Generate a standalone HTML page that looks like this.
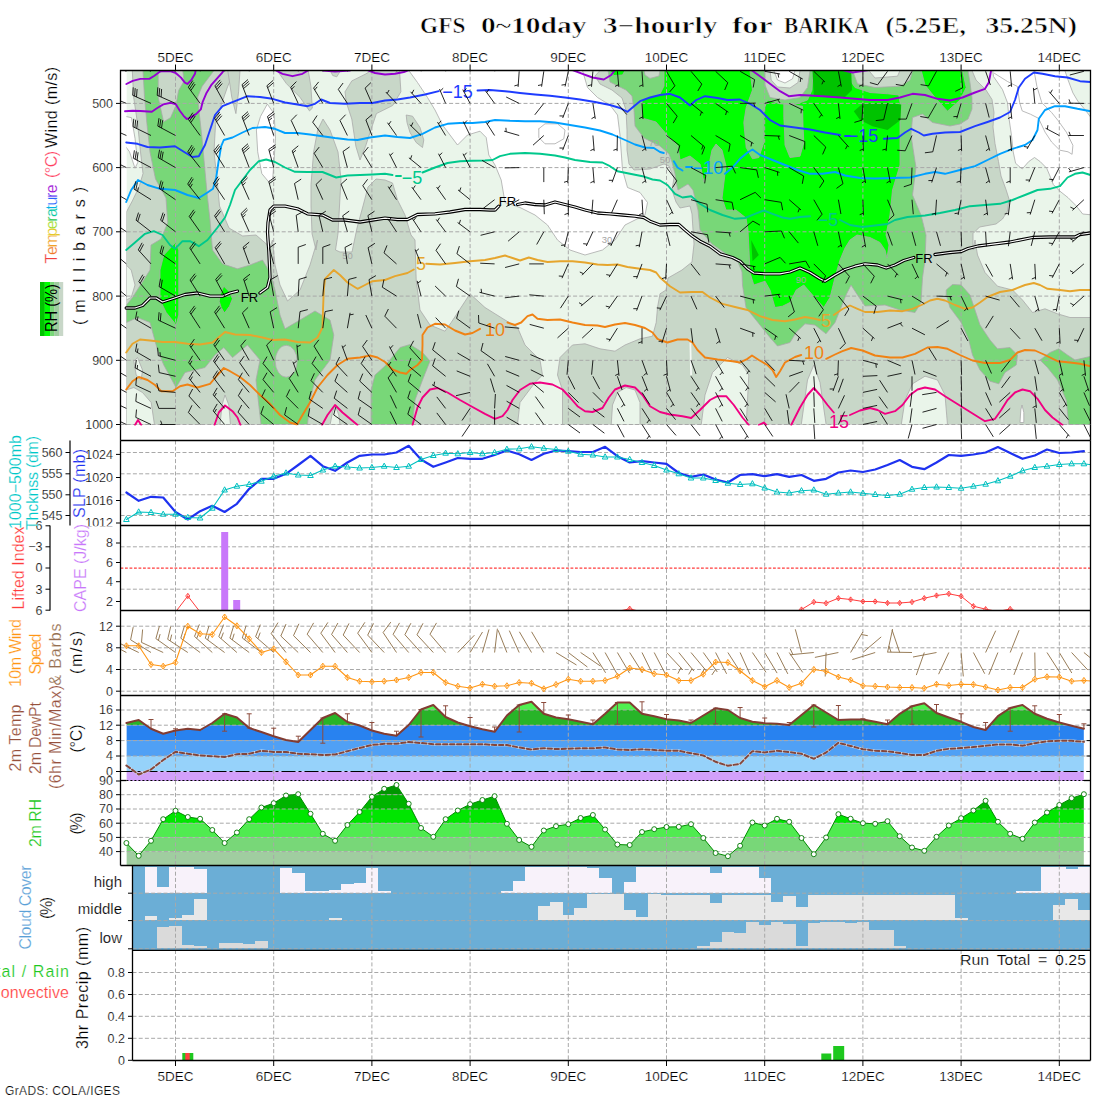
<!DOCTYPE html><html><head><meta charset="utf-8"><title>GFS meteogram BARIKA</title><style>html,body{margin:0;padding:0;background:#fff;}svg{display:block;}</style></head><body><svg width="1100" height="1100" viewBox="0 0 1100 1100" shape-rendering="auto"><defs>
<clipPath id="cmain"><rect x="126.4" y="70.5" width="964.1" height="354.0"/></clipPath>
<clipPath id="cmainf"><rect x="120.5" y="70.0" width="970.0" height="355.5"/></clipPath>
<clipPath id="cbarb"><rect x="120.5" y="70.5" width="970.0" height="369.5"/></clipPath>
<clipPath id="cp2"><rect x="120.5" y="440.5" width="970.0" height="85.0"/></clipPath>
<clipPath id="cp3"><rect x="120.5" y="525.5" width="970.0" height="85.0"/></clipPath>
<clipPath id="cp4"><rect x="120.5" y="610.5" width="970.0" height="85.0"/></clipPath>
<clipPath id="cp5"><rect x="120.5" y="695.5" width="970.0" height="85.0"/></clipPath>
<clipPath id="c1012"><rect x="0" y="500" width="120" height="26.3"/></clipPath>
</defs>
<g clip-path="url(#cmain)">
<rect x="126.4" y="70.5" width="964.1" height="354.0" fill="#eaf5ea" />
<polygon points="408.8,70.5 417.5,82.5 427.5,97.5 435.0,110.0 442.5,125.0 457.5,145.0 467.5,135.0 480.0,131.2 486.2,137.5 488.8,155.0 495.0,165.0 501.2,180.0 505.0,202.5 520.0,207.5 535.0,215.0 547.5,225.0 557.5,240.0 570.0,250.0 585.0,255.0 602.5,250.0 615.0,240.0 625.0,225.0 635.0,220.0 645.0,215.0 647.5,202.5 640.0,192.5 627.5,187.5 622.5,170.0 620.0,135.0 617.5,115.0 610.0,105.0 597.5,97.5 587.5,87.5 582.5,70.5" fill="#fff" stroke="#aaaaaa" stroke-width="0.8" stroke-linejoin="round"/>
<polygon points="267.3,104.1 274.1,113.6 275.5,138.2 274.1,160.0 272.7,179.1 268.6,181.8 261.8,173.6 257.7,151.8 256.4,130.0 260.5,116.4" fill="#fff" stroke="#aaaaaa" stroke-width="0.8" stroke-linejoin="round"/>
<polygon points="125.5,116.4 131.5,117.7 135.0,138.2 137.7,162.7 135.0,168.2 129.5,151.8 125.5,146.4" fill="#fff" stroke="#aaaaaa" stroke-width="0.8" stroke-linejoin="round"/>
<polygon points="992.7,70.0 993.5,76.5 1002.5,89.6 1007.5,102.7 1009.1,119.1 1011.5,135.5 1013.2,151.8 1015.6,163.3 1022.2,169.0 1028.7,161.6 1034.5,157.5 1040.2,161.6 1046.7,168.2 1050.8,178.0 1053.3,184.5 1059.8,191.1 1068.0,197.6 1076.2,205.8 1082.7,214.0 1090.9,214.8 1090.9,117.5 1086.0,110.9 1077.8,101.1 1072.9,92.9 1068.0,79.8 1064.7,70.0" fill="#fff" stroke="#aaaaaa" stroke-width="0.8" stroke-linejoin="round"/>
<polyline points="994.4,73.3 1007.5,81.5 1017.3,86.4 1019.7,102.7 1022.2,110.9 1030.4,114.2 1038.5,118.3 1045.1,132.2 1051.6,142.0 1059.8,150.2 1068.0,151.8 1072.1,154.3 1072.9,145.3 1066.4,132.2 1058.2,120.7 1051.6,112.5 1041.8,102.7 1036.9,86.4 1034.5,73.3" fill="none" stroke="#aaaaaa" stroke-width="0.8" stroke-linejoin="round" stroke-linecap="round" />
<polyline points="538.8,128.8 545.0,123.8 557.5,123.8 565.0,130.0 563.8,138.8 555.0,143.8 545.0,143.8 538.8,137.5 538.8,128.8" fill="none" stroke="#aaaaaa" stroke-width="0.8" stroke-linejoin="round" stroke-linecap="round" />
<polygon points="126.4,212.0 126.4,424.5 517.5,424.5 520.0,402.5 535.0,382.5 542.5,375.0 540.0,360.0 525.0,345.0 517.5,327.5 505.0,320.0 485.0,307.5 470.0,293.8 451.2,322.5 445.0,331.2 430.0,325.0 420.0,310.0 416.2,280.0 415.0,240.0 411.0,235.0 405.0,215.0 397.5,200.0 392.5,183.0 385.0,180.0 376.0,179.0 368.0,187.0 363.0,206.0 357.0,228.0 352.0,252.0 340.0,252.0 335.5,250.0 338.0,233.6 339.5,206.0 341.0,179.0 338.0,152.0 330.0,130.0 323.0,119.0 317.7,130.0 313.6,152.0 311.0,184.5 311.0,206.0 312.0,233.6 316.0,250.0 317.5,240.0 310.0,265.0 300.0,290.0 287.5,301.0 280.0,285.0 275.0,265.0 272.5,240.0 268.6,250.0 267.0,244.5 256.0,235.0 242.7,236.0 229.0,228.0 219.5,206.0 217.0,179.0 214.0,152.0 215.5,124.5 221.0,105.5 227.7,86.4 234.5,70.5 132.3,70.5 133.6,97.0 137.7,124.5 140.5,152.0 143.0,173.6 139.0,187.0 132.3,201.0" fill="#c8d7c8" stroke="#aaaaaa" stroke-width="0.8" stroke-linejoin="round"/>
<polygon points="227.7,70.0 240.0,70.0 238.6,91.8 235.9,113.6 231.8,97.3" fill="#c8d7c8" stroke="#aaaaaa" stroke-width="0.8" stroke-linejoin="round"/>
<polygon points="276.8,70.0 308.2,70.0 310.9,86.4 312.3,108.2 309.5,110.9 300.0,97.3 286.4,83.6" fill="#c8d7c8" stroke="#aaaaaa" stroke-width="0.8" stroke-linejoin="round"/>
<polygon points="330.0,70.0 340.9,70.0 336.8,76.8 332.7,75.5" fill="#c8d7c8" stroke="#aaaaaa" stroke-width="0.8" stroke-linejoin="round"/>
<polygon points="345.0,91.8 351.8,80.9 365.5,74.1 372.3,70.0 399.5,70.0 400.9,91.8 392.7,105.5 376.4,113.6 370.9,130.0 365.5,146.4 360.0,160.0 355.9,146.4 351.8,119.1 346.4,102.7" fill="#c8d7c8" stroke="#aaaaaa" stroke-width="0.8" stroke-linejoin="round"/>
<polygon points="406.2,115.0 412.5,116.2 420.0,127.5 423.8,140.0 422.5,147.5 416.2,142.5 410.0,132.5 407.0,122.5" fill="#c8d7c8" stroke="#aaaaaa" stroke-width="0.8" stroke-linejoin="round"/>
<polygon points="562.5,424.5 1090.5,424.5 1090.5,317.5 1070.0,317.5 1057.5,313.8 1045.0,308.8 1032.5,312.5 1022.5,300.0 1012.5,290.0 997.5,286.2 985.0,272.5 977.5,255.0 975.0,240.0 973.0,250.0 973.0,233.6 979.6,227.0 996.0,224.0 1002.5,219.0 1007.5,211.0 1009.0,199.0 1006.0,189.5 1001.0,176.0 998.5,161.6 995.0,143.6 993.0,127.0 994.0,112.5 992.0,99.5 986.0,90.0 976.0,80.0 972.0,70.5 600.0,70.5 595.0,76.0 600.0,84.0 612.0,90.0 622.0,98.0 626.0,110.0 627.0,130.0 627.0,150.0 629.0,164.0 634.0,170.0 650.0,169.0 664.0,164.0 669.0,166.0 674.0,178.0 672.0,190.0 676.0,202.0 680.0,208.0 690.0,206.0 692.0,214.0 693.0,230.0 694.0,244.0 692.0,262.0 682.0,270.0 668.0,278.0 666.0,290.0 660.0,293.8 657.5,307.5 656.2,322.5 652.5,336.2 640.0,338.8 625.0,345.0 615.0,351.2 600.0,348.8 585.0,343.8 572.5,345.0 560.0,357.5 557.5,375.0 562.5,390.0 562.5,425.0" fill="#c8d7c8" stroke="#aaaaaa" stroke-width="0.8" stroke-linejoin="round"/>
<polygon points="126.2,390.0 133.8,387.5 142.5,392.5 151.2,402.5 154.5,425.0 126.2,425.0" fill="#eaf5ea" stroke="#aaaaaa" stroke-width="0.8" stroke-linejoin="round"/>
<polygon points="133.8,361.2 137.5,357.5 142.5,370.0 141.2,380.0 136.2,375.0" fill="#eaf5ea" stroke="#aaaaaa" stroke-width="0.8" stroke-linejoin="round"/>
<polygon points="126.2,265.0 131.2,270.0 135.0,285.0 131.2,297.5 126.2,300.0" fill="#eaf5ea" stroke="#aaaaaa" stroke-width="0.8" stroke-linejoin="round"/>
<polygon points="220.0,425.0 222.0,405.0 225.0,395.0 228.8,405.0 230.5,425.0" fill="#eaf5ea" stroke="#aaaaaa" stroke-width="0.8" stroke-linejoin="round"/>
<polygon points="330.0,425.0 332.5,412.5 335.0,405.0 338.8,415.0 340.0,425.0" fill="#eaf5ea" stroke="#aaaaaa" stroke-width="0.8" stroke-linejoin="round"/>
<polygon points="701.2,425.0 705.0,395.0 712.5,372.5 727.5,357.5 742.5,365.0 748.8,375.0 747.5,400.0 746.2,425.0" fill="#eaf5ea" stroke="#aaaaaa" stroke-width="0.8" stroke-linejoin="round"/>
<polygon points="801.2,425.0 807.5,380.0 813.8,365.0 820.0,382.5 826.2,425.0" fill="#eaf5ea" stroke="#aaaaaa" stroke-width="0.8" stroke-linejoin="round"/>
<polygon points="901.2,425.0 905.0,400.0 912.5,383.8 925.0,376.2 937.5,380.0 945.0,395.0 947.5,425.0" fill="#eaf5ea" stroke="#aaaaaa" stroke-width="0.8" stroke-linejoin="round"/>
<polygon points="611.2,425.0 612.5,405.0 617.5,392.5 626.2,387.5 635.0,390.0 640.0,402.5 640.0,425.0" fill="#eaf5ea" stroke="#aaaaaa" stroke-width="0.8" stroke-linejoin="round"/>
<polygon points="689.5,342.5 691.2,342.5 692.0,375.0 690.2,375.0" fill="#f4f8f4" stroke="none" stroke-width="0.8" stroke-linejoin="round"/>
<polygon points="1020.0,422.5 1020.8,410.0 1022.0,405.0 1023.8,412.5 1023.8,422.5" fill="#fff" stroke="#aaaaaa" stroke-width="0.8" stroke-linejoin="round"/>
<polygon points="143.0,70.5 144.5,97.0 147.0,124.5 150.0,152.0 155.5,179.0 166.0,198.0 167.7,222.7 161.0,239.0 151.0,245.0 150.0,270.0 132.5,297.5 126.4,305.0 126.4,322.5 137.5,317.5 150.0,322.5 157.5,350.0 163.8,365.0 176.0,387.5 185.0,372.5 205.0,367.5 215.0,355.0 223.8,347.5 232.5,357.5 247.5,345.0 260.0,360.0 256.0,380.0 261.0,424.5 307.5,424.5 310.0,400.0 315.0,380.0 330.0,360.0 333.8,335.0 330.0,320.0 315.0,311.0 300.0,320.0 285.0,328.8 280.0,315.0 275.0,290.0 270.0,272.5 262.5,260.0 250.0,265.0 237.5,268.8 222.5,263.8 212.5,250.0 210.0,220.0 207.0,192.7 204.5,165.5 202.0,138.0 199.0,111.0 197.7,97.0 202.0,86.4 214.0,70.5" fill="#78d778" stroke="#aaaaaa" stroke-width="0.8" stroke-linejoin="round"/>
<polygon points="158.2,70.0 182.7,70.0 184.1,80.9 178.6,90.5 175.9,105.5 170.5,117.7 163.6,121.8 158.2,97.3" fill="#c8d7c8" stroke="#aaaaaa" stroke-width="0.8" stroke-linejoin="round"/>
<ellipse cx="286.2" cy="361.2" rx="11" ry="16" fill="#c8d7c8" stroke="#aaa" stroke-width="0.8"/>
<polygon points="371.0,424.5 371.0,390.0 375.0,375.0 385.0,366.0 400.0,347.5 410.0,344.5 422.5,352.5 430.0,361.0 422.5,380.0 415.0,400.0 412.5,424.5" fill="#78d778" stroke="#aaaaaa" stroke-width="0.8" stroke-linejoin="round"/>
<polygon points="608.0,70.5 610.0,82.0 626.0,90.0 632.0,96.0 634.0,110.0 635.0,126.0 644.0,138.0 660.0,146.0 669.0,154.0 672.0,162.0 675.0,174.0 676.0,182.0 678.0,190.0 688.0,184.0 693.0,190.0 696.0,202.0 698.0,210.0 700.0,230.0 712.0,244.0 726.0,254.0 738.0,262.0 742.0,272.0 742.5,285.0 746.0,307.5 760.0,325.0 770.0,337.5 777.5,346.0 790.0,342.5 796.0,332.5 805.0,323.8 815.0,325.0 826.0,333.8 835.0,322.5 840.0,310.0 846.0,295.0 851.0,285.0 857.5,295.0 865.0,306.0 885.0,305.0 900.0,310.0 915.0,312.5 921.0,302.5 922.5,277.5 925.0,260.0 926.0,235.0 921.0,215.0 912.5,195.0 916.0,167.5 914.0,155.0 911.0,135.0 912.5,117.5 922.5,114.0 932.5,122.5 950.0,126.0 960.0,124.0 968.0,119.0 972.0,109.0 972.0,98.0 970.0,83.0 968.0,70.5" fill="#78d778" stroke="#aaaaaa" stroke-width="0.8" stroke-linejoin="round"/>
<polygon points="644.0,70.0 660.0,70.0 659.0,76.0 650.0,78.4 645.0,75.0" fill="#c8d7c8" stroke="#aaaaaa" stroke-width="0.8" stroke-linejoin="round"/>
<polygon points="946.2,290.0 952.5,284.5 961.2,285.0 970.0,295.0 975.0,310.0 980.0,325.0 990.0,340.0 997.5,348.8 1010.0,347.5 1017.5,355.0 1016.2,365.0 1005.0,372.5 998.8,383.8 990.0,381.2 980.0,370.0 972.5,355.0 968.8,340.0 961.2,322.5 950.0,307.5 946.2,295.0" fill="#78d778" stroke="#aaaaaa" stroke-width="0.8" stroke-linejoin="round"/>
<polygon points="1040.0,360.0 1050.0,352.5 1058.8,348.8 1067.5,355.0 1075.0,360.0 1091.2,356.2 1091.2,425.0 1068.8,425.0 1066.2,400.0 1057.5,380.0 1047.5,367.5" fill="#78d778" stroke="#aaaaaa" stroke-width="0.8" stroke-linejoin="round"/>
<polygon points="175.5,242.5 163.8,255.0 160.0,270.0 160.0,300.0 166.2,312.5 176.2,325.0 178.8,315.0 178.8,250.0" fill="#00ff00" stroke="#aaaaaa" stroke-width="0.8" stroke-linejoin="round"/>
<polygon points="223.8,286.2 228.8,291.2 232.5,298.8 229.5,306.2 224.5,313.0 221.2,307.5 219.2,301.2 220.5,293.8" fill="#00ff00" stroke="#aaaaaa" stroke-width="0.8" stroke-linejoin="round"/>
<polygon points="664.0,70.5 664.0,86.0 660.0,94.0 642.0,100.0 642.0,118.0 656.0,122.0 668.0,136.0 678.0,146.0 680.0,160.0 690.0,156.0 700.0,164.0 704.0,182.0 708.0,170.0 712.0,150.0 716.0,144.0 722.0,150.0 726.0,166.0 724.0,182.0 722.0,198.0 726.0,210.0 736.0,210.0 746.0,218.0 748.0,230.0 749.0,250.0 750.0,272.5 753.8,285.0 765.0,281.2 770.0,290.0 775.0,307.5 782.5,306.2 790.0,302.5 796.2,290.0 803.8,285.0 812.5,295.0 823.8,307.5 830.0,297.5 835.0,277.5 840.0,260.0 845.0,248.0 850.0,240.0 857.0,235.0 870.0,237.5 880.0,242.5 885.0,250.0 887.0,258.0 889.0,245.0 886.0,235.0 890.0,215.0 892.5,190.0 900.0,165.0 900.0,135.0 900.0,102.5 898.8,95.0 887.5,93.8 870.0,92.5 855.0,87.5 850.0,80.0 849.5,70.5" fill="#00ff00" stroke="#aaaaaa" stroke-width="0.8" stroke-linejoin="round"/>
<polygon points="750.0,70.5 813.0,70.5 812.0,90.0 807.5,100.0 795.0,104.5 780.0,103.8 767.5,100.0 763.8,110.0 763.8,142.5 758.8,157.5 752.5,158.8 746.2,147.5 743.8,122.5 746.2,107.5 752.5,90.0 751.2,80.0" fill="#78d778" stroke="#aaaaaa" stroke-width="0.8" stroke-linejoin="round"/>
<polygon points="783.8,103.8 802.5,106.2 803.0,125.0 803.8,142.5 800.0,156.2 790.0,157.5 785.0,145.0 784.5,130.0 783.8,117.5" fill="#78d778" stroke="#aaaaaa" stroke-width="0.8" stroke-linejoin="round"/>
<polygon points="765.0,70.5 810.0,70.5 807.5,87.5 800.0,97.5 785.0,100.0 770.0,97.5 765.0,85.0" fill="#c8d7c8" stroke="#aaaaaa" stroke-width="0.8" stroke-linejoin="round"/>
<polygon points="770.0,70.5 800.0,70.5 798.0,82.5 790.0,88.0 777.5,87.0 771.2,80.0" fill="#eaf5ea" stroke="#aaaaaa" stroke-width="0.8" stroke-linejoin="round"/>
<polygon points="773.8,70.5 795.0,70.5 792.5,78.8 785.0,83.0 777.5,80.0" fill="#fff" stroke="#aaaaaa" stroke-width="0.8" stroke-linejoin="round"/>
<polygon points="852.5,70.5 912.5,70.5 910.0,80.0 900.0,86.2 875.0,87.5 857.5,83.8" fill="#c8d7c8" stroke="#aaaaaa" stroke-width="0.8" stroke-linejoin="round"/>
<polygon points="868.8,70.5 900.0,70.5 897.5,76.2 875.0,78.0" fill="#eaf5ea" stroke="#aaaaaa" stroke-width="0.8" stroke-linejoin="round"/>
<polygon points="921.2,70.5 925.0,85.0 935.0,97.5 947.5,111.2 960.0,100.0 966.2,87.5 962.5,70.5" fill="#00ff00" stroke="#aaaaaa" stroke-width="0.8" stroke-linejoin="round"/>
<polygon points="610.0,70.5 625.0,70.5 622.5,75.0 613.8,75.5" fill="#00ff00" stroke="#aaaaaa" stroke-width="0.8" stroke-linejoin="round"/>
<polygon points="812.5,70.5 851.2,70.5 852.0,90.0 845.0,97.0 832.5,97.5 813.8,96.2" fill="#00c300" stroke="none" stroke-width="0.8" stroke-linejoin="round"/>
<polygon points="853.8,111.2 862.5,103.8 885.0,102.5 901.2,104.5 900.5,120.0 887.5,130.0 872.5,126.2 860.0,120.0" fill="#00c300" stroke="none" stroke-width="0.8" stroke-linejoin="round"/>
<polygon points="751.2,240.0 758.8,255.0 752.5,261.2" fill="#00c300" stroke="none" stroke-width="0.8" stroke-linejoin="round"/>
</g>
<line x1="120.5" y1="103.4" x2="1090.5" y2="103.4" stroke="#a8a8a8" stroke-width="1" stroke-dasharray="4 2.2"/>
<line x1="120.5" y1="167.6" x2="1090.5" y2="167.6" stroke="#a8a8a8" stroke-width="1" stroke-dasharray="4 2.2"/>
<line x1="120.5" y1="231.8" x2="1090.5" y2="231.8" stroke="#a8a8a8" stroke-width="1" stroke-dasharray="4 2.2"/>
<line x1="120.5" y1="296.1" x2="1090.5" y2="296.1" stroke="#a8a8a8" stroke-width="1" stroke-dasharray="4 2.2"/>
<line x1="120.5" y1="360.3" x2="1090.5" y2="360.3" stroke="#a8a8a8" stroke-width="1" stroke-dasharray="4 2.2"/>
<line x1="120.5" y1="424.5" x2="1090.5" y2="424.5" stroke="#a8a8a8" stroke-width="1" stroke-dasharray="4 2.2"/>
<line x1="175.5" y1="70.5" x2="175.5" y2="424.5" stroke="#a8a8a8" stroke-width="1" stroke-dasharray="4 2.2"/>
<line x1="273.7" y1="70.5" x2="273.7" y2="424.5" stroke="#a8a8a8" stroke-width="1" stroke-dasharray="4 2.2"/>
<line x1="371.9" y1="70.5" x2="371.9" y2="424.5" stroke="#a8a8a8" stroke-width="1" stroke-dasharray="4 2.2"/>
<line x1="470.1" y1="70.5" x2="470.1" y2="424.5" stroke="#a8a8a8" stroke-width="1" stroke-dasharray="4 2.2"/>
<line x1="568.3" y1="70.5" x2="568.3" y2="424.5" stroke="#a8a8a8" stroke-width="1" stroke-dasharray="4 2.2"/>
<line x1="666.5" y1="70.5" x2="666.5" y2="424.5" stroke="#a8a8a8" stroke-width="1" stroke-dasharray="4 2.2"/>
<line x1="764.7" y1="70.5" x2="764.7" y2="424.5" stroke="#a8a8a8" stroke-width="1" stroke-dasharray="4 2.2"/>
<line x1="862.9" y1="70.5" x2="862.9" y2="424.5" stroke="#a8a8a8" stroke-width="1" stroke-dasharray="4 2.2"/>
<line x1="961.1" y1="70.5" x2="961.1" y2="424.5" stroke="#a8a8a8" stroke-width="1" stroke-dasharray="4 2.2"/>
<line x1="1059.3" y1="70.5" x2="1059.3" y2="424.5" stroke="#a8a8a8" stroke-width="1" stroke-dasharray="4 2.2"/>
<g clip-path="url(#cmainf)">
<polyline points="126.4,84.0 132.7,80.8 140.4,78.9 149.3,78.9 154.4,75.7 159.4,71.9 162.0,71.0 171.0,71.3 176.0,73.2 181.0,77.6 184.9,82.7 187.4,84.0 191.2,80.2 195.0,73.8 195.7,70.0" fill="none" stroke="#9600d2" stroke-width="1.9" stroke-linejoin="round" stroke-linecap="round" />
<polyline points="125.0,111.3 132.7,110.7 140.4,111.0 151.8,111.7 156.9,108.2 163.3,104.4 170.9,102.8 176.0,104.4 179.8,110.7 183.6,115.8 186.8,119.0 191.2,117.1 196.3,113.9 200.8,109.4 202.7,101.8 206.5,92.9 211.6,84.6 216.7,78.9 221.8,73.2 224.3,70.0" fill="none" stroke="#9600d2" stroke-width="1.9" stroke-linejoin="round" stroke-linecap="round" />
<polyline points="275.0,70.0 282.5,73.8 292.5,76.2 302.5,73.8 308.8,70.0" fill="none" stroke="#9600d2" stroke-width="1.9" stroke-linejoin="round" stroke-linecap="round" />
<polyline points="323.0,70.5 335.0,71.5 350.0,70.5" fill="none" stroke="#9600d2" stroke-width="1.9" stroke-linejoin="round" stroke-linecap="round" />
<polyline points="367.5,70.0 375.0,73.0 385.0,74.5 395.0,73.8 403.8,72.0 408.8,70.0" fill="none" stroke="#9600d2" stroke-width="1.9" stroke-linejoin="round" stroke-linecap="round" />
<polyline points="572.5,70.0 582.5,73.8 592.5,77.5 603.8,79.5 611.2,75.0 615.0,70.0" fill="none" stroke="#9600d2" stroke-width="1.9" stroke-linejoin="round" stroke-linecap="round" />
<polyline points="751.2,70.0 760.0,76.2 770.0,83.8 780.0,91.2 788.8,96.2 800.0,95.0 810.0,95.5 822.5,96.2 840.0,97.5 855.0,98.8 870.0,100.0 887.5,100.0 900.0,97.5 912.5,93.8 925.0,95.0 937.5,98.8 950.0,100.5 962.5,97.5 975.0,92.5 985.0,88.8 988.8,82.5 991.2,70.0" fill="none" stroke="#9600d2" stroke-width="1.9" stroke-linejoin="round" stroke-linecap="round" />
<polyline points="842.5,70.0 852.5,72.5 868.8,70.0" fill="none" stroke="#9600d2" stroke-width="1.9" stroke-linejoin="round" stroke-linecap="round" />
<polyline points="126.2,142.5 137.5,143.8 147.5,147.0 160.0,147.5 175.0,146.2 185.0,152.5 192.5,157.0 198.8,156.2 205.0,145.0 210.0,130.0 215.0,115.0 222.5,106.2 235.0,101.2 247.5,96.2 260.0,97.0 272.5,98.8 285.0,102.5 297.5,104.5 307.5,106.2 315.0,103.8 321.2,99.5 330.0,103.0 345.0,103.8 360.0,103.0 372.5,103.0 385.0,100.5 397.5,99.5 410.0,97.5 425.0,94.5 438.8,91.2" fill="none" stroke="#1e3cff" stroke-width="1.9" stroke-linejoin="round" stroke-linecap="round" />
<polyline points="477.5,90.5 490.0,90.0 505.0,91.2 520.0,93.0 535.0,94.5 550.0,95.8 565.0,97.5 580.0,99.5 595.0,102.0 610.0,105.0 620.0,108.0 627.5,111.8 632.5,107.5 640.0,101.2 650.0,97.5 660.0,95.0 670.0,93.8 680.0,97.5 690.0,105.5 696.2,100.0 705.0,96.2 717.5,98.0 727.5,100.0 740.0,99.5 750.0,103.8 760.0,110.0 770.0,120.0 780.0,125.5 795.0,127.5 810.0,129.5 825.0,132.5 840.0,135.0" fill="none" stroke="#1e3cff" stroke-width="1.9" stroke-linejoin="round" stroke-linecap="round" />
<polyline points="845.0,136.0 850.0,136.0" fill="none" stroke="#1e3cff" stroke-width="1.9" stroke-linejoin="round" stroke-linecap="round" />
<polyline points="883.8,138.8 897.5,138.0 905.0,132.5 911.2,128.8 918.8,132.5 923.8,135.5 932.5,133.8 945.0,132.5 960.0,132.0 975.0,126.2 987.5,122.0 1000.0,117.5 1010.0,112.0 1015.0,100.0 1018.8,87.5 1025.0,78.8 1033.8,72.5 1042.5,73.8 1055.0,76.2 1067.5,77.5 1080.0,81.2 1090.5,82.0" fill="none" stroke="#1e3cff" stroke-width="1.9" stroke-linejoin="round" stroke-linecap="round" />
<polyline points="126.2,202.0 131.2,190.0 138.0,180.0 147.5,185.0 160.0,188.8 175.0,190.0 187.5,195.0 198.8,198.0 207.5,192.5 213.0,188.8 216.2,177.5 218.8,160.0 221.2,146.2 223.8,140.0 232.5,137.5 242.5,132.5 252.5,128.0 265.0,127.0 275.0,128.8 285.0,133.0 297.5,133.0 310.0,134.5 322.5,136.2 335.0,138.0 347.5,139.5 357.5,140.0 370.0,137.5 385.0,135.5 397.5,137.0 410.0,138.0 422.5,133.8 435.0,127.5 447.5,123.8 460.0,123.0 472.5,123.0 485.0,122.0 495.0,120.0 510.0,120.8 525.0,121.2 540.0,121.2 555.0,122.5 570.0,125.0 585.0,127.5 600.0,130.5 612.5,134.5 625.0,140.0 635.0,144.5 645.0,147.5 653.8,148.0 660.0,152.0 663.8,153.0" fill="none" stroke="#00a0ff" stroke-width="1.9" stroke-linejoin="round" stroke-linecap="round" />
<polyline points="673.8,161.2 677.5,167.5 682.5,170.5" fill="none" stroke="#00a0ff" stroke-width="1.9" stroke-linejoin="round" stroke-linecap="round" />
<polyline points="686.0,167.0 692.0,167.0" fill="none" stroke="#00a0ff" stroke-width="1.9" stroke-linejoin="round" stroke-linecap="round" />
<polyline points="725.0,173.8 732.5,167.5 740.0,158.8 747.5,152.5 752.5,149.5 760.0,155.0 772.5,160.0 785.0,165.0 797.5,170.0 810.0,173.8 822.5,173.8 835.0,172.0 845.0,175.5 860.0,178.0 875.0,178.5 892.5,178.0 910.0,177.5 925.0,173.8 935.0,172.0 945.0,173.8 960.0,170.0 975.0,166.2 987.5,160.0 1000.0,153.8 1012.5,148.8 1025.0,145.0 1032.5,140.0 1037.5,130.0 1038.8,118.8 1045.0,110.0 1055.0,106.2 1065.0,106.2 1077.5,108.8 1090.5,111.2" fill="none" stroke="#00a0ff" stroke-width="1.9" stroke-linejoin="round" stroke-linecap="round" />
<polyline points="126.2,250.0 135.0,242.5 145.0,233.8 153.8,231.2 162.5,235.0 170.0,245.0 175.0,248.8 182.5,241.2 190.0,241.2 198.8,246.2 207.5,240.0 217.5,227.5 225.0,217.5 230.0,205.0 235.0,190.0 242.5,180.0 250.0,170.0 258.8,161.2 266.2,159.5 275.0,162.0 285.0,167.5 295.0,171.8 307.5,172.0 322.5,172.0 330.0,175.0 336.2,177.5 347.5,175.5 360.0,175.0 372.5,174.5 385.0,173.8 392.5,175.0" fill="none" stroke="#00c88c" stroke-width="1.9" stroke-linejoin="round" stroke-linecap="round" />
<polyline points="396.0,176.0 401.0,176.0" fill="none" stroke="#00c88c" stroke-width="1.9" stroke-linejoin="round" stroke-linecap="round" />
<polyline points="422.5,172.5 435.0,167.5 447.5,163.0 460.0,161.2 472.5,160.8 485.0,160.5 492.5,160.0 500.0,156.2 510.0,153.8 525.0,153.0 540.0,153.8 555.0,155.5 565.0,157.5 575.0,160.0 590.0,162.0 602.5,162.5 610.0,166.2 617.5,171.2 630.0,173.8 642.5,176.2 652.5,179.5 660.0,180.5 667.5,185.0 675.0,193.8 682.5,197.5 691.2,196.2 700.0,203.8 710.0,210.0 722.5,215.0 735.0,218.8 745.0,218.0 755.0,213.8 763.8,210.5 772.5,213.8 782.5,217.5 790.0,218.8 800.0,217.0 810.0,216.2" fill="none" stroke="#00c88c" stroke-width="1.9" stroke-linejoin="round" stroke-linecap="round" />
<polyline points="840.0,220.0 850.0,225.0 862.5,227.0 875.0,225.5 887.5,224.0 895.0,220.0 907.5,217.0 925.0,215.5 940.0,213.0 955.0,210.0 970.0,206.2 985.0,205.0 1000.0,203.8 1012.5,200.0 1025.0,195.0 1037.5,190.0 1050.0,188.8 1060.0,186.2 1067.5,177.5 1075.0,173.8 1082.5,172.5 1090.5,175.0" fill="none" stroke="#00c88c" stroke-width="1.9" stroke-linejoin="round" stroke-linecap="round" />
<polyline points="126.2,352.5 132.5,343.8 140.0,339.5 150.0,340.5 162.5,342.0 175.0,342.0 187.5,343.8 200.0,344.5 212.5,342.5 220.0,336.2 225.0,332.0 235.0,334.5 250.0,335.0 262.5,337.5 272.5,340.0 285.0,339.5 297.5,342.0 310.0,342.5 317.5,337.5 322.5,327.5 323.0,310.0 323.8,290.0 325.0,278.8 333.8,270.0 340.0,275.0 347.5,282.5 357.5,288.8 365.0,285.0 372.5,281.2 385.0,280.0 395.0,276.2 407.5,273.0 413.8,269.5" fill="none" stroke="#e6a52d" stroke-width="1.9" stroke-linejoin="round" stroke-linecap="round" />
<polyline points="426.2,263.8 440.0,264.5 455.0,263.0 470.0,261.2 485.0,260.0 495.0,258.0 505.0,255.5 512.5,258.0 520.0,260.5 528.8,257.5 537.5,260.0 547.5,262.0 560.0,261.2 572.5,261.2 585.0,262.5 597.5,264.5 607.5,265.0 617.5,264.5 627.5,267.0 640.0,268.8 650.0,270.0 656.2,272.5 660.0,277.5 670.0,286.2 680.0,292.5 692.5,292.0 702.5,292.0 710.0,297.5 722.5,303.8 735.0,307.0 747.5,310.0 760.0,316.2 772.5,320.0 785.0,321.2 795.0,319.5 805.0,317.0 815.0,318.8 820.0,320.0" fill="none" stroke="#e6a52d" stroke-width="1.9" stroke-linejoin="round" stroke-linecap="round" />
<polyline points="833.8,315.0 842.5,309.0 850.0,305.5 857.5,308.8 865.0,312.0 877.5,312.0 890.0,310.5 902.5,311.2 912.5,308.8 922.5,304.5 930.0,300.5 937.5,298.8 945.0,300.5 955.0,305.0 965.0,308.8 972.5,307.5 980.0,302.5 987.5,297.0 1000.0,292.0 1012.5,290.0 1025.0,285.0 1033.8,283.0 1040.0,285.0 1047.5,288.8 1060.0,290.0 1070.0,291.2 1080.0,290.0 1090.5,290.0" fill="none" stroke="#e6a52d" stroke-width="1.9" stroke-linejoin="round" stroke-linecap="round" />
<polyline points="126.2,389.5 132.5,381.2 138.8,377.0 147.5,380.0 155.0,385.0 161.2,391.2 172.5,391.2 180.0,386.2 187.5,384.5 197.5,387.5 210.0,383.8 217.5,375.0 223.8,368.0 230.0,371.2 240.0,377.0 250.0,385.0 260.0,395.0 270.0,403.8 280.0,415.0 290.0,422.5 297.0,424.5 302.5,415.0 310.0,402.5 317.5,387.5 327.5,375.0 337.5,365.0 347.5,358.8 360.0,357.5 370.0,355.5 377.5,357.5 385.0,362.0 392.5,369.5 400.0,372.5 406.2,373.8 410.0,370.0 417.5,365.0 422.0,360.0 422.5,345.0 422.5,335.0 427.5,327.5 435.0,323.8 445.0,324.5 455.0,330.5 465.0,334.5 472.5,333.0 480.0,328.8" fill="none" stroke="#f08214" stroke-width="1.9" stroke-linejoin="round" stroke-linecap="round" />
<polyline points="507.5,322.5 515.0,325.0 521.2,322.5 527.5,316.2 532.5,314.5 537.5,318.8 547.5,320.0 560.0,319.5 572.5,322.5 585.0,325.0 597.5,325.5 605.0,327.0 615.0,324.5 625.0,323.0 635.0,325.0 645.0,328.0 652.5,332.5 657.5,338.8 660.0,340.0 667.5,342.5 677.5,339.5 687.5,339.5 692.5,342.5 697.5,350.0 705.0,357.5 717.5,359.5 732.5,361.2 740.0,362.5 747.5,358.8 752.0,355.5 758.8,360.0 767.5,365.0 772.5,370.0 776.2,377.0 780.0,371.2 785.0,362.5 795.0,357.0 801.2,355.0" fill="none" stroke="#f08214" stroke-width="1.9" stroke-linejoin="round" stroke-linecap="round" />
<polyline points="826.2,358.8 835.0,354.5 842.5,351.2 851.2,348.0 862.5,350.5 875.0,355.5 890.0,357.5 902.5,357.5 915.0,353.8 927.5,347.5 937.5,347.0 947.5,348.8 960.0,355.0 972.5,360.5 985.0,363.0 1000.0,363.0 1010.0,360.0 1017.5,352.5 1025.0,350.0 1035.0,350.5 1045.0,355.0 1057.5,361.2 1070.0,362.5 1080.0,363.8 1090.5,366.2" fill="none" stroke="#f08214" stroke-width="1.9" stroke-linejoin="round" stroke-linecap="round" />
<polyline points="135.0,425.0 138.0,420.0 141.2,425.0" fill="none" stroke="#f00082" stroke-width="1.9" stroke-linejoin="round" stroke-linecap="round" />
<polyline points="214.5,425.0 218.8,412.5 225.0,405.5 232.5,411.2 237.5,417.5 240.5,425.0" fill="none" stroke="#f00082" stroke-width="1.9" stroke-linejoin="round" stroke-linecap="round" />
<polyline points="322.0,425.0 327.5,415.0 335.0,405.0 342.5,412.5 350.0,418.8 357.5,425.0" fill="none" stroke="#f00082" stroke-width="1.9" stroke-linejoin="round" stroke-linecap="round" />
<polyline points="412.5,425.0 417.5,407.5 422.5,397.5 430.0,389.5 437.5,388.0 447.5,392.5 460.0,400.0 472.5,407.0 485.0,413.8 495.0,418.8 502.5,416.2 507.5,410.0 512.5,400.0 520.0,390.0 530.0,383.8 540.0,382.5 552.5,384.5 562.5,389.5 570.0,397.5 577.5,406.2 585.0,411.2 592.5,412.0 602.5,408.0 608.8,397.5 615.0,389.5 625.0,385.5 635.0,387.5 642.5,395.0 650.0,406.2 660.0,412.0 670.0,414.5 682.5,416.2 691.2,418.0 700.0,410.0 710.0,400.0 717.5,396.2 726.2,396.2 733.8,405.0 742.5,417.5 748.8,425.0" fill="none" stroke="#f00082" stroke-width="1.9" stroke-linejoin="round" stroke-linecap="round" />
<polyline points="758.8,425.0 763.8,422.5 766.2,425.0" fill="none" stroke="#f00082" stroke-width="1.9" stroke-linejoin="round" stroke-linecap="round" />
<polyline points="791.2,425.0 800.0,407.5 807.5,395.0 813.8,388.0 820.0,395.0 827.5,405.0 833.8,412.5" fill="none" stroke="#f00082" stroke-width="1.9" stroke-linejoin="round" stroke-linecap="round" />
<polyline points="850.0,415.0 860.0,410.5 870.0,408.0 877.5,410.0 885.0,413.8 895.0,411.2 902.5,405.0 910.0,395.0 917.5,389.5 925.0,387.5 935.0,389.5 945.0,396.2 955.0,402.5 965.0,408.8 975.0,415.0 985.0,421.2 995.0,418.8 1001.2,410.0 1007.5,400.0 1015.0,392.5 1022.5,389.5 1030.0,391.2 1037.5,398.8 1045.0,410.0 1052.5,417.5 1062.5,425.0" fill="none" stroke="#f00082" stroke-width="1.9" stroke-linejoin="round" stroke-linecap="round" />
<polyline points="126.2,308.0 135.0,308.0 142.5,305.5 150.0,298.0 156.2,298.0 162.5,302.0 172.5,298.8 185.0,294.5 197.5,293.0 210.0,296.2 222.5,296.2 230.0,293.0 237.5,291.2" fill="none" stroke="#000" stroke-width="3.3" stroke-linejoin="round" stroke-linecap="round" />
<polyline points="126.2,308.0 135.0,308.0 142.5,305.5 150.0,298.0 156.2,298.0 162.5,302.0 172.5,298.8 185.0,294.5 197.5,293.0 210.0,296.2 222.5,296.2 230.0,293.0 237.5,291.2" fill="none" stroke="#fff" stroke-width="1.2" stroke-linejoin="round" stroke-linecap="round" />
<polyline points="260.0,293.0 267.5,287.5 270.0,277.5 269.5,265.0 268.8,250.0 268.0,240.0 267.5,232.0 268.0,222.5 270.0,210.0 273.8,206.2 285.0,206.2 297.5,208.8 307.5,213.8 322.5,215.0 332.5,220.0 345.0,220.0 360.0,222.0 372.5,220.0 385.0,218.2 397.5,219.5 407.5,219.5 417.5,214.5 435.0,213.8 450.0,212.0 465.0,209.5 480.0,209.5 490.0,210.0 495.0,210.0 498.8,206.2" fill="none" stroke="#000" stroke-width="3.3" stroke-linejoin="round" stroke-linecap="round" />
<polyline points="260.0,293.0 267.5,287.5 270.0,277.5 269.5,265.0 268.8,250.0 268.0,240.0 267.5,232.0 268.0,222.5 270.0,210.0 273.8,206.2 285.0,206.2 297.5,208.8 307.5,213.8 322.5,215.0 332.5,220.0 345.0,220.0 360.0,222.0 372.5,220.0 385.0,218.2 397.5,219.5 407.5,219.5 417.5,214.5 435.0,213.8 450.0,212.0 465.0,209.5 480.0,209.5 490.0,210.0 495.0,210.0 498.8,206.2" fill="none" stroke="#fff" stroke-width="1.2" stroke-linejoin="round" stroke-linecap="round" />
<polyline points="517.5,204.5 525.0,203.0 535.0,204.5 545.0,205.0 555.0,202.0 565.0,204.5 575.0,207.0 585.0,210.0 597.5,213.0 610.0,213.8 622.5,215.0 635.0,216.2 643.8,217.5 650.0,221.2 660.0,225.0 670.0,224.5 678.8,224.5 685.0,230.0 692.5,236.2 700.0,241.2 710.0,246.2 720.0,253.8 732.5,257.5 740.0,261.2 747.5,268.8 753.8,273.0 765.0,273.8 780.0,273.8 790.0,272.0 800.0,268.0 810.0,272.5 820.0,278.8 825.0,281.2 835.0,275.0 845.0,269.5 855.0,266.2 865.0,263.8 877.5,265.0 886.2,268.0 895.0,265.0 903.8,260.5 913.8,257.5" fill="none" stroke="#000" stroke-width="3.3" stroke-linejoin="round" stroke-linecap="round" />
<polyline points="517.5,204.5 525.0,203.0 535.0,204.5 545.0,205.0 555.0,202.0 565.0,204.5 575.0,207.0 585.0,210.0 597.5,213.0 610.0,213.8 622.5,215.0 635.0,216.2 643.8,217.5 650.0,221.2 660.0,225.0 670.0,224.5 678.8,224.5 685.0,230.0 692.5,236.2 700.0,241.2 710.0,246.2 720.0,253.8 732.5,257.5 740.0,261.2 747.5,268.8 753.8,273.0 765.0,273.8 780.0,273.8 790.0,272.0 800.0,268.0 810.0,272.5 820.0,278.8 825.0,281.2 835.0,275.0 845.0,269.5 855.0,266.2 865.0,263.8 877.5,265.0 886.2,268.0 895.0,265.0 903.8,260.5 913.8,257.5" fill="none" stroke="#fff" stroke-width="1.2" stroke-linejoin="round" stroke-linecap="round" />
<polyline points="935.0,254.5 950.0,252.5 961.2,251.5 968.0,248.5 978.0,246.0 995.0,243.8 1010.0,242.0 1032.5,237.5 1050.0,237.0 1075.0,237.0 1080.0,234.5 1090.5,233.0" fill="none" stroke="#000" stroke-width="3.3" stroke-linejoin="round" stroke-linecap="round" />
<polyline points="935.0,254.5 950.0,252.5 961.2,251.5 968.0,248.5 978.0,246.0 995.0,243.8 1010.0,242.0 1032.5,237.5 1050.0,237.0 1075.0,237.0 1080.0,234.5 1090.5,233.0" fill="none" stroke="#fff" stroke-width="1.2" stroke-linejoin="round" stroke-linecap="round" />
</g>
<text x="457.5" y="97.5" font-size="18" fill="#1e3cff" text-anchor="middle" font-family="Liberation Sans" >−15</text>
<text x="863.0" y="142.0" font-size="18" fill="#1e3cff" text-anchor="middle" font-family="Liberation Sans" >−15</text>
<text x="708.0" y="174.0" font-size="18" fill="#00a0ff" text-anchor="middle" font-family="Liberation Sans" >−10</text>
<text x="412.0" y="183.5" font-size="18" fill="#00c88c" text-anchor="middle" font-family="Liberation Sans" >−5</text>
<text x="828.0" y="225.5" font-size="18" fill="#00c88c" text-anchor="middle" font-family="Liberation Sans" >−5</text>
<text x="421.0" y="269.5" font-size="18" fill="#e6a52d" text-anchor="middle" font-family="Liberation Sans" >5</text>
<text x="826.0" y="327.0" font-size="18" fill="#e6a52d" text-anchor="middle" font-family="Liberation Sans" >5</text>
<text x="495.0" y="335.5" font-size="18" fill="#f08214" text-anchor="middle" font-family="Liberation Sans" >10</text>
<text x="814.0" y="358.5" font-size="18" fill="#f08214" text-anchor="middle" font-family="Liberation Sans" >10</text>
<text x="839.0" y="427.5" font-size="18" fill="#f00082" text-anchor="middle" font-family="Liberation Sans" >15</text>
<text x="249.5" y="302.0" font-size="13" fill="#000" text-anchor="middle" font-family="Liberation Sans" >FR</text>
<text x="507.5" y="205.5" font-size="13" fill="#000" text-anchor="middle" font-family="Liberation Sans" >FR</text>
<text x="924.0" y="262.5" font-size="13" fill="#000" text-anchor="middle" font-family="Liberation Sans" >FR</text>
<text x="347.5" y="259.0" font-size="9.5" fill="#a5a5a5" text-anchor="middle" font-family="Liberation Sans" >50</text>
<text x="607.0" y="243.0" font-size="9.5" fill="#a5a5a5" text-anchor="middle" font-family="Liberation Sans" >30</text>
<text x="654.0" y="146.0" font-size="9.5" fill="#a5a5a5" text-anchor="middle" font-family="Liberation Sans" >70</text>
<text x="665.0" y="163.0" font-size="9.5" fill="#a5a5a5" text-anchor="middle" font-family="Liberation Sans" >50</text>
<text x="801.0" y="283.0" font-size="9.5" fill="#a5a5a5" text-anchor="middle" font-family="Liberation Sans" >90</text>
<g clip-path="url(#cbarb)">
<path d="M126.4 71.3 L107.9 63.8 M107.9 63.8 L108.1 55.8 M109.8 64.6 L110.1 56.6 M111.8 65.4 L112.0 57.4" stroke="#000" stroke-width="0.85" fill="none"/>
<path d="M126.4 103.4 L107.9 95.9 M107.9 95.9 L108.1 87.9 M109.8 96.7 L110.1 88.7 M111.8 97.5 L112.0 89.5" stroke="#000" stroke-width="0.85" fill="none"/>
<path d="M126.4 135.5 L108.1 127.4 M108.1 127.4 L108.7 119.4 M110.0 128.2 L110.6 120.2 M112.0 129.1 L112.5 121.1" stroke="#000" stroke-width="0.85" fill="none"/>
<path d="M126.4 167.6 L108.4 158.9 M108.4 158.9 L109.3 150.9 M110.3 159.8 L111.1 151.8 M112.2 160.7 L113.0 152.7" stroke="#000" stroke-width="0.85" fill="none"/>
<path d="M126.4 199.7 L109.1 189.7 M109.1 189.7 L110.5 181.9 M110.9 190.8 L112.3 182.9 M112.7 191.8 L113.4 187.9" stroke="#000" stroke-width="0.85" fill="none"/>
<path d="M126.4 231.8 L110.0 220.4 M110.0 220.4 L112.1 212.6 M111.7 221.6 L113.8 213.8 M113.5 222.8 L114.5 218.9" stroke="#000" stroke-width="0.85" fill="none"/>
<path d="M126.4 263.9 L111.9 251.8 M111.9 251.8 L114.7 244.3 M113.5 253.2 L116.3 245.6" stroke="#000" stroke-width="0.85" fill="none"/>
<path d="M126.4 296.1 L111.9 283.9 M111.9 283.9 L114.7 276.4 M113.5 285.3 L116.3 277.7" stroke="#000" stroke-width="0.85" fill="none"/>
<path d="M126.4 328.2 L110.9 317.3 M110.9 317.3 L113.0 309.6 M112.6 318.5 L114.7 310.8" stroke="#000" stroke-width="0.85" fill="none"/>
<path d="M126.4 360.3 L111.8 350.1 M111.8 350.1 L113.9 342.3 M113.5 351.3 L114.6 347.4" stroke="#000" stroke-width="0.85" fill="none"/>
<path d="M126.4 376.3 L111.0 367.4 M111.0 367.4 L112.4 359.6 M112.8 368.5 L113.5 364.5" stroke="#000" stroke-width="0.85" fill="none"/>
<path d="M126.4 392.4 L110.7 384.0 M110.7 384.0 L111.8 376.1 M112.5 385.0 L113.1 381.1" stroke="#000" stroke-width="0.85" fill="none"/>
<path d="M126.4 408.4 L111.3 401.4 M111.3 401.4 L112.0 393.4" stroke="#000" stroke-width="0.85" fill="none"/>
<path d="M126.4 424.5 L111.3 417.4 M111.3 417.4 L112.0 409.5" stroke="#000" stroke-width="0.85" fill="none"/>
<path d="M151.0 71.3 L132.7 63.2 M132.7 63.2 L133.2 55.2 M134.6 64.0 L135.2 56.0 M136.5 64.9 L137.1 56.9" stroke="#000" stroke-width="0.85" fill="none"/>
<path d="M151.0 103.4 L132.7 95.3 M132.7 95.3 L133.2 87.3 M134.6 96.1 L135.2 88.1 M136.5 97.0 L137.1 89.0" stroke="#000" stroke-width="0.85" fill="none"/>
<path d="M151.0 135.5 L133.0 126.7 M133.0 126.7 L133.8 118.8 M134.9 127.7 L135.7 119.7 M136.7 128.6 L137.6 120.6" stroke="#000" stroke-width="0.85" fill="none"/>
<path d="M151.0 167.6 L133.3 158.2 M133.3 158.2 L134.4 150.3 M135.1 159.2 L136.3 151.3 M137.0 160.2 L138.1 152.3" stroke="#000" stroke-width="0.85" fill="none"/>
<path d="M151.0 199.7 L134.0 189.1 M134.0 189.1 L135.7 181.3 M135.8 190.2 L137.4 182.4 M137.6 191.4 L138.4 187.4" stroke="#000" stroke-width="0.85" fill="none"/>
<path d="M151.0 231.8 L136.1 220.2 M136.1 220.2 L138.5 212.6 M137.7 221.5 L140.2 213.9" stroke="#000" stroke-width="0.85" fill="none"/>
<path d="M151.0 263.9 L138.3 249.9 M138.3 249.9 L142.1 242.8 M139.7 251.5 L143.5 244.4" stroke="#000" stroke-width="0.85" fill="none"/>
<path d="M151.0 296.1 L138.8 281.6 M138.8 281.6 L142.8 274.7 M140.2 283.2 L144.2 276.3" stroke="#000" stroke-width="0.85" fill="none"/>
<path d="M151.0 328.2 L135.5 319.3 M135.5 319.3 L136.9 311.4 M137.4 320.3 L138.0 316.4" stroke="#000" stroke-width="0.85" fill="none"/>
<path d="M151.0 360.3 L135.5 351.4 M135.5 351.4 L136.9 343.5 M137.4 352.4 L138.0 348.5" stroke="#000" stroke-width="0.85" fill="none"/>
<path d="M151.0 376.3 L135.2 368.0 M135.2 368.0 L136.3 360.1 M137.1 369.0 L137.6 365.0" stroke="#000" stroke-width="0.85" fill="none"/>
<path d="M151.0 392.4 L135.8 385.3 M135.8 385.3 L136.5 377.4" stroke="#000" stroke-width="0.85" fill="none"/>
<path d="M151.0 408.4 L135.8 401.4 M135.8 401.4 L136.5 393.4" stroke="#000" stroke-width="0.85" fill="none"/>
<path d="M151.0 424.5 L135.8 417.4 M135.8 417.4 L136.5 409.5" stroke="#000" stroke-width="0.85" fill="none"/>
<path d="M175.5 71.3 L157.2 63.2 M157.2 63.2 L157.8 55.2 M159.1 64.0 L159.7 56.0 M161.1 64.9 L161.6 56.9" stroke="#000" stroke-width="0.85" fill="none"/>
<path d="M175.5 103.4 L157.2 95.3 M157.2 95.3 L157.8 87.3 M159.1 96.1 L159.7 88.1 M161.1 97.0 L161.6 89.0" stroke="#000" stroke-width="0.85" fill="none"/>
<path d="M175.5 135.5 L157.8 126.1 M157.8 126.1 L159.0 118.2 M159.7 127.1 L160.8 119.2 M161.5 128.1 L162.7 120.2" stroke="#000" stroke-width="0.85" fill="none"/>
<path d="M175.5 167.6 L158.2 157.6 M158.2 157.6 L159.6 149.7 M160.0 158.7 L161.4 150.8 M161.8 159.7 L163.2 151.8" stroke="#000" stroke-width="0.85" fill="none"/>
<path d="M175.5 199.7 L159.1 188.3 M159.1 188.3 L161.2 180.5 M160.8 189.5 L162.9 181.7 M162.6 190.7 L163.6 186.8" stroke="#000" stroke-width="0.85" fill="none"/>
<path d="M175.5 231.8 L160.6 220.2 M160.6 220.2 L163.1 212.6 M162.3 221.5 L164.7 213.9" stroke="#000" stroke-width="0.85" fill="none"/>
<path d="M175.5 263.9 L160.0 253.1 M160.0 253.1 L162.1 245.4 M161.7 254.3 L163.8 246.6" stroke="#000" stroke-width="0.85" fill="none"/>
<path d="M175.5 296.1 L159.1 286.6 M159.1 286.6 L160.5 278.7 M161.0 287.7 L162.3 279.8" stroke="#000" stroke-width="0.85" fill="none"/>
<path d="M175.5 328.2 L158.4 320.2 M158.4 320.2 L159.1 312.2 M160.3 321.1 L161.0 313.1" stroke="#000" stroke-width="0.85" fill="none"/>
<path d="M175.5 360.3 L158.3 355.7 M158.3 355.7 L157.6 347.7 M160.3 356.2 L160.0 352.2" stroke="#000" stroke-width="0.85" fill="none"/>
<path d="M175.5 376.3 L159.2 372.6 M159.2 372.6 L158.3 364.6" stroke="#000" stroke-width="0.85" fill="none"/>
<path d="M175.5 392.4 L158.9 390.9 M158.9 390.9 L156.8 383.2" stroke="#000" stroke-width="0.85" fill="none"/>
<path d="M175.5 408.4 L158.8 408.4 M158.8 408.4 L156.1 400.9" stroke="#000" stroke-width="0.85" fill="none"/>
<path d="M175.5 424.5 L159.9 424.5 M162.0 424.5 L160.6 420.7" stroke="#000" stroke-width="0.85" fill="none"/>
<path d="M200.1 71.3 L188.3 55.1 M188.3 55.1 L192.8 48.5 M189.5 56.8 L194.0 50.2 M190.8 58.5 L195.2 51.9" stroke="#000" stroke-width="0.85" fill="none"/>
<path d="M200.1 103.4 L188.3 87.2 M188.3 87.2 L192.8 80.6 M189.5 88.9 L194.0 82.3 M190.8 90.6 L195.2 84.0" stroke="#000" stroke-width="0.85" fill="none"/>
<path d="M200.1 135.5 L188.3 119.3 M188.3 119.3 L192.8 112.7 M189.5 121.0 L194.0 114.4 M190.8 122.7 L195.2 116.1" stroke="#000" stroke-width="0.85" fill="none"/>
<path d="M200.1 167.6 L187.7 151.9 M187.7 151.9 L192.0 145.1 M189.0 153.5 L193.3 146.7 M190.3 155.2 L194.6 148.4" stroke="#000" stroke-width="0.85" fill="none"/>
<path d="M200.1 199.7 L187.7 184.0 M187.7 184.0 L192.0 177.2 M189.0 185.6 L193.3 178.8 M190.3 187.3 L192.4 183.9" stroke="#000" stroke-width="0.85" fill="none"/>
<path d="M200.1 231.8 L189.2 216.4 M189.2 216.4 L193.8 209.8 M190.4 218.1 L195.0 211.5" stroke="#000" stroke-width="0.85" fill="none"/>
<path d="M200.1 263.9 L189.8 248.1 M189.8 248.1 L194.6 241.7 M190.9 249.9 L195.7 243.5" stroke="#000" stroke-width="0.85" fill="none"/>
<path d="M200.1 296.1 L190.0 280.0 M190.0 280.0 L195.0 273.7 M191.1 281.8 L196.1 275.5" stroke="#000" stroke-width="0.85" fill="none"/>
<path d="M200.1 328.2 L189.8 312.3 M189.8 312.3 L194.6 305.9 M190.9 314.1 L195.7 307.7" stroke="#000" stroke-width="0.85" fill="none"/>
<path d="M200.1 360.3 L189.8 345.7 M189.8 345.7 L194.4 339.1 M191.0 347.4 L193.3 344.1" stroke="#000" stroke-width="0.85" fill="none"/>
<path d="M200.1 376.3 L188.6 362.7 M188.6 362.7 L192.6 355.8 M190.0 364.3 L192.0 360.8" stroke="#000" stroke-width="0.85" fill="none"/>
<path d="M200.1 392.4 L189.1 378.4 M189.1 378.4 L193.3 371.6 M190.4 380.0 L192.5 376.6" stroke="#000" stroke-width="0.85" fill="none"/>
<path d="M200.1 408.4 L188.9 396.0 M188.9 396.0 L192.6 389.0" stroke="#000" stroke-width="0.85" fill="none"/>
<path d="M200.1 424.5 L188.4 412.5 M188.4 412.5 L192.0 405.3" stroke="#000" stroke-width="0.85" fill="none"/>
<path d="M224.6 71.3 L214.9 53.8 M214.9 53.8 L220.2 47.8 M215.9 55.6 L221.2 49.6 M216.9 57.5 L222.2 51.4" stroke="#000" stroke-width="0.85" fill="none"/>
<path d="M224.6 103.4 L214.9 85.9 M214.9 85.9 L220.2 79.9 M215.9 87.7 L221.2 81.7 M216.9 89.6 L222.2 83.5" stroke="#000" stroke-width="0.85" fill="none"/>
<path d="M224.6 135.5 L214.6 118.2 M214.6 118.2 L219.7 112.1 M215.7 120.0 L220.8 113.9 M216.7 121.8 L221.8 115.7" stroke="#000" stroke-width="0.85" fill="none"/>
<path d="M224.6 167.6 L214.0 150.7 M214.0 150.7 L218.9 144.4 M215.1 152.4 L220.0 146.1 M216.2 154.2 L221.2 147.9" stroke="#000" stroke-width="0.85" fill="none"/>
<path d="M224.6 199.7 L213.4 183.1 M213.4 183.1 L218.1 176.7 M214.6 184.9 L219.3 178.4 M215.8 186.6 L218.1 183.4" stroke="#000" stroke-width="0.85" fill="none"/>
<path d="M224.6 231.8 L214.6 215.8 M214.6 215.8 L219.5 209.5 M215.7 217.6 L220.6 211.3" stroke="#000" stroke-width="0.85" fill="none"/>
<path d="M224.6 263.9 L215.2 247.6 M215.2 247.6 L220.3 241.5 M216.2 249.4 L221.3 243.3" stroke="#000" stroke-width="0.85" fill="none"/>
<path d="M224.6 296.1 L215.7 279.4 M215.7 279.4 L221.1 273.4 M216.7 281.2 L222.1 275.3" stroke="#000" stroke-width="0.85" fill="none"/>
<path d="M224.6 328.2 L214.6 312.1 M214.6 312.1 L219.5 305.8 M215.7 313.9 L220.6 307.6" stroke="#000" stroke-width="0.85" fill="none"/>
<path d="M224.6 360.3 L213.8 344.8 M213.8 344.8 L218.3 338.2 M215.0 346.5 L219.6 340.0" stroke="#000" stroke-width="0.85" fill="none"/>
<path d="M224.6 376.3 L213.5 361.0 M213.5 361.0 L218.0 354.4 M214.7 362.7 L219.2 356.1" stroke="#000" stroke-width="0.85" fill="none"/>
<path d="M224.6 392.4 L213.2 377.3 M213.2 377.3 L217.6 370.6 M214.5 379.0 L218.8 372.3" stroke="#000" stroke-width="0.85" fill="none"/>
<path d="M224.6 408.4 L213.2 394.8 M213.2 394.8 L217.2 387.9 M214.5 396.4 L216.5 393.0" stroke="#000" stroke-width="0.85" fill="none"/>
<path d="M224.6 424.5 L213.2 410.9 M213.2 410.9 L217.2 403.9 M214.5 412.5 L216.5 409.0" stroke="#000" stroke-width="0.85" fill="none"/>
<path d="M249.2 71.3 L242.0 52.6 M242.0 52.6 L248.0 47.4 M242.7 54.6 L248.8 49.3 M243.5 56.5 L249.5 51.3" stroke="#000" stroke-width="0.85" fill="none"/>
<path d="M249.2 103.4 L242.0 84.7 M242.0 84.7 L248.0 79.5 M242.7 86.7 L248.8 81.4 M243.5 88.6 L249.5 83.4" stroke="#000" stroke-width="0.85" fill="none"/>
<path d="M249.2 135.5 L242.0 116.8 M242.0 116.8 L248.0 111.6 M242.7 118.8 L248.8 113.6 M243.5 120.8 L249.5 115.5" stroke="#000" stroke-width="0.85" fill="none"/>
<path d="M249.2 167.6 L242.0 148.9 M242.0 148.9 L248.0 143.7 M242.7 150.9 L248.8 145.7 M243.5 152.9 L249.5 147.6" stroke="#000" stroke-width="0.85" fill="none"/>
<path d="M249.2 199.7 L241.0 181.5 M241.0 181.5 L246.8 175.9 M241.9 183.4 L247.6 177.8 M242.7 185.3 L245.6 182.5" stroke="#000" stroke-width="0.85" fill="none"/>
<path d="M249.2 231.8 L241.0 213.6 M241.0 213.6 L246.8 208.0 M241.9 215.5 L247.6 209.9 M242.7 217.4 L245.6 214.6" stroke="#000" stroke-width="0.85" fill="none"/>
<path d="M249.2 263.9 L243.1 247.2 M243.1 247.2 L249.2 242.1 M243.8 249.2 L246.8 246.6" stroke="#000" stroke-width="0.85" fill="none"/>
<path d="M249.2 296.1 L243.6 279.1 M243.6 279.1 L250.0 274.2 M244.3 281.1 L247.5 278.7" stroke="#000" stroke-width="0.85" fill="none"/>
<path d="M249.2 328.2 L242.4 312.9 M242.4 312.9 L248.1 307.4" stroke="#000" stroke-width="0.85" fill="none"/>
<path d="M249.2 360.3 L240.8 345.8 M240.8 345.8 L245.9 339.7" stroke="#000" stroke-width="0.85" fill="none"/>
<path d="M249.2 376.3 L239.6 362.7 M239.6 362.7 L244.2 356.1" stroke="#000" stroke-width="0.85" fill="none"/>
<path d="M249.2 392.4 L238.4 379.6 M238.4 379.6 L242.4 372.7" stroke="#000" stroke-width="0.85" fill="none"/>
<path d="M249.2 408.4 L238.4 395.7 M238.4 395.7 L242.4 388.7" stroke="#000" stroke-width="0.85" fill="none"/>
<path d="M249.2 424.5 L238.0 412.1 M238.0 412.1 L241.7 405.0" stroke="#000" stroke-width="0.85" fill="none"/>
<path d="M273.7 71.3 L266.9 53.6 M266.9 53.6 L273.0 48.4 M267.7 55.6 L273.7 50.4" stroke="#000" stroke-width="0.85" fill="none"/>
<path d="M273.7 103.4 L266.9 85.8 M266.9 85.8 L273.0 80.5 M267.7 87.7 L273.7 82.5" stroke="#000" stroke-width="0.85" fill="none"/>
<path d="M273.7 135.5 L267.5 116.5 M267.5 116.5 L273.8 111.6 M268.2 118.5 L274.5 113.6 M268.8 120.5 L272.0 118.0" stroke="#000" stroke-width="0.85" fill="none"/>
<path d="M273.7 167.6 L268.8 149.4 M268.8 149.4 L275.4 144.8 M269.4 151.4 L275.9 146.8" stroke="#000" stroke-width="0.85" fill="none"/>
<path d="M273.7 199.7 L268.8 181.5 M268.8 181.5 L275.4 176.9 M269.4 183.5 L275.9 178.9" stroke="#000" stroke-width="0.85" fill="none"/>
<path d="M273.7 231.8 L268.8 213.6 M268.8 213.6 L275.4 209.0 M269.4 215.6 L275.9 211.0" stroke="#000" stroke-width="0.85" fill="none"/>
<path d="M273.7 263.9 L269.4 247.8 M269.4 247.8 L275.9 243.2" stroke="#000" stroke-width="0.85" fill="none"/>
<path d="M273.7 296.1 L270.8 279.6 M270.8 279.6 L277.7 275.6" stroke="#000" stroke-width="0.85" fill="none"/>
<path d="M273.7 328.2 L270.2 311.8 M270.2 311.8 L277.0 307.6" stroke="#000" stroke-width="0.85" fill="none"/>
<path d="M273.7 360.3 L266.6 345.1 M266.6 345.1 L272.3 339.5" stroke="#000" stroke-width="0.85" fill="none"/>
<path d="M273.7 376.3 L263.0 363.5 M263.0 363.5 L267.0 356.6" stroke="#000" stroke-width="0.85" fill="none"/>
<path d="M273.7 392.4 L263.0 379.6 M263.0 379.6 L267.0 372.7" stroke="#000" stroke-width="0.85" fill="none"/>
<path d="M273.7 408.4 L261.9 396.6 M261.9 396.6 L265.3 389.4" stroke="#000" stroke-width="0.85" fill="none"/>
<path d="M273.7 424.5 L260.9 413.8 M260.9 413.8 L263.6 406.2" stroke="#000" stroke-width="0.85" fill="none"/>
<path d="M298.2 71.3 L290.7 55.2 M290.7 55.2 L296.4 49.5 M291.6 57.1 L294.4 54.2" stroke="#000" stroke-width="0.85" fill="none"/>
<path d="M298.2 103.4 L290.7 87.3 M290.7 87.3 L296.4 81.6 M291.6 89.2 L294.4 86.3" stroke="#000" stroke-width="0.85" fill="none"/>
<path d="M298.2 135.5 L291.2 120.4 M291.2 120.4 L296.8 114.7" stroke="#000" stroke-width="0.85" fill="none"/>
<path d="M298.2 167.6 L292.2 150.9 M292.2 150.9 L298.3 145.8 M292.9 152.9 L295.9 150.3" stroke="#000" stroke-width="0.85" fill="none"/>
<path d="M298.2 199.7 L294.5 183.5 M294.5 183.5 L301.2 179.1" stroke="#000" stroke-width="0.85" fill="none"/>
<path d="M298.2 231.8 L296.2 215.3 M296.2 215.3 L303.3 211.6" stroke="#000" stroke-width="0.85" fill="none"/>
<path d="M298.2 263.9 L298.2 247.2 M298.2 247.2 L305.8 244.5" stroke="#000" stroke-width="0.85" fill="none"/>
<path d="M298.2 296.1 L299.1 279.4 M299.1 279.4 L306.8 277.0" stroke="#000" stroke-width="0.85" fill="none"/>
<path d="M298.2 328.2 L300.0 311.6 M300.0 311.6 L307.8 309.6" stroke="#000" stroke-width="0.85" fill="none"/>
<path d="M298.2 360.3 L296.9 344.7 M297.1 346.8 L300.7 345.1" stroke="#000" stroke-width="0.85" fill="none"/>
<path d="M298.2 376.3 L292.9 361.7 M293.6 363.6 L296.7 361.1" stroke="#000" stroke-width="0.85" fill="none"/>
<path d="M298.2 392.4 L289.2 378.4 M289.2 378.4 L294.0 372.0" stroke="#000" stroke-width="0.85" fill="none"/>
<path d="M298.2 408.4 L286.4 396.6 M286.4 396.6 L289.8 389.4" stroke="#000" stroke-width="0.85" fill="none"/>
<path d="M298.2 424.5 L284.6 414.9 M284.6 414.9 L286.6 407.2" stroke="#000" stroke-width="0.85" fill="none"/>
<path d="M322.8 71.3 L313.6 56.0 M313.6 56.0 L318.7 49.8 M314.7 57.8 L317.2 54.7" stroke="#000" stroke-width="0.85" fill="none"/>
<path d="M322.8 103.4 L313.6 88.1 M313.6 88.1 L318.7 81.9 M314.7 89.9 L317.2 86.8" stroke="#000" stroke-width="0.85" fill="none"/>
<path d="M322.8 135.5 L312.7 122.2 M312.7 122.2 L317.1 115.5" stroke="#000" stroke-width="0.85" fill="none"/>
<path d="M322.8 167.6 L314.2 153.3 M314.2 153.3 L319.2 147.1" stroke="#000" stroke-width="0.85" fill="none"/>
<path d="M322.8 199.7 L316.0 184.5 M316.0 184.5 L321.8 178.9" stroke="#000" stroke-width="0.85" fill="none"/>
<path d="M322.8 231.8 L319.0 215.6 M319.0 215.6 L325.8 211.2" stroke="#000" stroke-width="0.85" fill="none"/>
<path d="M322.8 263.9 L322.8 247.2 M322.8 247.2 L330.3 244.5" stroke="#000" stroke-width="0.85" fill="none"/>
<path d="M322.8 296.1 L324.3 279.4 M324.3 279.4 L332.0 277.4" stroke="#000" stroke-width="0.85" fill="none"/>
<path d="M322.8 328.2 L325.1 311.6 M325.1 311.6 L332.9 310.0" stroke="#000" stroke-width="0.85" fill="none"/>
<path d="M322.8 360.3 L314.0 346.1 M314.0 346.1 L318.9 339.8" stroke="#000" stroke-width="0.85" fill="none"/>
<path d="M322.8 376.3 L312.1 363.5 M312.1 363.5 L316.1 356.6" stroke="#000" stroke-width="0.85" fill="none"/>
<path d="M322.8 392.4 L311.0 380.6 M311.0 380.6 L314.4 373.3" stroke="#000" stroke-width="0.85" fill="none"/>
<path d="M322.8 408.4 L309.1 398.9 M309.1 398.9 L311.2 391.1" stroke="#000" stroke-width="0.85" fill="none"/>
<path d="M322.8 424.5 L308.3 416.1 M308.3 416.1 L309.7 408.3" stroke="#000" stroke-width="0.85" fill="none"/>
<path d="M347.4 71.3 L338.3 57.3 M338.3 57.3 L343.1 50.9" stroke="#000" stroke-width="0.85" fill="none"/>
<path d="M347.4 103.4 L338.3 89.4 M338.3 89.4 L343.1 83.0" stroke="#000" stroke-width="0.85" fill="none"/>
<path d="M347.4 135.5 L340.0 120.5 M340.0 120.5 L345.6 114.7" stroke="#000" stroke-width="0.85" fill="none"/>
<path d="M347.4 167.6 L343.0 151.5 M343.0 151.5 L349.6 146.9" stroke="#000" stroke-width="0.85" fill="none"/>
<path d="M347.4 199.7 L341.1 184.2 M341.1 184.2 L347.0 178.9" stroke="#000" stroke-width="0.85" fill="none"/>
<path d="M347.4 231.8 L342.7 215.8 M342.7 215.8 L349.2 211.1" stroke="#000" stroke-width="0.85" fill="none"/>
<path d="M347.4 263.9 L345.0 247.4 M345.0 247.4 L352.1 243.7" stroke="#000" stroke-width="0.85" fill="none"/>
<path d="M347.4 296.1 L348.8 279.4 M348.8 279.4 L356.5 277.4" stroke="#000" stroke-width="0.85" fill="none"/>
<path d="M347.4 328.2 L350.1 312.8 M349.7 314.9 L353.6 314.2" stroke="#000" stroke-width="0.85" fill="none"/>
<path d="M347.4 360.3 L342.0 345.6 M342.7 347.6 L345.8 345.0" stroke="#000" stroke-width="0.85" fill="none"/>
<path d="M347.4 376.3 L336.0 364.1 M336.0 364.1 L339.6 357.0" stroke="#000" stroke-width="0.85" fill="none"/>
<path d="M347.4 392.4 L334.9 381.2 M334.9 381.2 L337.9 373.8" stroke="#000" stroke-width="0.85" fill="none"/>
<path d="M347.4 408.4 L334.2 398.2 M334.2 398.2 L336.7 390.6" stroke="#000" stroke-width="0.85" fill="none"/>
<path d="M347.4 424.5 L333.7 414.9 M333.7 414.9 L335.7 407.2" stroke="#000" stroke-width="0.85" fill="none"/>
<path d="M371.9 71.3 L365.1 56.0 M365.1 56.0 L370.9 50.5" stroke="#000" stroke-width="0.85" fill="none"/>
<path d="M371.9 103.4 L365.1 88.1 M365.1 88.1 L370.9 82.6" stroke="#000" stroke-width="0.85" fill="none"/>
<path d="M371.9 135.5 L365.9 119.9 M365.9 119.9 L372.0 114.7" stroke="#000" stroke-width="0.85" fill="none"/>
<path d="M371.9 167.6 L363.3 153.3 M363.3 153.3 L368.3 147.1" stroke="#000" stroke-width="0.85" fill="none"/>
<path d="M371.9 199.7 L362.8 185.7 M362.8 185.7 L367.6 179.3" stroke="#000" stroke-width="0.85" fill="none"/>
<path d="M371.9 231.8 L367.9 215.6 M367.9 215.6 L374.5 211.2" stroke="#000" stroke-width="0.85" fill="none"/>
<path d="M371.9 263.9 L368.1 247.7 M368.1 247.7 L374.9 243.3" stroke="#000" stroke-width="0.85" fill="none"/>
<path d="M371.9 296.1 L369.0 279.6 M369.0 279.6 L375.9 275.6" stroke="#000" stroke-width="0.85" fill="none"/>
<path d="M371.9 328.2 L365.8 315.0" stroke="#000" stroke-width="0.85" fill="none"/>
<path d="M371.9 360.3 L362.6 346.4 M362.6 346.4 L367.3 340.0" stroke="#000" stroke-width="0.85" fill="none"/>
<path d="M371.9 376.3 L361.2 363.5 M361.2 363.5 L365.2 356.6" stroke="#000" stroke-width="0.85" fill="none"/>
<path d="M371.9 392.4 L359.7 381.0 M359.7 381.0 L362.8 373.6" stroke="#000" stroke-width="0.85" fill="none"/>
<path d="M371.9 408.4 L358.2 398.9 M358.2 398.9 L360.3 391.1" stroke="#000" stroke-width="0.85" fill="none"/>
<path d="M371.9 424.5 L358.2 414.9 M358.2 414.9 L360.3 407.2" stroke="#000" stroke-width="0.85" fill="none"/>
<path d="M396.5 71.3 L385.8 59.9 M387.2 61.4 L389.1 57.9" stroke="#000" stroke-width="0.85" fill="none"/>
<path d="M396.5 103.4 L385.8 92.0 M387.2 93.5 L389.1 90.0" stroke="#000" stroke-width="0.85" fill="none"/>
<path d="M396.5 135.5 L387.5 122.7 M388.7 124.5 L391.0 121.2" stroke="#000" stroke-width="0.85" fill="none"/>
<path d="M396.5 167.6 L389.4 153.7 M390.3 155.6 L393.0 152.7" stroke="#000" stroke-width="0.85" fill="none"/>
<path d="M396.5 199.7 L388.2 186.5 M389.3 188.3 L391.8 185.1" stroke="#000" stroke-width="0.85" fill="none"/>
<path d="M396.5 231.8 L388.0 218.8 M389.1 220.5 L391.5 217.3" stroke="#000" stroke-width="0.85" fill="none"/>
<path d="M396.5 263.9 L384.0 252.8 M384.0 252.8 L387.0 245.4" stroke="#000" stroke-width="0.85" fill="none"/>
<path d="M396.5 296.1 L382.3 287.2 M382.3 287.2 L384.0 279.4" stroke="#000" stroke-width="0.85" fill="none"/>
<path d="M396.5 328.2 L384.8 316.2 M384.8 316.2 L388.4 309.0" stroke="#000" stroke-width="0.85" fill="none"/>
<path d="M396.5 360.3 L389.4 346.4 M390.3 348.3 L393.0 345.3" stroke="#000" stroke-width="0.85" fill="none"/>
<path d="M396.5 376.3 L387.5 363.6 M388.7 365.3 L391.0 362.0" stroke="#000" stroke-width="0.85" fill="none"/>
<path d="M396.5 392.4 L388.1 377.9 M388.1 377.9 L393.2 371.8" stroke="#000" stroke-width="0.85" fill="none"/>
<path d="M396.5 408.4 L390.3 395.3" stroke="#000" stroke-width="0.85" fill="none"/>
<path d="M396.5 424.5 L390.1 411.5" stroke="#000" stroke-width="0.85" fill="none"/>
<path d="M421.0 71.3 L410.6 59.7 M412.0 61.3 L413.8 57.7" stroke="#000" stroke-width="0.85" fill="none"/>
<path d="M421.0 103.4 L410.6 91.8 M412.0 93.4 L413.8 89.8" stroke="#000" stroke-width="0.85" fill="none"/>
<path d="M421.0 135.5 L409.8 124.7 M411.3 126.1 L412.9 122.5" stroke="#000" stroke-width="0.85" fill="none"/>
<path d="M421.0 167.6 L408.9 157.8 M410.5 159.1 L411.8 155.3" stroke="#000" stroke-width="0.85" fill="none"/>
<path d="M421.0 199.7 L411.8 187.1 M413.1 188.8 L415.3 185.5" stroke="#000" stroke-width="0.85" fill="none"/>
<path d="M421.0 231.8 L412.5 218.8 M413.6 220.5 L416.1 217.3" stroke="#000" stroke-width="0.85" fill="none"/>
<path d="M421.0 263.9 L415.2 249.5 M415.9 251.4 L418.9 248.8" stroke="#000" stroke-width="0.85" fill="none"/>
<path d="M421.0 296.1 L417.2 280.9 M417.7 283.0 L421.1 280.7" stroke="#000" stroke-width="0.85" fill="none"/>
<path d="M421.0 328.2 L417.5 314.1" stroke="#000" stroke-width="0.85" fill="none"/>
<path d="M421.0 360.3 L409.8 347.9 M409.8 347.9 L413.6 340.8" stroke="#000" stroke-width="0.85" fill="none"/>
<path d="M421.0 376.3 L408.2 365.6 M408.2 365.6 L410.9 358.1" stroke="#000" stroke-width="0.85" fill="none"/>
<path d="M421.0 392.4 L408.2 381.7 M408.2 381.7 L410.9 374.1" stroke="#000" stroke-width="0.85" fill="none"/>
<path d="M421.0 408.4 L407.8 398.2 M407.8 398.2 L410.3 390.6" stroke="#000" stroke-width="0.85" fill="none"/>
<path d="M421.0 424.5 L407.8 414.2 M407.8 414.2 L410.3 406.6" stroke="#000" stroke-width="0.85" fill="none"/>
<path d="M445.6 71.3 L439.5 56.9 M440.3 58.9 L443.2 56.1" stroke="#000" stroke-width="0.85" fill="none"/>
<path d="M445.6 103.4 L439.5 89.0 M440.3 91.0 L443.2 88.2" stroke="#000" stroke-width="0.85" fill="none"/>
<path d="M445.6 135.5 L437.5 122.1 M438.6 123.9 L441.1 120.8" stroke="#000" stroke-width="0.85" fill="none"/>
<path d="M445.6 167.6 L438.5 153.7 M439.4 155.6 L442.1 152.7" stroke="#000" stroke-width="0.85" fill="none"/>
<path d="M445.6 199.7 L436.6 187.0 M437.8 188.7 L440.1 185.4" stroke="#000" stroke-width="0.85" fill="none"/>
<path d="M445.6 231.8 L436.2 219.4 M437.4 221.1 L439.6 217.7" stroke="#000" stroke-width="0.85" fill="none"/>
<path d="M445.6 263.9 L436.0 250.3 M436.0 250.3 L440.6 243.7" stroke="#000" stroke-width="0.85" fill="none"/>
<path d="M445.6 296.1 L435.1 286.0" stroke="#000" stroke-width="0.85" fill="none"/>
<path d="M445.6 328.2 L435.7 317.6" stroke="#000" stroke-width="0.85" fill="none"/>
<path d="M445.6 360.3 L432.6 349.8 M432.6 349.8 L435.2 342.2" stroke="#000" stroke-width="0.85" fill="none"/>
<path d="M445.6 376.3 L432.6 365.8 M432.6 365.8 L435.2 358.3" stroke="#000" stroke-width="0.85" fill="none"/>
<path d="M445.6 392.4 L432.0 384.6 M433.9 385.6 L434.6 381.7" stroke="#000" stroke-width="0.85" fill="none"/>
<path d="M445.6 408.4 L436.8 396.9" stroke="#000" stroke-width="0.85" fill="none"/>
<path d="M445.6 424.5 L436.8 412.9" stroke="#000" stroke-width="0.85" fill="none"/>
<path d="M470.1 71.3 L462.8 57.5 M463.8 59.4 L466.4 56.4" stroke="#000" stroke-width="0.85" fill="none"/>
<path d="M470.1 103.4 L462.8 89.6 M463.8 91.5 L466.4 88.5" stroke="#000" stroke-width="0.85" fill="none"/>
<path d="M470.1 135.5 L463.3 121.5 M464.2 123.4 L467.0 120.5" stroke="#000" stroke-width="0.85" fill="none"/>
<path d="M470.1 167.6 L463.0 153.7 M464.0 155.6 L466.7 152.7" stroke="#000" stroke-width="0.85" fill="none"/>
<path d="M470.1 199.7 L458.0 189.9 M459.6 191.2 L460.9 187.5" stroke="#000" stroke-width="0.85" fill="none"/>
<path d="M470.1 231.8 L457.6 222.5 M459.3 223.7 L460.5 219.9" stroke="#000" stroke-width="0.85" fill="none"/>
<path d="M470.1 263.9 L456.9 253.7 M456.9 253.7 L459.4 246.1" stroke="#000" stroke-width="0.85" fill="none"/>
<path d="M470.1 296.1 L456.4 286.5 M456.4 286.5 L458.5 278.8" stroke="#000" stroke-width="0.85" fill="none"/>
<path d="M470.1 328.2 L456.6 318.4 M456.6 318.4 L458.8 310.7" stroke="#000" stroke-width="0.85" fill="none"/>
<path d="M470.1 360.3 L457.5 353.0" stroke="#000" stroke-width="0.85" fill="none"/>
<path d="M470.1 376.3 L456.7 370.9" stroke="#000" stroke-width="0.85" fill="none"/>
<path d="M470.1 392.4 L456.0 395.7" stroke="#000" stroke-width="0.85" fill="none"/>
<path d="M470.1 408.4 L462.0 420.5" stroke="#000" stroke-width="0.85" fill="none"/>
<path d="M470.1 424.5 L462.0 436.5" stroke="#000" stroke-width="0.85" fill="none"/>
<path d="M494.6 71.3 L485.5 58.7 M486.7 60.4 L489.0 57.1" stroke="#000" stroke-width="0.85" fill="none"/>
<path d="M494.6 103.4 L485.5 90.8 M486.7 92.5 L489.0 89.2" stroke="#000" stroke-width="0.85" fill="none"/>
<path d="M494.6 135.5 L486.2 122.4 M487.3 124.2 L489.7 121.0" stroke="#000" stroke-width="0.85" fill="none"/>
<path d="M494.6 167.6 L482.1 160.4" stroke="#000" stroke-width="0.85" fill="none"/>
<path d="M494.6 199.7 L483.1 208.5" stroke="#000" stroke-width="0.85" fill="none"/>
<path d="M494.6 231.8 L480.6 235.3" stroke="#000" stroke-width="0.85" fill="none"/>
<path d="M494.6 263.9 L480.2 263.2" stroke="#000" stroke-width="0.85" fill="none"/>
<path d="M494.6 296.1 L479.5 292.3 M481.6 292.8 L481.1 288.8" stroke="#000" stroke-width="0.85" fill="none"/>
<path d="M494.6 328.2 L478.8 323.0 M478.8 323.0 L478.5 315.0" stroke="#000" stroke-width="0.85" fill="none"/>
<path d="M494.6 360.3 L481.0 350.7 M481.0 350.7 L483.0 343.0" stroke="#000" stroke-width="0.85" fill="none"/>
<path d="M494.6 376.3 L487.4 363.8" stroke="#000" stroke-width="0.85" fill="none"/>
<path d="M494.6 392.4 L490.4 378.5" stroke="#000" stroke-width="0.85" fill="none"/>
<path d="M494.6 408.4 L495.4 394.0" stroke="#000" stroke-width="0.85" fill="none"/>
<path d="M494.6 424.5 L494.6 410.0" stroke="#000" stroke-width="0.85" fill="none"/>
<path d="M519.2 71.3 L518.1 86.9 M518.3 84.8 L514.4 85.9" stroke="#000" stroke-width="0.85" fill="none"/>
<path d="M519.2 103.4 L506.2 97.0" stroke="#000" stroke-width="0.85" fill="none"/>
<path d="M519.2 135.5 L504.2 131.2 M506.2 131.8 L505.9 127.8" stroke="#000" stroke-width="0.85" fill="none"/>
<path d="M519.2 167.6 L504.7 167.9" stroke="#000" stroke-width="0.85" fill="none"/>
<path d="M519.2 199.7 L506.4 206.5" stroke="#000" stroke-width="0.85" fill="none"/>
<path d="M519.2 231.8 L508.1 241.2" stroke="#000" stroke-width="0.85" fill="none"/>
<path d="M519.2 263.9 L505.1 267.5" stroke="#000" stroke-width="0.85" fill="none"/>
<path d="M519.2 296.1 L504.8 297.8" stroke="#000" stroke-width="0.85" fill="none"/>
<path d="M519.2 328.2 L504.8 326.9" stroke="#000" stroke-width="0.85" fill="none"/>
<path d="M519.2 360.3 L505.2 356.5" stroke="#000" stroke-width="0.85" fill="none"/>
<path d="M519.2 376.3 L505.9 370.7" stroke="#000" stroke-width="0.85" fill="none"/>
<path d="M519.2 392.4 L506.5 385.4" stroke="#000" stroke-width="0.85" fill="none"/>
<path d="M519.2 408.4 L506.6 401.2" stroke="#000" stroke-width="0.85" fill="none"/>
<path d="M519.2 424.5 L506.6 417.2" stroke="#000" stroke-width="0.85" fill="none"/>
<path d="M543.8 71.3 L541.6 86.7 M541.9 84.7 L538.0 85.5" stroke="#000" stroke-width="0.85" fill="none"/>
<path d="M543.8 103.4 L534.8 114.8" stroke="#000" stroke-width="0.85" fill="none"/>
<path d="M543.8 135.5 L533.0 145.2" stroke="#000" stroke-width="0.85" fill="none"/>
<path d="M543.8 167.6 L543.8 182.1" stroke="#000" stroke-width="0.85" fill="none"/>
<path d="M543.8 199.7 L544.3 214.2" stroke="#000" stroke-width="0.85" fill="none"/>
<path d="M543.8 231.8 L536.7 244.5" stroke="#000" stroke-width="0.85" fill="none"/>
<path d="M543.8 263.9 L529.2 263.9" stroke="#000" stroke-width="0.85" fill="none"/>
<path d="M543.8 296.1 L529.3 294.8" stroke="#000" stroke-width="0.85" fill="none"/>
<path d="M543.8 328.2 L529.7 324.4" stroke="#000" stroke-width="0.85" fill="none"/>
<path d="M543.8 360.3 L530.4 354.6" stroke="#000" stroke-width="0.85" fill="none"/>
<path d="M543.8 376.3 L530.8 369.8" stroke="#000" stroke-width="0.85" fill="none"/>
<path d="M543.8 392.4 L532.6 383.1" stroke="#000" stroke-width="0.85" fill="none"/>
<path d="M543.8 408.4 L535.4 396.6" stroke="#000" stroke-width="0.85" fill="none"/>
<path d="M543.8 424.5 L535.4 412.6" stroke="#000" stroke-width="0.85" fill="none"/>
<path d="M568.3 71.3 L565.1 86.5 M565.5 84.5 L561.5 85.1" stroke="#000" stroke-width="0.85" fill="none"/>
<path d="M568.3 103.4 L562.7 118.0 M563.5 116.0 L559.5 115.9" stroke="#000" stroke-width="0.85" fill="none"/>
<path d="M568.3 135.5 L562.7 150.1 M563.5 148.1 L559.5 148.0" stroke="#000" stroke-width="0.85" fill="none"/>
<path d="M568.3 167.6 L567.8 183.2 M567.8 181.1 L564.0 182.3" stroke="#000" stroke-width="0.85" fill="none"/>
<path d="M568.3 199.7 L568.3 215.3 M568.3 213.2 L564.5 214.6" stroke="#000" stroke-width="0.85" fill="none"/>
<path d="M568.3 231.8 L564.5 247.0 M565.0 244.9 L561.1 245.4" stroke="#000" stroke-width="0.85" fill="none"/>
<path d="M568.3 263.9 L562.0 278.2 M562.8 276.3 L558.8 276.0" stroke="#000" stroke-width="0.85" fill="none"/>
<path d="M568.3 296.1 L560.4 308.2" stroke="#000" stroke-width="0.85" fill="none"/>
<path d="M568.3 328.2 L557.5 337.9" stroke="#000" stroke-width="0.85" fill="none"/>
<path d="M568.3 360.3 L567.0 374.7" stroke="#000" stroke-width="0.85" fill="none"/>
<path d="M568.3 376.3 L574.9 389.3" stroke="#000" stroke-width="0.85" fill="none"/>
<path d="M568.3 392.4 L578.6 402.6" stroke="#000" stroke-width="0.85" fill="none"/>
<path d="M568.3 408.4 L580.0 417.0" stroke="#000" stroke-width="0.85" fill="none"/>
<path d="M568.3 424.5 L580.0 433.0" stroke="#000" stroke-width="0.85" fill="none"/>
<path d="M592.9 71.3 L591.5 86.8 M591.7 84.7 L587.8 85.8" stroke="#000" stroke-width="0.85" fill="none"/>
<path d="M592.9 103.4 L595.3 118.8 M595.0 116.7 L591.5 118.7" stroke="#000" stroke-width="0.85" fill="none"/>
<path d="M592.9 135.5 L594.2 151.1 M594.0 149.0 L590.4 150.6" stroke="#000" stroke-width="0.85" fill="none"/>
<path d="M592.9 167.6 L594.2 183.2 M594.0 181.1 L590.4 182.8" stroke="#000" stroke-width="0.85" fill="none"/>
<path d="M592.9 199.7 L591.8 214.2" stroke="#000" stroke-width="0.85" fill="none"/>
<path d="M592.9 231.8 L586.3 246.0 M587.1 244.1 L583.2 243.7" stroke="#000" stroke-width="0.85" fill="none"/>
<path d="M592.9 263.9 L582.0 275.2 M583.5 273.7 L579.8 272.0" stroke="#000" stroke-width="0.85" fill="none"/>
<path d="M592.9 296.1 L580.9 306.1 M582.5 304.7 L579.0 302.7" stroke="#000" stroke-width="0.85" fill="none"/>
<path d="M592.9 328.2 L582.2 338.1" stroke="#000" stroke-width="0.85" fill="none"/>
<path d="M592.9 360.3 L591.6 374.7" stroke="#000" stroke-width="0.85" fill="none"/>
<path d="M592.9 376.3 L599.7 389.1" stroke="#000" stroke-width="0.85" fill="none"/>
<path d="M592.9 392.4 L603.1 402.6" stroke="#000" stroke-width="0.85" fill="none"/>
<path d="M592.9 408.4 L604.4 417.2" stroke="#000" stroke-width="0.85" fill="none"/>
<path d="M592.9 424.5 L604.4 433.2" stroke="#000" stroke-width="0.85" fill="none"/>
<path d="M617.4 71.3 L618.8 86.8 M618.6 84.7 L615.0 86.4" stroke="#000" stroke-width="0.85" fill="none"/>
<path d="M617.4 103.4 L626.7 114.5" stroke="#000" stroke-width="0.85" fill="none"/>
<path d="M617.4 135.5 L617.1 151.1 M617.2 149.0 L613.4 150.3" stroke="#000" stroke-width="0.85" fill="none"/>
<path d="M617.4 167.6 L612.1 182.3 M612.8 180.3 L608.8 180.3" stroke="#000" stroke-width="0.85" fill="none"/>
<path d="M617.4 199.7 L611.5 213.0" stroke="#000" stroke-width="0.85" fill="none"/>
<path d="M617.4 231.8 L610.8 246.0 M611.7 244.1 L607.7 243.7" stroke="#000" stroke-width="0.85" fill="none"/>
<path d="M617.4 263.9 L609.1 277.2 M610.2 275.4 L606.3 274.6" stroke="#000" stroke-width="0.85" fill="none"/>
<path d="M617.4 296.1 L608.5 308.8 M609.7 307.1 L605.8 306.1" stroke="#000" stroke-width="0.85" fill="none"/>
<path d="M617.4 328.2 L609.1 341.4 M610.2 339.6 L606.3 338.8" stroke="#000" stroke-width="0.85" fill="none"/>
<path d="M617.4 360.3 L619.0 375.8 M618.8 373.7 L615.2 375.5" stroke="#000" stroke-width="0.85" fill="none"/>
<path d="M617.4 376.3 L622.1 390.0" stroke="#000" stroke-width="0.85" fill="none"/>
<path d="M617.4 392.4 L625.0 406.0 M623.9 404.2 L621.3 407.2" stroke="#000" stroke-width="0.85" fill="none"/>
<path d="M617.4 408.4 L624.0 421.4" stroke="#000" stroke-width="0.85" fill="none"/>
<path d="M617.4 424.5 L624.2 437.3" stroke="#000" stroke-width="0.85" fill="none"/>
<path d="M642.0 71.3 L643.0 86.9 M642.9 84.8 L639.2 86.4" stroke="#000" stroke-width="0.85" fill="none"/>
<path d="M642.0 103.4 L643.0 119.0 M642.9 116.9 L639.2 118.5" stroke="#000" stroke-width="0.85" fill="none"/>
<path d="M642.0 135.5 L646.0 150.6 M645.4 148.5 L642.2 150.8" stroke="#000" stroke-width="0.85" fill="none"/>
<path d="M642.0 167.6 L646.0 182.7 M645.4 180.7 L642.2 183.0" stroke="#000" stroke-width="0.85" fill="none"/>
<path d="M642.0 199.7 L643.0 215.3 M642.9 213.2 L639.2 214.8" stroke="#000" stroke-width="0.85" fill="none"/>
<path d="M642.0 231.8 L639.2 247.2 M639.6 245.1 L635.7 245.8" stroke="#000" stroke-width="0.85" fill="none"/>
<path d="M642.0 263.9 L636.6 278.6 M637.3 276.6 L633.3 276.6" stroke="#000" stroke-width="0.85" fill="none"/>
<path d="M642.0 296.1 L636.6 310.7 M637.3 308.7 L633.3 308.7" stroke="#000" stroke-width="0.85" fill="none"/>
<path d="M642.0 328.2 L642.0 343.8 M642.0 341.7 L638.2 343.0" stroke="#000" stroke-width="0.85" fill="none"/>
<path d="M642.0 360.3 L647.3 374.9 M646.6 373.0 L643.5 375.5" stroke="#000" stroke-width="0.85" fill="none"/>
<path d="M642.0 376.3 L647.8 390.8 M647.0 388.9 L644.0 391.5" stroke="#000" stroke-width="0.85" fill="none"/>
<path d="M642.0 392.4 L649.8 404.6" stroke="#000" stroke-width="0.85" fill="none"/>
<path d="M642.0 408.4 L650.4 421.5 M649.3 419.8 L646.9 423.0" stroke="#000" stroke-width="0.85" fill="none"/>
<path d="M642.0 424.5 L650.4 437.6 M649.3 435.8 L646.9 439.0" stroke="#000" stroke-width="0.85" fill="none"/>
<path d="M666.5 71.3 L674.9 85.8 M674.9 85.8 L669.7 91.9" stroke="#000" stroke-width="0.85" fill="none"/>
<path d="M666.5 103.4 L677.2 116.2 M677.2 116.2 L673.2 123.1" stroke="#000" stroke-width="0.85" fill="none"/>
<path d="M666.5 135.5 L679.8 145.6 M679.8 145.6 L677.5 153.2" stroke="#000" stroke-width="0.85" fill="none"/>
<path d="M666.5 167.6 L676.8 180.8 M676.8 180.8 L672.5 187.6" stroke="#000" stroke-width="0.85" fill="none"/>
<path d="M666.5 199.7 L673.1 213.9 M672.2 212.0 L669.4 214.8" stroke="#000" stroke-width="0.85" fill="none"/>
<path d="M666.5 231.8 L670.0 245.9" stroke="#000" stroke-width="0.85" fill="none"/>
<path d="M666.5 263.9 L665.7 279.5 M665.8 277.4 L662.0 278.6" stroke="#000" stroke-width="0.85" fill="none"/>
<path d="M666.5 296.1 L659.9 310.2 M660.8 308.3 L656.8 307.9" stroke="#000" stroke-width="0.85" fill="none"/>
<path d="M666.5 328.2 L661.9 343.1 M662.6 341.1 L658.6 341.3" stroke="#000" stroke-width="0.85" fill="none"/>
<path d="M666.5 360.3 L667.3 375.9 M667.2 373.8 L663.5 375.3" stroke="#000" stroke-width="0.85" fill="none"/>
<path d="M666.5 376.3 L670.5 391.4 M670.0 389.4 L666.7 391.7" stroke="#000" stroke-width="0.85" fill="none"/>
<path d="M666.5 392.4 L674.3 405.9 M673.2 404.1 L670.7 407.1" stroke="#000" stroke-width="0.85" fill="none"/>
<path d="M666.5 408.4 L675.6 419.7" stroke="#000" stroke-width="0.85" fill="none"/>
<path d="M666.5 424.5 L676.0 435.4" stroke="#000" stroke-width="0.85" fill="none"/>
<path d="M691.0 71.3 L701.8 84.1 M701.8 84.1 L697.8 91.0" stroke="#000" stroke-width="0.85" fill="none"/>
<path d="M691.0 103.4 L703.2 113.2 M701.5 111.9 L700.2 115.7" stroke="#000" stroke-width="0.85" fill="none"/>
<path d="M691.0 135.5 L704.7 147.0 M704.7 147.0 L701.9 154.5 M703.1 145.6 L701.7 149.4" stroke="#000" stroke-width="0.85" fill="none"/>
<path d="M691.0 167.6 L705.8 175.5 M705.8 175.5 L704.7 183.4" stroke="#000" stroke-width="0.85" fill="none"/>
<path d="M691.0 199.7 L707.1 204.3 M707.1 204.3 L707.7 212.3" stroke="#000" stroke-width="0.85" fill="none"/>
<path d="M691.0 231.8 L707.5 234.7 M707.5 234.7 L708.9 242.6" stroke="#000" stroke-width="0.85" fill="none"/>
<path d="M691.0 263.9 L700.0 275.4" stroke="#000" stroke-width="0.85" fill="none"/>
<path d="M691.0 296.1 L696.9 309.3" stroke="#000" stroke-width="0.85" fill="none"/>
<path d="M691.0 328.2 L692.8 342.6" stroke="#000" stroke-width="0.85" fill="none"/>
<path d="M691.0 360.3 L696.0 373.9" stroke="#000" stroke-width="0.85" fill="none"/>
<path d="M691.0 376.3 L699.5 389.4 M698.4 387.7 L696.0 390.9" stroke="#000" stroke-width="0.85" fill="none"/>
<path d="M691.0 392.4 L700.0 405.2 M698.8 403.4 L696.5 406.7" stroke="#000" stroke-width="0.85" fill="none"/>
<path d="M691.0 408.4 L700.0 419.9" stroke="#000" stroke-width="0.85" fill="none"/>
<path d="M691.0 424.5 L700.0 435.9" stroke="#000" stroke-width="0.85" fill="none"/>
<path d="M715.6 71.3 L727.8 82.7 M727.8 82.7 L724.7 90.0" stroke="#000" stroke-width="0.85" fill="none"/>
<path d="M715.6 103.4 L728.4 112.3 M726.7 111.1 L725.6 115.0" stroke="#000" stroke-width="0.85" fill="none"/>
<path d="M715.6 135.5 L730.1 143.9 M730.1 143.9 L728.7 151.7" stroke="#000" stroke-width="0.85" fill="none"/>
<path d="M715.6 167.6 L732.2 166.2 M732.2 166.2 L735.6 173.4" stroke="#000" stroke-width="0.85" fill="none"/>
<path d="M715.6 199.7 L732.1 202.3 M732.1 202.3 L733.6 210.2" stroke="#000" stroke-width="0.85" fill="none"/>
<path d="M715.6 231.8 L731.2 232.9 M729.1 232.8 L730.2 236.6" stroke="#000" stroke-width="0.85" fill="none"/>
<path d="M715.6 263.9 L731.2 265.0 M729.1 264.9 L730.2 268.7" stroke="#000" stroke-width="0.85" fill="none"/>
<path d="M715.6 296.1 L724.3 307.6" stroke="#000" stroke-width="0.85" fill="none"/>
<path d="M715.6 328.2 L720.2 343.1 M719.5 341.1 L716.4 343.5" stroke="#000" stroke-width="0.85" fill="none"/>
<path d="M715.6 360.3 L723.4 373.8 M722.4 372.0 L719.8 375.0" stroke="#000" stroke-width="0.85" fill="none"/>
<path d="M715.6 376.3 L723.2 390.0 M722.1 388.1 L719.5 391.2" stroke="#000" stroke-width="0.85" fill="none"/>
<path d="M715.6 392.4 L722.9 406.2 M721.9 404.3 L719.3 407.3" stroke="#000" stroke-width="0.85" fill="none"/>
<path d="M715.6 408.4 L722.2 421.4" stroke="#000" stroke-width="0.85" fill="none"/>
<path d="M715.6 424.5 L722.9 438.3 M721.9 436.4 L719.3 439.4" stroke="#000" stroke-width="0.85" fill="none"/>
<path d="M740.1 71.3 L754.6 79.6 M754.6 79.6 L753.2 87.5" stroke="#000" stroke-width="0.85" fill="none"/>
<path d="M740.1 103.4 L755.7 103.1 M753.6 103.2 L755.1 106.9" stroke="#000" stroke-width="0.85" fill="none"/>
<path d="M740.1 135.5 L753.5 143.5 M751.7 142.5 L751.0 146.4" stroke="#000" stroke-width="0.85" fill="none"/>
<path d="M740.1 167.6 L756.7 169.9 M756.7 169.9 L758.4 177.8" stroke="#000" stroke-width="0.85" fill="none"/>
<path d="M740.1 199.7 L755.2 192.4 M755.2 192.4 L760.9 198.0" stroke="#000" stroke-width="0.85" fill="none"/>
<path d="M740.1 231.8 L752.9 221.1 M752.9 221.1 L759.9 225.1" stroke="#000" stroke-width="0.85" fill="none"/>
<path d="M740.1 263.9 L755.5 266.7 M753.4 266.3 L754.1 270.2" stroke="#000" stroke-width="0.85" fill="none"/>
<path d="M740.1 296.1 L755.2 300.1 M753.2 299.6 L753.5 303.5" stroke="#000" stroke-width="0.85" fill="none"/>
<path d="M740.1 328.2 L754.8 333.5 M752.8 332.8 L752.8 336.8" stroke="#000" stroke-width="0.85" fill="none"/>
<path d="M740.1 360.3 L750.2 372.2 M748.8 370.6 L746.8 374.1" stroke="#000" stroke-width="0.85" fill="none"/>
<path d="M740.1 376.3 L749.1 389.1 M747.9 387.4 L745.6 390.7" stroke="#000" stroke-width="0.85" fill="none"/>
<path d="M740.1 392.4 L748.4 405.6 M747.3 403.8 L744.8 407.0" stroke="#000" stroke-width="0.85" fill="none"/>
<path d="M740.1 408.4 L747.8 420.7" stroke="#000" stroke-width="0.85" fill="none"/>
<path d="M740.1 424.5 L748.4 437.7 M747.3 435.9 L744.8 439.1" stroke="#000" stroke-width="0.85" fill="none"/>
<path d="M764.7 71.3 L780.1 74.0 M778.0 73.6 L778.7 77.6" stroke="#000" stroke-width="0.85" fill="none"/>
<path d="M764.7 103.4 L779.7 99.1 M777.7 99.7 L780.0 102.9" stroke="#000" stroke-width="0.85" fill="none"/>
<path d="M764.7 135.5 L780.3 136.1 M778.2 136.0 L779.4 139.8" stroke="#000" stroke-width="0.85" fill="none"/>
<path d="M764.7 167.6 L779.5 172.4 M777.5 171.8 L777.7 175.8" stroke="#000" stroke-width="0.85" fill="none"/>
<path d="M764.7 199.7 L781.2 202.3 M781.2 202.3 L782.7 210.2" stroke="#000" stroke-width="0.85" fill="none"/>
<path d="M764.7 231.8 L781.4 231.0 M781.4 231.0 L784.5 238.3" stroke="#000" stroke-width="0.85" fill="none"/>
<path d="M764.7 263.9 L780.1 257.4 M780.1 257.4 L785.5 263.3" stroke="#000" stroke-width="0.85" fill="none"/>
<path d="M764.7 296.1 L780.2 294.2 M778.1 294.4 L779.9 298.0" stroke="#000" stroke-width="0.85" fill="none"/>
<path d="M764.7 328.2 L777.5 337.1 M775.8 335.9 L774.7 339.8" stroke="#000" stroke-width="0.85" fill="none"/>
<path d="M764.7 360.3 L774.8 370.7" stroke="#000" stroke-width="0.85" fill="none"/>
<path d="M764.7 376.3 L775.1 386.4" stroke="#000" stroke-width="0.85" fill="none"/>
<path d="M764.7 392.4 L775.6 401.9" stroke="#000" stroke-width="0.85" fill="none"/>
<path d="M764.7 408.4 L772.2 420.9" stroke="#000" stroke-width="0.85" fill="none"/>
<path d="M764.7 424.5 L772.8 436.5" stroke="#000" stroke-width="0.85" fill="none"/>
<path d="M789.2 71.3 L802.8 79.1 M800.9 78.0 L800.2 82.0" stroke="#000" stroke-width="0.85" fill="none"/>
<path d="M789.2 103.4 L803.3 110.2 M801.4 109.3 L801.0 113.3" stroke="#000" stroke-width="0.85" fill="none"/>
<path d="M789.2 135.5 L804.8 141.5 M804.8 141.5 L804.7 149.5" stroke="#000" stroke-width="0.85" fill="none"/>
<path d="M789.2 167.6 L803.7 176.0 M803.7 176.0 L802.3 183.8" stroke="#000" stroke-width="0.85" fill="none"/>
<path d="M789.2 199.7 L801.0 210.0 M799.4 208.6 L798.0 212.3" stroke="#000" stroke-width="0.85" fill="none"/>
<path d="M789.2 231.8 L798.4 243.1" stroke="#000" stroke-width="0.85" fill="none"/>
<path d="M789.2 263.9 L805.7 261.1 M805.7 261.1 L809.7 268.0" stroke="#000" stroke-width="0.85" fill="none"/>
<path d="M789.2 296.1 L794.4 311.9 M794.4 311.9 L788.1 316.9" stroke="#000" stroke-width="0.85" fill="none"/>
<path d="M789.2 328.2 L800.8 338.6 M799.3 337.2 L797.8 340.9" stroke="#000" stroke-width="0.85" fill="none"/>
<path d="M789.2 360.3 L804.8 361.1 M802.7 361.0 L803.9 364.8" stroke="#000" stroke-width="0.85" fill="none"/>
<path d="M789.2 376.3 L802.9 371.4" stroke="#000" stroke-width="0.85" fill="none"/>
<path d="M789.2 392.4 L799.3 382.0" stroke="#000" stroke-width="0.85" fill="none"/>
<path d="M789.2 408.4 L786.0 394.3" stroke="#000" stroke-width="0.85" fill="none"/>
<path d="M789.2 424.5 L787.2 410.1" stroke="#000" stroke-width="0.85" fill="none"/>
<path d="M813.8 71.3 L825.0 82.1 M823.5 80.7 L821.9 84.3" stroke="#000" stroke-width="0.85" fill="none"/>
<path d="M813.8 103.4 L822.7 116.2 M821.5 114.5 L819.2 117.7" stroke="#000" stroke-width="0.85" fill="none"/>
<path d="M813.8 135.5 L825.8 147.1 M825.8 147.1 L822.6 154.4" stroke="#000" stroke-width="0.85" fill="none"/>
<path d="M813.8 167.6 L823.9 181.0 M823.9 181.0 L819.5 187.7" stroke="#000" stroke-width="0.85" fill="none"/>
<path d="M813.8 199.7 L822.1 214.2 M822.1 214.2 L817.0 220.3" stroke="#000" stroke-width="0.85" fill="none"/>
<path d="M813.8 231.8 L817.8 245.8" stroke="#000" stroke-width="0.85" fill="none"/>
<path d="M813.8 263.9 L825.6 275.8 M825.6 275.8 L822.2 283.0" stroke="#000" stroke-width="0.85" fill="none"/>
<path d="M813.8 296.1 L823.4 309.7 M823.4 309.7 L818.8 316.3" stroke="#000" stroke-width="0.85" fill="none"/>
<path d="M813.8 328.2 L820.9 342.1 M819.9 340.2 L817.2 343.1" stroke="#000" stroke-width="0.85" fill="none"/>
<path d="M813.8 360.3 L816.8 374.5" stroke="#000" stroke-width="0.85" fill="none"/>
<path d="M813.8 376.3 L814.8 390.8" stroke="#000" stroke-width="0.85" fill="none"/>
<path d="M813.8 392.4 L814.3 406.9" stroke="#000" stroke-width="0.85" fill="none"/>
<path d="M813.8 408.4 L814.8 422.9" stroke="#000" stroke-width="0.85" fill="none"/>
<path d="M813.8 424.5 L814.8 439.0" stroke="#000" stroke-width="0.85" fill="none"/>
<path d="M838.4 71.3 L841.3 86.6 M840.9 84.5 L837.5 86.6" stroke="#000" stroke-width="0.85" fill="none"/>
<path d="M838.4 103.4 L840.0 118.9 M839.8 116.8 L836.2 118.6" stroke="#000" stroke-width="0.85" fill="none"/>
<path d="M838.4 135.5 L848.8 147.1 M847.4 145.5 L845.5 149.1" stroke="#000" stroke-width="0.85" fill="none"/>
<path d="M838.4 167.6 L843.0 183.7 M843.0 183.7 L836.5 188.4" stroke="#000" stroke-width="0.85" fill="none"/>
<path d="M838.4 199.7 L840.9 214.0" stroke="#000" stroke-width="0.85" fill="none"/>
<path d="M838.4 231.8 L841.6 247.1 M841.2 245.0 L837.8 247.2" stroke="#000" stroke-width="0.85" fill="none"/>
<path d="M838.4 263.9 L849.5 276.4 M849.5 276.4 L845.8 283.4" stroke="#000" stroke-width="0.85" fill="none"/>
<path d="M838.4 296.1 L848.9 309.0 M848.9 309.0 L844.7 315.9" stroke="#000" stroke-width="0.85" fill="none"/>
<path d="M838.4 328.2 L845.4 343.3 M845.4 343.3 L839.8 349.0" stroke="#000" stroke-width="0.85" fill="none"/>
<path d="M838.4 360.3 L837.8 375.9 M837.9 373.8 L834.1 375.0" stroke="#000" stroke-width="0.85" fill="none"/>
<path d="M838.4 376.3 L833.0 391.0 M833.7 389.0 L829.7 389.0" stroke="#000" stroke-width="0.85" fill="none"/>
<path d="M838.4 392.4 L843.3 378.8" stroke="#000" stroke-width="0.85" fill="none"/>
<path d="M838.4 408.4 L844.5 395.3" stroke="#000" stroke-width="0.85" fill="none"/>
<path d="M838.4 424.5 L844.7 411.5" stroke="#000" stroke-width="0.85" fill="none"/>
<path d="M862.9 71.3 L862.9 86.9 M862.9 84.8 L859.1 86.2" stroke="#000" stroke-width="0.85" fill="none"/>
<path d="M862.9 103.4 L862.0 120.1 M862.0 120.1 L854.4 122.4" stroke="#000" stroke-width="0.85" fill="none"/>
<path d="M862.9 135.5 L863.4 151.1 M863.4 149.0 L859.7 150.5" stroke="#000" stroke-width="0.85" fill="none"/>
<path d="M862.9 167.6 L865.6 183.0 M865.2 180.9 L861.8 182.9" stroke="#000" stroke-width="0.85" fill="none"/>
<path d="M862.9 199.7 L863.4 215.3 M863.4 213.2 L859.7 214.7" stroke="#000" stroke-width="0.85" fill="none"/>
<path d="M862.9 231.8 L865.6 247.2 M865.2 245.1 L861.8 247.1" stroke="#000" stroke-width="0.85" fill="none"/>
<path d="M862.9 263.9 L874.3 276.2 M874.3 276.2 L870.7 283.3" stroke="#000" stroke-width="0.85" fill="none"/>
<path d="M862.9 296.1 L876.2 306.1 M876.2 306.1 L873.9 313.8" stroke="#000" stroke-width="0.85" fill="none"/>
<path d="M862.9 328.2 L874.5 338.6 M872.9 337.2 L871.4 340.9" stroke="#000" stroke-width="0.85" fill="none"/>
<path d="M862.9 360.3 L878.0 364.3 M875.9 363.8 L876.3 367.8" stroke="#000" stroke-width="0.85" fill="none"/>
<path d="M862.9 376.3 L877.4 375.6" stroke="#000" stroke-width="0.85" fill="none"/>
<path d="M862.9 392.4 L877.1 389.4" stroke="#000" stroke-width="0.85" fill="none"/>
<path d="M862.9 408.4 L877.1 405.4" stroke="#000" stroke-width="0.85" fill="none"/>
<path d="M862.9 424.5 L877.1 421.5" stroke="#000" stroke-width="0.85" fill="none"/>
<path d="M887.5 71.3 L877.6 84.8 M877.6 84.8 L869.9 82.6" stroke="#000" stroke-width="0.85" fill="none"/>
<path d="M887.5 103.4 L883.7 119.7 M883.7 119.7 L875.8 120.6" stroke="#000" stroke-width="0.85" fill="none"/>
<path d="M887.5 135.5 L886.1 151.1 M886.3 149.0 L882.4 150.0" stroke="#000" stroke-width="0.85" fill="none"/>
<path d="M887.5 167.6 L890.4 182.9 M890.0 180.9 L886.6 182.9" stroke="#000" stroke-width="0.85" fill="none"/>
<path d="M887.5 199.7 L894.0 215.1 M894.0 215.1 L888.1 220.6" stroke="#000" stroke-width="0.85" fill="none"/>
<path d="M887.5 231.8 L892.4 245.5" stroke="#000" stroke-width="0.85" fill="none"/>
<path d="M887.5 263.9 L898.3 275.2 M896.8 273.7 L895.1 277.3" stroke="#000" stroke-width="0.85" fill="none"/>
<path d="M887.5 296.1 L902.6 299.8 M900.5 299.3 L901.0 303.3" stroke="#000" stroke-width="0.85" fill="none"/>
<path d="M887.5 328.2 L902.0 322.6 M900.1 323.3 L902.7 326.4" stroke="#000" stroke-width="0.85" fill="none"/>
<path d="M887.5 360.3 L900.8 365.9" stroke="#000" stroke-width="0.85" fill="none"/>
<path d="M887.5 376.3 L901.6 373.3" stroke="#000" stroke-width="0.85" fill="none"/>
<path d="M887.5 392.4 L879.6 380.2" stroke="#000" stroke-width="0.85" fill="none"/>
<path d="M887.5 408.4 L879.1 396.6" stroke="#000" stroke-width="0.85" fill="none"/>
<path d="M887.5 424.5 L879.8 412.2" stroke="#000" stroke-width="0.85" fill="none"/>
<path d="M912.0 71.3 L903.6 85.8 M903.6 85.8 L895.8 84.4" stroke="#000" stroke-width="0.85" fill="none"/>
<path d="M912.0 103.4 L906.3 119.1 M906.3 119.1 L898.3 119.1" stroke="#000" stroke-width="0.85" fill="none"/>
<path d="M912.0 135.5 L905.2 150.8 M905.2 150.8 L897.2 150.2" stroke="#000" stroke-width="0.85" fill="none"/>
<path d="M912.0 167.6 L911.4 184.3 M911.4 184.3 L903.8 186.8" stroke="#000" stroke-width="0.85" fill="none"/>
<path d="M912.0 199.7 L913.3 214.2" stroke="#000" stroke-width="0.85" fill="none"/>
<path d="M912.0 231.8 L915.8 245.8" stroke="#000" stroke-width="0.85" fill="none"/>
<path d="M912.0 263.9 L918.6 278.1 M917.7 276.2 L914.9 279.0" stroke="#000" stroke-width="0.85" fill="none"/>
<path d="M912.0 296.1 L924.3 303.7" stroke="#000" stroke-width="0.85" fill="none"/>
<path d="M912.0 328.2 L924.9 334.8" stroke="#000" stroke-width="0.85" fill="none"/>
<path d="M912.0 360.3 L915.0 374.5" stroke="#000" stroke-width="0.85" fill="none"/>
<path d="M912.0 376.3 L912.0 390.8" stroke="#000" stroke-width="0.85" fill="none"/>
<path d="M912.0 392.4 L910.2 406.8" stroke="#000" stroke-width="0.85" fill="none"/>
<path d="M912.0 408.4 L910.0 422.8" stroke="#000" stroke-width="0.85" fill="none"/>
<path d="M912.0 424.5 L908.2 438.5" stroke="#000" stroke-width="0.85" fill="none"/>
<path d="M936.5 71.3 L928.5 85.9 M928.5 85.9 L920.6 84.6" stroke="#000" stroke-width="0.85" fill="none"/>
<path d="M936.5 103.4 L928.2 117.9 M928.2 117.9 L920.3 116.5" stroke="#000" stroke-width="0.85" fill="none"/>
<path d="M936.5 135.5 L932.8 151.8 M932.8 151.8 L924.9 152.8" stroke="#000" stroke-width="0.85" fill="none"/>
<path d="M936.5 167.6 L931.7 182.5 M932.4 180.5 L928.4 180.6" stroke="#000" stroke-width="0.85" fill="none"/>
<path d="M936.5 199.7 L935.5 215.3 M935.6 213.2 L931.8 214.3" stroke="#000" stroke-width="0.85" fill="none"/>
<path d="M936.5 231.8 L940.5 245.8" stroke="#000" stroke-width="0.85" fill="none"/>
<path d="M936.5 263.9 L948.5 274.0 M946.9 272.6 L945.5 276.4" stroke="#000" stroke-width="0.85" fill="none"/>
<path d="M936.5 296.1 L952.1 296.6 M950.0 296.5 L951.3 300.3" stroke="#000" stroke-width="0.85" fill="none"/>
<path d="M936.5 328.2 L948.8 320.5" stroke="#000" stroke-width="0.85" fill="none"/>
<path d="M936.5 360.3 L928.9 348.0" stroke="#000" stroke-width="0.85" fill="none"/>
<path d="M936.5 376.3 L923.0 371.1" stroke="#000" stroke-width="0.85" fill="none"/>
<path d="M936.5 392.4 L922.2 394.7" stroke="#000" stroke-width="0.85" fill="none"/>
<path d="M936.5 408.4 L922.5 412.2" stroke="#000" stroke-width="0.85" fill="none"/>
<path d="M936.5 424.5 L922.5 428.3" stroke="#000" stroke-width="0.85" fill="none"/>
<path d="M961.1 71.3 L962.6 87.9 M962.6 87.9 L955.3 91.3" stroke="#000" stroke-width="0.85" fill="none"/>
<path d="M961.1 103.4 L956.8 118.4 M957.4 116.4 L953.4 116.7" stroke="#000" stroke-width="0.85" fill="none"/>
<path d="M961.1 135.5 L961.6 151.1 M961.6 149.0 L957.9 150.5" stroke="#000" stroke-width="0.85" fill="none"/>
<path d="M961.1 167.6 L960.3 183.2 M960.4 181.1 L956.6 182.3" stroke="#000" stroke-width="0.85" fill="none"/>
<path d="M961.1 199.7 L958.1 215.0 M958.5 213.0 L954.6 213.6" stroke="#000" stroke-width="0.85" fill="none"/>
<path d="M961.1 231.8 L961.6 246.3" stroke="#000" stroke-width="0.85" fill="none"/>
<path d="M961.1 263.9 L964.6 279.2 M964.1 277.1 L960.8 279.3" stroke="#000" stroke-width="0.85" fill="none"/>
<path d="M961.1 296.1 L967.9 310.1 M967.0 308.2 L964.2 311.1" stroke="#000" stroke-width="0.85" fill="none"/>
<path d="M961.1 328.2 L967.9 341.0" stroke="#000" stroke-width="0.85" fill="none"/>
<path d="M961.1 360.3 L961.6 374.8" stroke="#000" stroke-width="0.85" fill="none"/>
<path d="M961.1 376.3 L961.6 390.8" stroke="#000" stroke-width="0.85" fill="none"/>
<path d="M961.1 392.4 L961.6 406.9" stroke="#000" stroke-width="0.85" fill="none"/>
<path d="M961.1 408.4 L961.6 422.9" stroke="#000" stroke-width="0.85" fill="none"/>
<path d="M961.1 424.5 L961.6 439.0" stroke="#000" stroke-width="0.85" fill="none"/>
<path d="M985.6 71.3 L990.4 85.0" stroke="#000" stroke-width="0.85" fill="none"/>
<path d="M985.6 103.4 L989.2 117.5" stroke="#000" stroke-width="0.85" fill="none"/>
<path d="M985.6 135.5 L989.7 150.6 M989.1 148.5 L985.9 150.8" stroke="#000" stroke-width="0.85" fill="none"/>
<path d="M985.6 167.6 L989.7 182.7 M989.1 180.7 L985.9 183.0" stroke="#000" stroke-width="0.85" fill="none"/>
<path d="M985.6 199.7 L987.6 215.2 M987.3 213.1 L983.7 214.9" stroke="#000" stroke-width="0.85" fill="none"/>
<path d="M985.6 231.8 L986.4 246.3" stroke="#000" stroke-width="0.85" fill="none"/>
<path d="M985.6 263.9 L992.7 276.6" stroke="#000" stroke-width="0.85" fill="none"/>
<path d="M985.6 296.1 L999.6 300.1" stroke="#000" stroke-width="0.85" fill="none"/>
<path d="M985.6 328.2 L993.3 315.9" stroke="#000" stroke-width="0.85" fill="none"/>
<path d="M985.6 360.3 L991.5 373.5" stroke="#000" stroke-width="0.85" fill="none"/>
<path d="M985.6 376.3 L990.1 390.1" stroke="#000" stroke-width="0.85" fill="none"/>
<path d="M985.6 392.4 L991.5 405.6" stroke="#000" stroke-width="0.85" fill="none"/>
<path d="M985.6 408.4 L993.3 420.7" stroke="#000" stroke-width="0.85" fill="none"/>
<path d="M985.6 424.5 L993.3 436.8" stroke="#000" stroke-width="0.85" fill="none"/>
<path d="M1010.2 71.3 L1011.6 86.8 M1011.4 84.7 L1007.8 86.4" stroke="#000" stroke-width="0.85" fill="none"/>
<path d="M1010.2 103.4 L1011.8 118.9 M1011.6 116.8 L1008.0 118.6" stroke="#000" stroke-width="0.85" fill="none"/>
<path d="M1010.2 135.5 L1011.6 151.1 M1011.4 149.0 L1007.8 150.6" stroke="#000" stroke-width="0.85" fill="none"/>
<path d="M1010.2 167.6 L1010.2 183.2 M1010.2 181.1 L1006.4 182.5" stroke="#000" stroke-width="0.85" fill="none"/>
<path d="M1010.2 199.7 L1008.3 215.2 M1008.6 213.1 L1004.7 214.0" stroke="#000" stroke-width="0.85" fill="none"/>
<path d="M1010.2 231.8 L1008.4 246.2" stroke="#000" stroke-width="0.85" fill="none"/>
<path d="M1010.2 263.9 L1012.6 279.4 M1012.3 277.3 L1008.8 279.2" stroke="#000" stroke-width="0.85" fill="none"/>
<path d="M1010.2 296.1 L1019.5 307.2" stroke="#000" stroke-width="0.85" fill="none"/>
<path d="M1010.2 328.2 L1020.1 338.8" stroke="#000" stroke-width="0.85" fill="none"/>
<path d="M1010.2 360.3 L1001.3 371.7" stroke="#000" stroke-width="0.85" fill="none"/>
<path d="M1010.2 376.3 L1001.5 387.9" stroke="#000" stroke-width="0.85" fill="none"/>
<path d="M1010.2 392.4 L999.4 402.1" stroke="#000" stroke-width="0.85" fill="none"/>
<path d="M1010.2 408.4 L999.3 418.0" stroke="#000" stroke-width="0.85" fill="none"/>
<path d="M1010.2 424.5 L999.4 434.2" stroke="#000" stroke-width="0.85" fill="none"/>
<path d="M1034.8 71.3 L1033.4 55.7 M1033.6 57.8 L1037.2 56.2" stroke="#000" stroke-width="0.85" fill="none"/>
<path d="M1034.8 103.4 L1033.4 87.9 M1033.6 90.0 L1037.2 88.3" stroke="#000" stroke-width="0.85" fill="none"/>
<path d="M1034.8 135.5 L1027.0 149.0 M1028.0 147.2 L1024.1 146.5" stroke="#000" stroke-width="0.85" fill="none"/>
<path d="M1034.8 167.6 L1028.9 182.1 M1029.7 180.1 L1025.7 180.0" stroke="#000" stroke-width="0.85" fill="none"/>
<path d="M1034.8 199.7 L1030.2 214.6 M1030.8 212.6 L1026.8 212.8" stroke="#000" stroke-width="0.85" fill="none"/>
<path d="M1034.8 231.8 L1031.2 245.9" stroke="#000" stroke-width="0.85" fill="none"/>
<path d="M1034.8 263.9 L1035.6 279.5 M1035.5 277.4 L1031.8 279.0" stroke="#000" stroke-width="0.85" fill="none"/>
<path d="M1034.8 296.1 L1039.0 311.1 M1038.5 309.0 L1035.2 311.4" stroke="#000" stroke-width="0.85" fill="none"/>
<path d="M1034.8 328.2 L1042.0 340.7" stroke="#000" stroke-width="0.85" fill="none"/>
<path d="M1034.8 360.3 L1038.7 374.2" stroke="#000" stroke-width="0.85" fill="none"/>
<path d="M1034.8 376.3 L1037.0 390.7" stroke="#000" stroke-width="0.85" fill="none"/>
<path d="M1034.8 392.4 L1036.4 407.9 M1036.2 405.8 L1032.6 407.6" stroke="#000" stroke-width="0.85" fill="none"/>
<path d="M1034.8 408.4 L1036.3 422.9" stroke="#000" stroke-width="0.85" fill="none"/>
<path d="M1034.8 424.5 L1036.3 438.9" stroke="#000" stroke-width="0.85" fill="none"/>
<path d="M1059.3 71.3 L1049.1 59.5 M1050.4 61.1 L1052.4 57.6" stroke="#000" stroke-width="0.85" fill="none"/>
<path d="M1059.3 103.4 L1049.1 91.6 M1050.4 93.2 L1052.4 89.7" stroke="#000" stroke-width="0.85" fill="none"/>
<path d="M1059.3 135.5 L1045.5 128.2 M1047.4 129.2 L1047.9 125.2" stroke="#000" stroke-width="0.85" fill="none"/>
<path d="M1059.3 167.6 L1052.2 181.5 M1053.2 179.6 L1049.2 179.2" stroke="#000" stroke-width="0.85" fill="none"/>
<path d="M1059.3 199.7 L1052.0 213.5 M1053.0 211.6 L1049.0 211.1" stroke="#000" stroke-width="0.85" fill="none"/>
<path d="M1059.3 231.8 L1051.7 245.5 M1052.8 243.6 L1048.8 243.0" stroke="#000" stroke-width="0.85" fill="none"/>
<path d="M1059.3 263.9 L1052.2 277.8 M1053.2 276.0 L1049.2 275.5" stroke="#000" stroke-width="0.85" fill="none"/>
<path d="M1059.3 296.1 L1056.3 311.4 M1056.7 309.3 L1052.8 309.9" stroke="#000" stroke-width="0.85" fill="none"/>
<path d="M1059.3 328.2 L1060.1 343.7 M1060.0 341.7 L1056.3 343.2" stroke="#000" stroke-width="0.85" fill="none"/>
<path d="M1059.3 360.3 L1062.8 375.5 M1062.3 373.4 L1059.0 375.6" stroke="#000" stroke-width="0.85" fill="none"/>
<path d="M1059.3 376.3 L1063.9 391.3 M1063.2 389.2 L1060.1 391.7" stroke="#000" stroke-width="0.85" fill="none"/>
<path d="M1059.3 392.4 L1066.9 406.0 M1065.8 404.2 L1063.2 407.2" stroke="#000" stroke-width="0.85" fill="none"/>
<path d="M1059.3 408.4 L1068.4 419.7" stroke="#000" stroke-width="0.85" fill="none"/>
<path d="M1059.3 424.5 L1069.5 436.3 M1068.2 434.7 L1066.2 438.2" stroke="#000" stroke-width="0.85" fill="none"/>
<path d="M1083.9 71.3 L1069.8 75.0" stroke="#000" stroke-width="0.85" fill="none"/>
<path d="M1083.9 103.4 L1068.3 103.1 M1070.4 103.2 L1069.0 99.4" stroke="#000" stroke-width="0.85" fill="none"/>
<path d="M1083.9 135.5 L1068.3 135.5 M1070.4 135.5 L1069.0 131.8" stroke="#000" stroke-width="0.85" fill="none"/>
<path d="M1083.9 167.6 L1068.9 171.9 M1070.9 171.3 L1068.5 168.1" stroke="#000" stroke-width="0.85" fill="none"/>
<path d="M1083.9 199.7 L1072.4 210.4 M1074.0 208.9 L1070.4 207.1" stroke="#000" stroke-width="0.85" fill="none"/>
<path d="M1083.9 231.8 L1072.1 242.1 M1073.7 240.7 L1070.2 238.8" stroke="#000" stroke-width="0.85" fill="none"/>
<path d="M1083.9 263.9 L1071.9 274.0 M1073.5 272.6 L1070.0 270.6" stroke="#000" stroke-width="0.85" fill="none"/>
<path d="M1083.9 296.1 L1072.3 306.5 M1073.8 305.1 L1070.3 303.2" stroke="#000" stroke-width="0.85" fill="none"/>
<path d="M1083.9 328.2 L1077.3 342.3 M1078.1 340.4 L1074.2 340.1" stroke="#000" stroke-width="0.85" fill="none"/>
<path d="M1083.9 360.3 L1085.5 375.8 M1085.3 373.7 L1081.7 375.5" stroke="#000" stroke-width="0.85" fill="none"/>
<path d="M1083.9 376.3 L1088.9 391.1 M1088.2 389.1 L1085.1 391.6" stroke="#000" stroke-width="0.85" fill="none"/>
<path d="M1083.9 392.4 L1089.5 405.7" stroke="#000" stroke-width="0.85" fill="none"/>
<path d="M1083.9 408.4 L1090.4 421.4" stroke="#000" stroke-width="0.85" fill="none"/>
<path d="M1083.9 424.5 L1090.4 437.4" stroke="#000" stroke-width="0.85" fill="none"/>
</g>
<line x1="120.5" y1="452.5" x2="1090.5" y2="452.5" stroke="#a8a8a8" stroke-width="1" stroke-dasharray="4 2.2"/>
<line x1="120.5" y1="473.8" x2="1090.5" y2="473.8" stroke="#a8a8a8" stroke-width="1" stroke-dasharray="4 2.2"/>
<line x1="120.5" y1="494.8" x2="1090.5" y2="494.8" stroke="#a8a8a8" stroke-width="1" stroke-dasharray="4 2.2"/>
<line x1="120.5" y1="515.5" x2="1090.5" y2="515.5" stroke="#a8a8a8" stroke-width="1" stroke-dasharray="4 2.2"/>
<line x1="175.5" y1="440.5" x2="175.5" y2="525.5" stroke="#a8a8a8" stroke-width="1" stroke-dasharray="4 2.2"/>
<line x1="273.7" y1="440.5" x2="273.7" y2="525.5" stroke="#a8a8a8" stroke-width="1" stroke-dasharray="4 2.2"/>
<line x1="371.9" y1="440.5" x2="371.9" y2="525.5" stroke="#a8a8a8" stroke-width="1" stroke-dasharray="4 2.2"/>
<line x1="470.1" y1="440.5" x2="470.1" y2="525.5" stroke="#a8a8a8" stroke-width="1" stroke-dasharray="4 2.2"/>
<line x1="568.3" y1="440.5" x2="568.3" y2="525.5" stroke="#a8a8a8" stroke-width="1" stroke-dasharray="4 2.2"/>
<line x1="666.5" y1="440.5" x2="666.5" y2="525.5" stroke="#a8a8a8" stroke-width="1" stroke-dasharray="4 2.2"/>
<line x1="764.7" y1="440.5" x2="764.7" y2="525.5" stroke="#a8a8a8" stroke-width="1" stroke-dasharray="4 2.2"/>
<line x1="862.9" y1="440.5" x2="862.9" y2="525.5" stroke="#a8a8a8" stroke-width="1" stroke-dasharray="4 2.2"/>
<line x1="961.1" y1="440.5" x2="961.1" y2="525.5" stroke="#a8a8a8" stroke-width="1" stroke-dasharray="4 2.2"/>
<line x1="1059.3" y1="440.5" x2="1059.3" y2="525.5" stroke="#a8a8a8" stroke-width="1" stroke-dasharray="4 2.2"/>
<g clip-path="url(#cp2)">
<polyline points="126.4,492.5 138.7,500.8 151.0,496.8 163.2,497.5 175.5,512.0 187.8,519.5 200.1,511.2 212.3,505.8 224.6,512.0 236.9,503.8 249.2,488.8 261.4,478.8 273.7,478.8 286.0,473.8 298.2,465.0 310.5,455.8 322.8,466.2 335.1,470.8 347.4,462.5 359.6,455.8 371.9,454.5 384.2,454.5 396.5,452.5 408.7,445.8 421.0,459.5 433.3,466.8 445.6,462.5 457.8,458.0 470.1,458.8 482.4,458.8 494.6,455.0 506.9,450.5 519.2,454.2 531.5,460.0 543.8,453.8 556.0,450.5 568.3,451.2 580.6,452.0 592.9,452.0 605.1,446.8 617.4,456.2 629.7,462.5 642.0,461.2 654.2,462.5 666.5,463.8 678.8,473.0 691.0,476.8 703.3,474.5 715.6,479.5 727.9,482.5 740.1,475.0 752.4,474.2 764.7,476.2 777.0,474.2 789.2,476.8 801.5,475.0 813.8,480.8 826.1,478.8 838.4,472.5 850.6,470.5 862.9,472.0 875.2,469.5 887.5,465.0 899.7,460.0 912.0,466.8 924.3,469.2 936.5,462.5 948.8,455.0 961.1,455.8 973.4,454.5 985.6,452.5 997.9,447.0 1010.2,453.0 1022.5,458.8 1034.8,455.5 1047.0,449.5 1059.3,453.0 1071.6,452.5 1083.9,451.2" fill="none" stroke="#1e32f0" stroke-width="2.2" stroke-linejoin="round" stroke-linecap="round" />
<polyline points="126.4,519.5 138.7,512.0 151.0,512.5 163.2,514.2 175.5,514.2 187.8,517.5 200.1,518.0 212.3,508.2 224.6,490.0 236.9,486.2 249.2,484.5 261.4,481.2 273.7,476.2 286.0,473.0 298.2,475.0 310.5,475.5 322.8,470.0 335.1,466.2 347.4,467.0 359.6,468.0 371.9,467.5 384.2,466.2 396.5,467.5 408.7,466.2 421.0,459.5 433.3,455.5 445.6,453.2 457.8,453.8 470.1,452.5 482.4,453.8 494.6,452.5 506.9,449.2 519.2,448.8 531.5,446.8 543.8,448.2 556.0,449.5 568.3,451.2 580.6,454.2 592.9,455.0 605.1,457.0 617.4,457.0 629.7,459.5 642.0,462.5 654.2,465.5 666.5,470.0 678.8,473.8 691.0,478.0 703.3,478.0 715.6,480.5 727.9,483.2 740.1,484.5 752.4,483.8 764.7,488.0 777.0,492.0 789.2,493.0 801.5,490.8 813.8,490.0 826.1,494.2 838.4,493.0 850.6,492.0 862.9,493.2 875.2,494.5 887.5,495.5 899.7,494.2 912.0,489.2 924.3,487.5 936.5,487.0 948.8,487.5 961.1,488.2 973.4,486.2 985.6,484.2 997.9,480.8 1010.2,476.2 1022.5,470.8 1034.8,467.5 1047.0,466.2 1059.3,464.5 1071.6,463.8 1083.9,463.8 1096.1,465.5" fill="none" stroke="#00c0c0" stroke-width="1.1" stroke-linejoin="round" stroke-linecap="round" />
<polygon points="126.4,516.3 123.6,521.5 129.2,521.5" fill="none" stroke="#00c0c0" stroke-width="1"/>
<polygon points="138.7,508.8 135.9,514.0 141.5,514.0" fill="none" stroke="#00c0c0" stroke-width="1"/>
<polygon points="151.0,509.3 148.2,514.5 153.8,514.5" fill="none" stroke="#00c0c0" stroke-width="1"/>
<polygon points="163.2,511.1 160.4,516.2 166.0,516.2" fill="none" stroke="#00c0c0" stroke-width="1"/>
<polygon points="175.5,511.1 172.7,516.2 178.3,516.2" fill="none" stroke="#00c0c0" stroke-width="1"/>
<polygon points="187.8,514.3 185.0,519.5 190.6,519.5" fill="none" stroke="#00c0c0" stroke-width="1"/>
<polygon points="200.1,514.8 197.2,520.0 202.9,520.0" fill="none" stroke="#00c0c0" stroke-width="1"/>
<polygon points="212.3,505.1 209.5,510.2 215.1,510.2" fill="none" stroke="#00c0c0" stroke-width="1"/>
<polygon points="224.6,486.8 221.8,492.0 227.4,492.0" fill="none" stroke="#00c0c0" stroke-width="1"/>
<polygon points="236.9,483.1 234.1,488.2 239.7,488.2" fill="none" stroke="#00c0c0" stroke-width="1"/>
<polygon points="249.2,481.3 246.3,486.5 252.0,486.5" fill="none" stroke="#00c0c0" stroke-width="1"/>
<polygon points="261.4,478.1 258.6,483.2 264.2,483.2" fill="none" stroke="#00c0c0" stroke-width="1"/>
<polygon points="273.7,473.1 270.9,478.2 276.5,478.2" fill="none" stroke="#00c0c0" stroke-width="1"/>
<polygon points="286.0,469.8 283.2,475.0 288.8,475.0" fill="none" stroke="#00c0c0" stroke-width="1"/>
<polygon points="298.2,471.8 295.4,477.0 301.1,477.0" fill="none" stroke="#00c0c0" stroke-width="1"/>
<polygon points="310.5,472.3 307.7,477.5 313.3,477.5" fill="none" stroke="#00c0c0" stroke-width="1"/>
<polygon points="322.8,466.8 320.0,472.0 325.6,472.0" fill="none" stroke="#00c0c0" stroke-width="1"/>
<polygon points="335.1,463.1 332.3,468.2 337.9,468.2" fill="none" stroke="#00c0c0" stroke-width="1"/>
<polygon points="347.4,463.8 344.6,469.0 350.2,469.0" fill="none" stroke="#00c0c0" stroke-width="1"/>
<polygon points="359.6,464.8 356.8,470.0 362.4,470.0" fill="none" stroke="#00c0c0" stroke-width="1"/>
<polygon points="371.9,464.3 369.1,469.5 374.7,469.5" fill="none" stroke="#00c0c0" stroke-width="1"/>
<polygon points="384.2,463.1 381.4,468.2 387.0,468.2" fill="none" stroke="#00c0c0" stroke-width="1"/>
<polygon points="396.5,464.3 393.7,469.5 399.3,469.5" fill="none" stroke="#00c0c0" stroke-width="1"/>
<polygon points="408.7,463.1 405.9,468.2 411.5,468.2" fill="none" stroke="#00c0c0" stroke-width="1"/>
<polygon points="421.0,456.3 418.2,461.5 423.8,461.5" fill="none" stroke="#00c0c0" stroke-width="1"/>
<polygon points="433.3,452.3 430.5,457.5 436.1,457.5" fill="none" stroke="#00c0c0" stroke-width="1"/>
<polygon points="445.6,450.1 442.8,455.2 448.4,455.2" fill="none" stroke="#00c0c0" stroke-width="1"/>
<polygon points="457.8,450.6 455.0,455.8 460.6,455.8" fill="none" stroke="#00c0c0" stroke-width="1"/>
<polygon points="470.1,449.3 467.3,454.5 472.9,454.5" fill="none" stroke="#00c0c0" stroke-width="1"/>
<polygon points="482.4,450.6 479.6,455.8 485.2,455.8" fill="none" stroke="#00c0c0" stroke-width="1"/>
<polygon points="494.6,449.3 491.8,454.5 497.4,454.5" fill="none" stroke="#00c0c0" stroke-width="1"/>
<polygon points="506.9,446.1 504.1,451.2 509.7,451.2" fill="none" stroke="#00c0c0" stroke-width="1"/>
<polygon points="519.2,445.6 516.4,450.8 522.0,450.8" fill="none" stroke="#00c0c0" stroke-width="1"/>
<polygon points="531.5,443.6 528.7,448.8 534.3,448.8" fill="none" stroke="#00c0c0" stroke-width="1"/>
<polygon points="543.8,445.1 541.0,450.2 546.5,450.2" fill="none" stroke="#00c0c0" stroke-width="1"/>
<polygon points="556.0,446.3 553.2,451.5 558.8,451.5" fill="none" stroke="#00c0c0" stroke-width="1"/>
<polygon points="568.3,448.1 565.5,453.2 571.1,453.2" fill="none" stroke="#00c0c0" stroke-width="1"/>
<polygon points="580.6,451.1 577.8,456.2 583.4,456.2" fill="none" stroke="#00c0c0" stroke-width="1"/>
<polygon points="592.9,451.8 590.1,457.0 595.6,457.0" fill="none" stroke="#00c0c0" stroke-width="1"/>
<polygon points="605.1,453.8 602.3,459.0 607.9,459.0" fill="none" stroke="#00c0c0" stroke-width="1"/>
<polygon points="617.4,453.8 614.6,459.0 620.2,459.0" fill="none" stroke="#00c0c0" stroke-width="1"/>
<polygon points="629.7,456.3 626.9,461.5 632.5,461.5" fill="none" stroke="#00c0c0" stroke-width="1"/>
<polygon points="642.0,459.3 639.2,464.5 644.8,464.5" fill="none" stroke="#00c0c0" stroke-width="1"/>
<polygon points="654.2,462.3 651.4,467.5 657.0,467.5" fill="none" stroke="#00c0c0" stroke-width="1"/>
<polygon points="666.5,466.8 663.7,472.0 669.3,472.0" fill="none" stroke="#00c0c0" stroke-width="1"/>
<polygon points="678.8,470.6 676.0,475.8 681.6,475.8" fill="none" stroke="#00c0c0" stroke-width="1"/>
<polygon points="691.0,474.8 688.2,480.0 693.8,480.0" fill="none" stroke="#00c0c0" stroke-width="1"/>
<polygon points="703.3,474.8 700.5,480.0 706.1,480.0" fill="none" stroke="#00c0c0" stroke-width="1"/>
<polygon points="715.6,477.3 712.8,482.5 718.4,482.5" fill="none" stroke="#00c0c0" stroke-width="1"/>
<polygon points="727.9,480.1 725.1,485.2 730.7,485.2" fill="none" stroke="#00c0c0" stroke-width="1"/>
<polygon points="740.1,481.3 737.4,486.5 742.9,486.5" fill="none" stroke="#00c0c0" stroke-width="1"/>
<polygon points="752.4,480.6 749.6,485.8 755.2,485.8" fill="none" stroke="#00c0c0" stroke-width="1"/>
<polygon points="764.7,484.8 761.9,490.0 767.5,490.0" fill="none" stroke="#00c0c0" stroke-width="1"/>
<polygon points="777.0,488.8 774.2,494.0 779.8,494.0" fill="none" stroke="#00c0c0" stroke-width="1"/>
<polygon points="789.2,489.8 786.5,495.0 792.0,495.0" fill="none" stroke="#00c0c0" stroke-width="1"/>
<polygon points="801.5,487.6 798.7,492.8 804.3,492.8" fill="none" stroke="#00c0c0" stroke-width="1"/>
<polygon points="813.8,486.8 811.0,492.0 816.6,492.0" fill="none" stroke="#00c0c0" stroke-width="1"/>
<polygon points="826.1,491.1 823.3,496.2 828.9,496.2" fill="none" stroke="#00c0c0" stroke-width="1"/>
<polygon points="838.4,489.8 835.6,495.0 841.1,495.0" fill="none" stroke="#00c0c0" stroke-width="1"/>
<polygon points="850.6,488.8 847.8,494.0 853.4,494.0" fill="none" stroke="#00c0c0" stroke-width="1"/>
<polygon points="862.9,490.1 860.1,495.2 865.7,495.2" fill="none" stroke="#00c0c0" stroke-width="1"/>
<polygon points="875.2,491.3 872.4,496.5 878.0,496.5" fill="none" stroke="#00c0c0" stroke-width="1"/>
<polygon points="887.5,492.3 884.7,497.5 890.2,497.5" fill="none" stroke="#00c0c0" stroke-width="1"/>
<polygon points="899.7,491.1 896.9,496.2 902.5,496.2" fill="none" stroke="#00c0c0" stroke-width="1"/>
<polygon points="912.0,486.1 909.2,491.2 914.8,491.2" fill="none" stroke="#00c0c0" stroke-width="1"/>
<polygon points="924.3,484.3 921.5,489.5 927.1,489.5" fill="none" stroke="#00c0c0" stroke-width="1"/>
<polygon points="936.5,483.8 933.8,489.0 939.3,489.0" fill="none" stroke="#00c0c0" stroke-width="1"/>
<polygon points="948.8,484.3 946.0,489.5 951.6,489.5" fill="none" stroke="#00c0c0" stroke-width="1"/>
<polygon points="961.1,485.1 958.3,490.2 963.9,490.2" fill="none" stroke="#00c0c0" stroke-width="1"/>
<polygon points="973.4,483.1 970.6,488.2 976.2,488.2" fill="none" stroke="#00c0c0" stroke-width="1"/>
<polygon points="985.6,481.1 982.9,486.2 988.4,486.2" fill="none" stroke="#00c0c0" stroke-width="1"/>
<polygon points="997.9,477.6 995.1,482.8 1000.7,482.8" fill="none" stroke="#00c0c0" stroke-width="1"/>
<polygon points="1010.2,473.1 1007.4,478.2 1013.0,478.2" fill="none" stroke="#00c0c0" stroke-width="1"/>
<polygon points="1022.5,467.6 1019.7,472.8 1025.3,472.8" fill="none" stroke="#00c0c0" stroke-width="1"/>
<polygon points="1034.8,464.3 1032.0,469.5 1037.5,469.5" fill="none" stroke="#00c0c0" stroke-width="1"/>
<polygon points="1047.0,463.1 1044.2,468.2 1049.8,468.2" fill="none" stroke="#00c0c0" stroke-width="1"/>
<polygon points="1059.3,461.3 1056.5,466.5 1062.1,466.5" fill="none" stroke="#00c0c0" stroke-width="1"/>
<polygon points="1071.6,460.6 1068.8,465.8 1074.4,465.8" fill="none" stroke="#00c0c0" stroke-width="1"/>
<polygon points="1083.9,460.6 1081.1,465.8 1086.7,465.8" fill="none" stroke="#00c0c0" stroke-width="1"/>
<polygon points="1096.1,462.3 1093.3,467.5 1098.9,467.5" fill="none" stroke="#00c0c0" stroke-width="1"/>
</g>
<line x1="120.5" y1="546.8" x2="1090.5" y2="546.8" stroke="#a8a8a8" stroke-width="1" stroke-dasharray="4 2.2"/>
<line x1="120.5" y1="589.2" x2="1090.5" y2="589.2" stroke="#a8a8a8" stroke-width="1" stroke-dasharray="4 2.2"/>
<line x1="175.5" y1="525.5" x2="175.5" y2="610.5" stroke="#a8a8a8" stroke-width="1" stroke-dasharray="4 2.2"/>
<line x1="273.7" y1="525.5" x2="273.7" y2="610.5" stroke="#a8a8a8" stroke-width="1" stroke-dasharray="4 2.2"/>
<line x1="371.9" y1="525.5" x2="371.9" y2="610.5" stroke="#a8a8a8" stroke-width="1" stroke-dasharray="4 2.2"/>
<line x1="470.1" y1="525.5" x2="470.1" y2="610.5" stroke="#a8a8a8" stroke-width="1" stroke-dasharray="4 2.2"/>
<line x1="568.3" y1="525.5" x2="568.3" y2="610.5" stroke="#a8a8a8" stroke-width="1" stroke-dasharray="4 2.2"/>
<line x1="666.5" y1="525.5" x2="666.5" y2="610.5" stroke="#a8a8a8" stroke-width="1" stroke-dasharray="4 2.2"/>
<line x1="764.7" y1="525.5" x2="764.7" y2="610.5" stroke="#a8a8a8" stroke-width="1" stroke-dasharray="4 2.2"/>
<line x1="862.9" y1="525.5" x2="862.9" y2="610.5" stroke="#a8a8a8" stroke-width="1" stroke-dasharray="4 2.2"/>
<line x1="961.1" y1="525.5" x2="961.1" y2="610.5" stroke="#a8a8a8" stroke-width="1" stroke-dasharray="4 2.2"/>
<line x1="1059.3" y1="525.5" x2="1059.3" y2="610.5" stroke="#a8a8a8" stroke-width="1" stroke-dasharray="4 2.2"/>
<line x1="120.5" y1="568.1" x2="1090.5" y2="568.1" stroke="#ff3c3c" stroke-width="1.1" stroke-dasharray="2.8 1.7"/>
<g clip-path="url(#cp3)">
<rect x="221.2" y="532.0" width="7.0" height="79.0" fill="#c878fa" />
<rect x="233.2" y="600.0" width="7.0" height="11.0" fill="#c878fa" />
<polyline points="175.5,612.0 187.8,596.0 200.1,612.0" fill="none" stroke="#ff3c3c" stroke-width="1" stroke-linejoin="round" stroke-linecap="round" />
<polyline points="617.4,611.5 629.7,608.8 642.0,612.0" fill="none" stroke="#ff3c3c" stroke-width="1" stroke-linejoin="round" stroke-linecap="round" />
<polyline points="789.2,614.0 801.5,609.5 813.8,602.0 826.1,603.2 838.4,598.2 850.6,599.5 862.9,601.5 875.2,601.5 887.5,603.0 899.7,603.0 912.0,602.0 924.3,598.2 936.5,595.5 948.8,593.8 961.1,596.2 973.4,606.2 985.6,609.2 997.9,611.5 1010.2,609.0 1022.5,613.0" fill="none" stroke="#ff3c3c" stroke-width="1" stroke-linejoin="round" stroke-linecap="round" />
<polygon points="187.8,593.4 189.9,596.0 187.8,598.6 185.7,596.0" fill="none" stroke="#ff3c3c" stroke-width="0.9"/>
<line x1="187.8" y1="593.4" x2="187.8" y2="598.6" stroke="#ff3c3c" stroke-width="0.7" />
<polygon points="629.7,606.1 631.8,608.8 629.7,611.4 627.6,608.8" fill="none" stroke="#ff3c3c" stroke-width="0.9"/>
<line x1="629.7" y1="606.1" x2="629.7" y2="611.4" stroke="#ff3c3c" stroke-width="0.7" />
<polygon points="801.5,606.9 803.6,609.5 801.5,612.1 799.4,609.5" fill="none" stroke="#ff3c3c" stroke-width="0.9"/>
<line x1="801.5" y1="606.9" x2="801.5" y2="612.1" stroke="#ff3c3c" stroke-width="0.7" />
<polygon points="813.8,599.4 815.9,602.0 813.8,604.6 811.7,602.0" fill="none" stroke="#ff3c3c" stroke-width="0.9"/>
<line x1="813.8" y1="599.4" x2="813.8" y2="604.6" stroke="#ff3c3c" stroke-width="0.7" />
<polygon points="826.1,600.6 828.2,603.2 826.1,605.9 824.0,603.2" fill="none" stroke="#ff3c3c" stroke-width="0.9"/>
<line x1="826.1" y1="600.6" x2="826.1" y2="605.9" stroke="#ff3c3c" stroke-width="0.7" />
<polygon points="838.4,595.6 840.4,598.2 838.4,600.9 836.3,598.2" fill="none" stroke="#ff3c3c" stroke-width="0.9"/>
<line x1="838.4" y1="595.6" x2="838.4" y2="600.9" stroke="#ff3c3c" stroke-width="0.7" />
<polygon points="850.6,596.9 852.7,599.5 850.6,602.1 848.5,599.5" fill="none" stroke="#ff3c3c" stroke-width="0.9"/>
<line x1="850.6" y1="596.9" x2="850.6" y2="602.1" stroke="#ff3c3c" stroke-width="0.7" />
<polygon points="862.9,598.9 865.0,601.5 862.9,604.1 860.8,601.5" fill="none" stroke="#ff3c3c" stroke-width="0.9"/>
<line x1="862.9" y1="598.9" x2="862.9" y2="604.1" stroke="#ff3c3c" stroke-width="0.7" />
<polygon points="875.2,598.9 877.3,601.5 875.2,604.1 873.1,601.5" fill="none" stroke="#ff3c3c" stroke-width="0.9"/>
<line x1="875.2" y1="598.9" x2="875.2" y2="604.1" stroke="#ff3c3c" stroke-width="0.7" />
<polygon points="887.5,600.4 889.5,603.0 887.5,605.6 885.4,603.0" fill="none" stroke="#ff3c3c" stroke-width="0.9"/>
<line x1="887.5" y1="600.4" x2="887.5" y2="605.6" stroke="#ff3c3c" stroke-width="0.7" />
<polygon points="899.7,600.4 901.8,603.0 899.7,605.6 897.6,603.0" fill="none" stroke="#ff3c3c" stroke-width="0.9"/>
<line x1="899.7" y1="600.4" x2="899.7" y2="605.6" stroke="#ff3c3c" stroke-width="0.7" />
<polygon points="912.0,599.4 914.1,602.0 912.0,604.6 909.9,602.0" fill="none" stroke="#ff3c3c" stroke-width="0.9"/>
<line x1="912.0" y1="599.4" x2="912.0" y2="604.6" stroke="#ff3c3c" stroke-width="0.7" />
<polygon points="924.3,595.6 926.4,598.2 924.3,600.9 922.2,598.2" fill="none" stroke="#ff3c3c" stroke-width="0.9"/>
<line x1="924.3" y1="595.6" x2="924.3" y2="600.9" stroke="#ff3c3c" stroke-width="0.7" />
<polygon points="936.5,592.9 938.6,595.5 936.5,598.1 934.5,595.5" fill="none" stroke="#ff3c3c" stroke-width="0.9"/>
<line x1="936.5" y1="592.9" x2="936.5" y2="598.1" stroke="#ff3c3c" stroke-width="0.7" />
<polygon points="948.8,591.1 950.9,593.8 948.8,596.4 946.7,593.8" fill="none" stroke="#ff3c3c" stroke-width="0.9"/>
<line x1="948.8" y1="591.1" x2="948.8" y2="596.4" stroke="#ff3c3c" stroke-width="0.7" />
<polygon points="961.1,593.6 963.2,596.2 961.1,598.9 959.0,596.2" fill="none" stroke="#ff3c3c" stroke-width="0.9"/>
<line x1="961.1" y1="593.6" x2="961.1" y2="598.9" stroke="#ff3c3c" stroke-width="0.7" />
<polygon points="973.4,603.6 975.5,606.2 973.4,608.9 971.3,606.2" fill="none" stroke="#ff3c3c" stroke-width="0.9"/>
<line x1="973.4" y1="603.6" x2="973.4" y2="608.9" stroke="#ff3c3c" stroke-width="0.7" />
<polygon points="985.6,606.6 987.7,609.2 985.6,611.9 983.6,609.2" fill="none" stroke="#ff3c3c" stroke-width="0.9"/>
<line x1="985.6" y1="606.6" x2="985.6" y2="611.9" stroke="#ff3c3c" stroke-width="0.7" />
<polygon points="1010.2,606.4 1012.3,609.0 1010.2,611.6 1008.1,609.0" fill="none" stroke="#ff3c3c" stroke-width="0.9"/>
<line x1="1010.2" y1="606.4" x2="1010.2" y2="611.6" stroke="#ff3c3c" stroke-width="0.7" />
</g>
<line x1="120.5" y1="626.2" x2="1090.5" y2="626.2" stroke="#a8a8a8" stroke-width="1" stroke-dasharray="4 2.2"/>
<line x1="120.5" y1="647.8" x2="1090.5" y2="647.8" stroke="#a8a8a8" stroke-width="1" stroke-dasharray="4 2.2"/>
<line x1="120.5" y1="669.5" x2="1090.5" y2="669.5" stroke="#a8a8a8" stroke-width="1" stroke-dasharray="4 2.2"/>
<line x1="120.5" y1="691.2" x2="1090.5" y2="691.2" stroke="#a8a8a8" stroke-width="1" stroke-dasharray="4 2.2"/>
<line x1="175.5" y1="610.5" x2="175.5" y2="695.5" stroke="#a8a8a8" stroke-width="1" stroke-dasharray="4 2.2"/>
<line x1="273.7" y1="610.5" x2="273.7" y2="695.5" stroke="#a8a8a8" stroke-width="1" stroke-dasharray="4 2.2"/>
<line x1="371.9" y1="610.5" x2="371.9" y2="695.5" stroke="#a8a8a8" stroke-width="1" stroke-dasharray="4 2.2"/>
<line x1="470.1" y1="610.5" x2="470.1" y2="695.5" stroke="#a8a8a8" stroke-width="1" stroke-dasharray="4 2.2"/>
<line x1="568.3" y1="610.5" x2="568.3" y2="695.5" stroke="#a8a8a8" stroke-width="1" stroke-dasharray="4 2.2"/>
<line x1="666.5" y1="610.5" x2="666.5" y2="695.5" stroke="#a8a8a8" stroke-width="1" stroke-dasharray="4 2.2"/>
<line x1="764.7" y1="610.5" x2="764.7" y2="695.5" stroke="#a8a8a8" stroke-width="1" stroke-dasharray="4 2.2"/>
<line x1="862.9" y1="610.5" x2="862.9" y2="695.5" stroke="#a8a8a8" stroke-width="1" stroke-dasharray="4 2.2"/>
<line x1="961.1" y1="610.5" x2="961.1" y2="695.5" stroke="#a8a8a8" stroke-width="1" stroke-dasharray="4 2.2"/>
<line x1="1059.3" y1="610.5" x2="1059.3" y2="695.5" stroke="#a8a8a8" stroke-width="1" stroke-dasharray="4 2.2"/>
<g clip-path="url(#cp4)">
<path d="M126.4 652.5 L105.2 641.3 M105.2 641.3 L107.0 628.4" stroke="#8c6e46" stroke-width="0.9" fill="none"/>
<path d="M138.7 652.5 L117.1 642.1 M117.1 642.1 L118.4 629.1" stroke="#8c6e46" stroke-width="0.9" fill="none"/>
<path d="M151.0 652.5 L130.6 639.8 M130.6 639.8 L133.2 627.1" stroke="#8c6e46" stroke-width="0.9" fill="none"/>
<path d="M163.2 652.5 L141.5 642.4 M141.5 642.4 L142.6 629.5" stroke="#8c6e46" stroke-width="0.9" fill="none"/>
<path d="M175.5 652.5 L155.9 638.6 M155.9 638.6 L159.4 626.1 M158.4 640.3 L160.1 634.1" stroke="#8c6e46" stroke-width="0.9" fill="none"/>
<path d="M187.8 652.5 L167.7 639.3 M167.7 639.3 L170.7 626.6 M170.2 640.9 L171.7 634.6" stroke="#8c6e46" stroke-width="0.9" fill="none"/>
<path d="M200.1 652.5 L180.8 638.2 M180.8 638.2 L184.5 625.7 M183.2 640.0 L185.1 633.7" stroke="#8c6e46" stroke-width="0.9" fill="none"/>
<path d="M212.3 652.5 L194.5 636.4 M194.5 636.4 L199.4 624.4 M196.7 638.4 L199.2 632.4" stroke="#8c6e46" stroke-width="0.9" fill="none"/>
<path d="M224.6 652.5 L205.3 638.2 M205.3 638.2 L209.0 625.8 M207.7 640.0 L209.5 633.8" stroke="#8c6e46" stroke-width="0.9" fill="none"/>
<path d="M236.9 652.5 L218.8 636.7 M218.8 636.7 L223.5 624.6 M221.1 638.7 L223.4 632.6" stroke="#8c6e46" stroke-width="0.9" fill="none"/>
<path d="M249.2 652.5 L229.9 638.1 M229.9 638.1 L233.7 625.7 M232.3 639.9 L234.2 633.7" stroke="#8c6e46" stroke-width="0.9" fill="none"/>
<path d="M261.4 652.5 L242.3 638.0 M242.3 638.0 L246.1 625.6 M244.7 639.8 L246.6 633.6" stroke="#8c6e46" stroke-width="0.9" fill="none"/>
<path d="M273.7 652.5 L255.6 636.7 M255.6 636.7 L260.3 624.6 M257.9 638.7 L260.2 632.6" stroke="#8c6e46" stroke-width="0.9" fill="none"/>
<path d="M286.0 652.5 L271.2 633.6 M271.2 633.6 L278.0 622.6" stroke="#8c6e46" stroke-width="0.9" fill="none"/>
<path d="M298.2 652.5 L280.8 636.0 M280.8 636.0 L286.0 624.1" stroke="#8c6e46" stroke-width="0.9" fill="none"/>
<path d="M310.5 652.5 L293.5 635.6 M293.5 635.6 L298.9 623.8" stroke="#8c6e46" stroke-width="0.9" fill="none"/>
<path d="M322.8 652.5 L307.2 634.2 M307.2 634.2 L313.6 622.9" stroke="#8c6e46" stroke-width="0.9" fill="none"/>
<path d="M335.1 652.5 L320.8 633.2 M320.8 633.2 L327.9 622.4" stroke="#8c6e46" stroke-width="0.9" fill="none"/>
<path d="M347.4 652.5 L331.6 634.4 M331.6 634.4 L337.9 623.0" stroke="#8c6e46" stroke-width="0.9" fill="none"/>
<path d="M359.6 652.5 L343.2 635.0 M343.2 635.0 L349.0 623.4" stroke="#8c6e46" stroke-width="0.9" fill="none"/>
<path d="M371.9 652.5 L357.7 633.2 M357.7 633.2 L364.9 622.3" stroke="#8c6e46" stroke-width="0.9" fill="none"/>
<path d="M384.2 652.5 L367.7 635.1 M367.7 635.1 L373.5 623.4" stroke="#8c6e46" stroke-width="0.9" fill="none"/>
<path d="M396.5 652.5 L383.1 632.5 M383.1 632.5 L390.8 622.1" stroke="#8c6e46" stroke-width="0.9" fill="none"/>
<path d="M408.7 652.5 L393.1 634.3 M393.1 634.3 L399.5 622.9" stroke="#8c6e46" stroke-width="0.9" fill="none"/>
<path d="M421.0 652.5 L404.9 634.7 M404.9 634.7 L410.9 623.2" stroke="#8c6e46" stroke-width="0.9" fill="none"/>
<path d="M433.3 652.5 L417.0 634.8 M417.0 634.8 L423.0 623.3" stroke="#8c6e46" stroke-width="0.9" fill="none"/>
<path d="M445.6 652.5 L430.0 634.2 M430.0 634.2 L436.5 622.9" stroke="#8c6e46" stroke-width="0.9" fill="none"/>
<path d="M457.8 652.5 L474.4 635.2" stroke="#8c6e46" stroke-width="0.9" fill="none"/>
<path d="M470.1 652.5 L482.5 632.0" stroke="#8c6e46" stroke-width="0.9" fill="none"/>
<path d="M482.4 652.5 L489.0 629.4" stroke="#8c6e46" stroke-width="0.9" fill="none"/>
<path d="M494.6 652.5 L497.4 628.7" stroke="#8c6e46" stroke-width="0.9" fill="none"/>
<path d="M506.9 652.5 L498.1 630.2" stroke="#8c6e46" stroke-width="0.9" fill="none"/>
<path d="M519.2 652.5 L509.3 630.6" stroke="#8c6e46" stroke-width="0.9" fill="none"/>
<path d="M531.5 652.5 L519.4 631.8" stroke="#8c6e46" stroke-width="0.9" fill="none"/>
<path d="M543.8 652.5 L531.6 631.8" stroke="#8c6e46" stroke-width="0.9" fill="none"/>
<path d="M556.0 652.5 L576.5 665.0" stroke="#8c6e46" stroke-width="0.9" fill="none"/>
<path d="M568.3 652.5 L587.4 667.0" stroke="#8c6e46" stroke-width="0.9" fill="none"/>
<path d="M580.6 652.5 L600.4 666.0" stroke="#8c6e46" stroke-width="0.9" fill="none"/>
<path d="M592.9 652.5 L605.6 672.8" stroke="#8c6e46" stroke-width="0.9" fill="none"/>
<path d="M605.1 652.5 L616.8 673.5" stroke="#8c6e46" stroke-width="0.9" fill="none"/>
<path d="M617.4 652.5 L629.6 673.2" stroke="#8c6e46" stroke-width="0.9" fill="none"/>
<path d="M629.7 652.5 L642.5 672.8" stroke="#8c6e46" stroke-width="0.9" fill="none"/>
<path d="M642.0 652.5 L652.6 674.0" stroke="#8c6e46" stroke-width="0.9" fill="none"/>
<path d="M654.2 652.5 L665.3 673.8" stroke="#8c6e46" stroke-width="0.9" fill="none"/>
<path d="M666.5 652.5 L682.9 670.0 M680.8 667.8 L677.9 673.6" stroke="#8c6e46" stroke-width="0.9" fill="none"/>
<path d="M678.8 652.5 L693.9 671.1 M692.0 668.8 L688.7 674.4" stroke="#8c6e46" stroke-width="0.9" fill="none"/>
<path d="M691.0 652.5 L706.4 671.0 M704.5 668.7 L701.2 674.3" stroke="#8c6e46" stroke-width="0.9" fill="none"/>
<path d="M703.3 652.5 L717.3 672.0 M715.5 669.6 L711.8 675.0" stroke="#8c6e46" stroke-width="0.9" fill="none"/>
<path d="M715.6 652.5 L726.6 673.8" stroke="#8c6e46" stroke-width="0.9" fill="none"/>
<path d="M727.9 652.5 L740.8 672.7" stroke="#8c6e46" stroke-width="0.9" fill="none"/>
<path d="M740.1 652.5 L750.0 674.4" stroke="#8c6e46" stroke-width="0.9" fill="none"/>
<path d="M752.4 652.5 L766.0 672.3" stroke="#8c6e46" stroke-width="0.9" fill="none"/>
<path d="M764.7 652.5 L777.1 673.1" stroke="#8c6e46" stroke-width="0.9" fill="none"/>
<path d="M777.0 652.5 L787.8 673.9" stroke="#8c6e46" stroke-width="0.9" fill="none"/>
<path d="M789.2 652.5 L802.7 672.4" stroke="#8c6e46" stroke-width="0.9" fill="none"/>
<path d="M801.5 652.5 L795.3 629.3" stroke="#8c6e46" stroke-width="0.9" fill="none"/>
<path d="M813.8 652.5 L789.9 654.8 M792.9 654.5 L790.1 648.7" stroke="#8c6e46" stroke-width="0.9" fill="none"/>
<path d="M826.1 652.5 L825.2 676.5" stroke="#8c6e46" stroke-width="0.9" fill="none"/>
<path d="M838.4 652.5 L814.9 657.4" stroke="#8c6e46" stroke-width="0.9" fill="none"/>
<path d="M850.6 652.5 L862.9 631.9 M861.4 634.5 L867.8 635.7" stroke="#8c6e46" stroke-width="0.9" fill="none"/>
<path d="M862.9 652.5 L881.2 636.9" stroke="#8c6e46" stroke-width="0.9" fill="none"/>
<path d="M875.2 652.5 L852.3 659.6" stroke="#8c6e46" stroke-width="0.9" fill="none"/>
<path d="M887.5 652.5 L892.6 629.1" stroke="#8c6e46" stroke-width="0.9" fill="none"/>
<path d="M899.7 652.5 L892.0 629.8" stroke="#8c6e46" stroke-width="0.9" fill="none"/>
<path d="M912.0 652.5 L888.0 652.1 M891.0 652.1 L888.9 646.0" stroke="#8c6e46" stroke-width="0.9" fill="none"/>
<path d="M924.3 652.5 L916.3 675.1" stroke="#8c6e46" stroke-width="0.9" fill="none"/>
<path d="M936.5 652.5 L913.0 657.0" stroke="#8c6e46" stroke-width="0.9" fill="none"/>
<path d="M948.8 652.5 L938.6 674.2" stroke="#8c6e46" stroke-width="0.9" fill="none"/>
<path d="M961.1 652.5 L963.3 676.4" stroke="#8c6e46" stroke-width="0.9" fill="none"/>
<path d="M973.4 652.5 L984.7 673.7" stroke="#8c6e46" stroke-width="0.9" fill="none"/>
<path d="M985.6 652.5 L995.7 630.7" stroke="#8c6e46" stroke-width="0.9" fill="none"/>
<path d="M997.9 652.5 L988.8 674.7" stroke="#8c6e46" stroke-width="0.9" fill="none"/>
<path d="M1010.2 652.5 L1019.1 630.2" stroke="#8c6e46" stroke-width="0.9" fill="none"/>
<path d="M1022.5 652.5 L1013.9 674.9" stroke="#8c6e46" stroke-width="0.9" fill="none"/>
<path d="M1034.8 652.5 L1035.2 676.5" stroke="#8c6e46" stroke-width="0.9" fill="none"/>
<path d="M1047.0 652.5 L1060.0 672.7" stroke="#8c6e46" stroke-width="0.9" fill="none"/>
<path d="M1059.3 652.5 L1071.8 673.0" stroke="#8c6e46" stroke-width="0.9" fill="none"/>
<path d="M1071.6 652.5 L1087.9 670.1" stroke="#8c6e46" stroke-width="0.9" fill="none"/>
<path d="M1083.9 652.5 L1102.4 667.7" stroke="#8c6e46" stroke-width="0.9" fill="none"/>
</g>
<g clip-path="url(#cp4)">
<polyline points="126.4,645.8 138.7,645.8 151.0,664.5 163.2,666.2 175.5,662.5 187.8,626.2 200.1,633.8 212.3,634.5 224.6,617.0 236.9,625.8 249.2,638.8 261.4,652.5 273.7,648.8 286.0,661.8 298.2,675.0 310.5,675.0 322.8,666.2 335.1,666.2 347.4,677.5 359.6,681.2 371.9,681.8 384.2,681.2 396.5,680.0 408.7,677.5 421.0,672.5 433.3,672.5 445.6,682.5 457.8,686.2 470.1,688.0 482.4,684.2 494.6,686.2 506.9,685.8 519.2,682.5 531.5,683.2 543.8,688.8 556.0,684.5 568.3,679.2 580.6,681.2 592.9,681.2 605.1,680.5 617.4,676.2 629.7,668.0 642.0,669.5 654.2,673.8 666.5,675.0 678.8,680.5 691.0,680.5 703.3,674.2 715.6,662.0 727.9,662.5 740.1,670.8 752.4,680.5 764.7,686.8 777.0,680.5 789.2,687.5 801.5,683.2 813.8,669.5 826.1,671.2 838.4,677.0 850.6,680.0 862.9,685.8 875.2,686.2 887.5,687.0 899.7,687.5 912.0,687.5 924.3,688.2 936.5,684.2 948.8,685.5 961.1,684.2 973.4,684.5 985.6,687.0 997.9,690.0 1010.2,687.5 1022.5,687.5 1034.8,679.2 1047.0,676.8 1059.3,677.0 1071.6,681.2 1083.9,680.5 1092.0,681.0" fill="none" stroke="#ff9614" stroke-width="1.1" stroke-linejoin="round" stroke-linecap="round" />
<polygon points="126.4,642.8 128.8,645.8 126.4,648.8 124.0,645.8" fill="none" stroke="#ff9614" stroke-width="0.9"/>
<line x1="126.4" y1="642.8" x2="126.4" y2="648.8" stroke="#ff9614" stroke-width="0.7" />
<polygon points="138.7,642.8 141.1,645.8 138.7,648.8 136.3,645.8" fill="none" stroke="#ff9614" stroke-width="0.9"/>
<line x1="138.7" y1="642.8" x2="138.7" y2="648.8" stroke="#ff9614" stroke-width="0.7" />
<polygon points="151.0,661.5 153.4,664.5 151.0,667.5 148.6,664.5" fill="none" stroke="#ff9614" stroke-width="0.9"/>
<line x1="151.0" y1="661.5" x2="151.0" y2="667.5" stroke="#ff9614" stroke-width="0.7" />
<polygon points="163.2,663.2 165.6,666.2 163.2,669.2 160.8,666.2" fill="none" stroke="#ff9614" stroke-width="0.9"/>
<line x1="163.2" y1="663.2" x2="163.2" y2="669.2" stroke="#ff9614" stroke-width="0.7" />
<polygon points="175.5,659.5 177.9,662.5 175.5,665.5 173.1,662.5" fill="none" stroke="#ff9614" stroke-width="0.9"/>
<line x1="175.5" y1="659.5" x2="175.5" y2="665.5" stroke="#ff9614" stroke-width="0.7" />
<polygon points="187.8,623.2 190.2,626.2 187.8,629.2 185.4,626.2" fill="none" stroke="#ff9614" stroke-width="0.9"/>
<line x1="187.8" y1="623.2" x2="187.8" y2="629.2" stroke="#ff9614" stroke-width="0.7" />
<polygon points="200.1,630.8 202.5,633.8 200.1,636.8 197.7,633.8" fill="none" stroke="#ff9614" stroke-width="0.9"/>
<line x1="200.1" y1="630.8" x2="200.1" y2="636.8" stroke="#ff9614" stroke-width="0.7" />
<polygon points="212.3,631.5 214.7,634.5 212.3,637.5 209.9,634.5" fill="none" stroke="#ff9614" stroke-width="0.9"/>
<line x1="212.3" y1="631.5" x2="212.3" y2="637.5" stroke="#ff9614" stroke-width="0.7" />
<polygon points="224.6,614.0 227.0,617.0 224.6,620.0 222.2,617.0" fill="none" stroke="#ff9614" stroke-width="0.9"/>
<line x1="224.6" y1="614.0" x2="224.6" y2="620.0" stroke="#ff9614" stroke-width="0.7" />
<polygon points="236.9,622.8 239.3,625.8 236.9,628.8 234.5,625.8" fill="none" stroke="#ff9614" stroke-width="0.9"/>
<line x1="236.9" y1="622.8" x2="236.9" y2="628.8" stroke="#ff9614" stroke-width="0.7" />
<polygon points="249.2,635.8 251.6,638.8 249.2,641.8 246.8,638.8" fill="none" stroke="#ff9614" stroke-width="0.9"/>
<line x1="249.2" y1="635.8" x2="249.2" y2="641.8" stroke="#ff9614" stroke-width="0.7" />
<polygon points="261.4,649.5 263.8,652.5 261.4,655.5 259.0,652.5" fill="none" stroke="#ff9614" stroke-width="0.9"/>
<line x1="261.4" y1="649.5" x2="261.4" y2="655.5" stroke="#ff9614" stroke-width="0.7" />
<polygon points="273.7,645.8 276.1,648.8 273.7,651.8 271.3,648.8" fill="none" stroke="#ff9614" stroke-width="0.9"/>
<line x1="273.7" y1="645.8" x2="273.7" y2="651.8" stroke="#ff9614" stroke-width="0.7" />
<polygon points="286.0,658.8 288.4,661.8 286.0,664.8 283.6,661.8" fill="none" stroke="#ff9614" stroke-width="0.9"/>
<line x1="286.0" y1="658.8" x2="286.0" y2="664.8" stroke="#ff9614" stroke-width="0.7" />
<polygon points="298.2,672.0 300.6,675.0 298.2,678.0 295.9,675.0" fill="none" stroke="#ff9614" stroke-width="0.9"/>
<line x1="298.2" y1="672.0" x2="298.2" y2="678.0" stroke="#ff9614" stroke-width="0.7" />
<polygon points="310.5,672.0 312.9,675.0 310.5,678.0 308.1,675.0" fill="none" stroke="#ff9614" stroke-width="0.9"/>
<line x1="310.5" y1="672.0" x2="310.5" y2="678.0" stroke="#ff9614" stroke-width="0.7" />
<polygon points="322.8,663.2 325.2,666.2 322.8,669.2 320.4,666.2" fill="none" stroke="#ff9614" stroke-width="0.9"/>
<line x1="322.8" y1="663.2" x2="322.8" y2="669.2" stroke="#ff9614" stroke-width="0.7" />
<polygon points="335.1,663.2 337.5,666.2 335.1,669.2 332.7,666.2" fill="none" stroke="#ff9614" stroke-width="0.9"/>
<line x1="335.1" y1="663.2" x2="335.1" y2="669.2" stroke="#ff9614" stroke-width="0.7" />
<polygon points="347.4,674.5 349.8,677.5 347.4,680.5 345.0,677.5" fill="none" stroke="#ff9614" stroke-width="0.9"/>
<line x1="347.4" y1="674.5" x2="347.4" y2="680.5" stroke="#ff9614" stroke-width="0.7" />
<polygon points="359.6,678.2 362.0,681.2 359.6,684.2 357.2,681.2" fill="none" stroke="#ff9614" stroke-width="0.9"/>
<line x1="359.6" y1="678.2" x2="359.6" y2="684.2" stroke="#ff9614" stroke-width="0.7" />
<polygon points="371.9,678.8 374.3,681.8 371.9,684.8 369.5,681.8" fill="none" stroke="#ff9614" stroke-width="0.9"/>
<line x1="371.9" y1="678.8" x2="371.9" y2="684.8" stroke="#ff9614" stroke-width="0.7" />
<polygon points="384.2,678.2 386.6,681.2 384.2,684.2 381.8,681.2" fill="none" stroke="#ff9614" stroke-width="0.9"/>
<line x1="384.2" y1="678.2" x2="384.2" y2="684.2" stroke="#ff9614" stroke-width="0.7" />
<polygon points="396.5,677.0 398.9,680.0 396.5,683.0 394.1,680.0" fill="none" stroke="#ff9614" stroke-width="0.9"/>
<line x1="396.5" y1="677.0" x2="396.5" y2="683.0" stroke="#ff9614" stroke-width="0.7" />
<polygon points="408.7,674.5 411.1,677.5 408.7,680.5 406.3,677.5" fill="none" stroke="#ff9614" stroke-width="0.9"/>
<line x1="408.7" y1="674.5" x2="408.7" y2="680.5" stroke="#ff9614" stroke-width="0.7" />
<polygon points="421.0,669.5 423.4,672.5 421.0,675.5 418.6,672.5" fill="none" stroke="#ff9614" stroke-width="0.9"/>
<line x1="421.0" y1="669.5" x2="421.0" y2="675.5" stroke="#ff9614" stroke-width="0.7" />
<polygon points="433.3,669.5 435.7,672.5 433.3,675.5 430.9,672.5" fill="none" stroke="#ff9614" stroke-width="0.9"/>
<line x1="433.3" y1="669.5" x2="433.3" y2="675.5" stroke="#ff9614" stroke-width="0.7" />
<polygon points="445.6,679.5 448.0,682.5 445.6,685.5 443.2,682.5" fill="none" stroke="#ff9614" stroke-width="0.9"/>
<line x1="445.6" y1="679.5" x2="445.6" y2="685.5" stroke="#ff9614" stroke-width="0.7" />
<polygon points="457.8,683.2 460.2,686.2 457.8,689.2 455.4,686.2" fill="none" stroke="#ff9614" stroke-width="0.9"/>
<line x1="457.8" y1="683.2" x2="457.8" y2="689.2" stroke="#ff9614" stroke-width="0.7" />
<polygon points="470.1,685.0 472.5,688.0 470.1,691.0 467.7,688.0" fill="none" stroke="#ff9614" stroke-width="0.9"/>
<line x1="470.1" y1="685.0" x2="470.1" y2="691.0" stroke="#ff9614" stroke-width="0.7" />
<polygon points="482.4,681.2 484.8,684.2 482.4,687.2 480.0,684.2" fill="none" stroke="#ff9614" stroke-width="0.9"/>
<line x1="482.4" y1="681.2" x2="482.4" y2="687.2" stroke="#ff9614" stroke-width="0.7" />
<polygon points="494.6,683.2 497.0,686.2 494.6,689.2 492.2,686.2" fill="none" stroke="#ff9614" stroke-width="0.9"/>
<line x1="494.6" y1="683.2" x2="494.6" y2="689.2" stroke="#ff9614" stroke-width="0.7" />
<polygon points="506.9,682.8 509.3,685.8 506.9,688.8 504.5,685.8" fill="none" stroke="#ff9614" stroke-width="0.9"/>
<line x1="506.9" y1="682.8" x2="506.9" y2="688.8" stroke="#ff9614" stroke-width="0.7" />
<polygon points="519.2,679.5 521.6,682.5 519.2,685.5 516.8,682.5" fill="none" stroke="#ff9614" stroke-width="0.9"/>
<line x1="519.2" y1="679.5" x2="519.2" y2="685.5" stroke="#ff9614" stroke-width="0.7" />
<polygon points="531.5,680.2 533.9,683.2 531.5,686.2 529.1,683.2" fill="none" stroke="#ff9614" stroke-width="0.9"/>
<line x1="531.5" y1="680.2" x2="531.5" y2="686.2" stroke="#ff9614" stroke-width="0.7" />
<polygon points="543.8,685.8 546.1,688.8 543.8,691.8 541.4,688.8" fill="none" stroke="#ff9614" stroke-width="0.9"/>
<line x1="543.8" y1="685.8" x2="543.8" y2="691.8" stroke="#ff9614" stroke-width="0.7" />
<polygon points="556.0,681.5 558.4,684.5 556.0,687.5 553.6,684.5" fill="none" stroke="#ff9614" stroke-width="0.9"/>
<line x1="556.0" y1="681.5" x2="556.0" y2="687.5" stroke="#ff9614" stroke-width="0.7" />
<polygon points="568.3,676.2 570.7,679.2 568.3,682.2 565.9,679.2" fill="none" stroke="#ff9614" stroke-width="0.9"/>
<line x1="568.3" y1="676.2" x2="568.3" y2="682.2" stroke="#ff9614" stroke-width="0.7" />
<polygon points="580.6,678.2 583.0,681.2 580.6,684.2 578.2,681.2" fill="none" stroke="#ff9614" stroke-width="0.9"/>
<line x1="580.6" y1="678.2" x2="580.6" y2="684.2" stroke="#ff9614" stroke-width="0.7" />
<polygon points="592.9,678.2 595.2,681.2 592.9,684.2 590.5,681.2" fill="none" stroke="#ff9614" stroke-width="0.9"/>
<line x1="592.9" y1="678.2" x2="592.9" y2="684.2" stroke="#ff9614" stroke-width="0.7" />
<polygon points="605.1,677.5 607.5,680.5 605.1,683.5 602.7,680.5" fill="none" stroke="#ff9614" stroke-width="0.9"/>
<line x1="605.1" y1="677.5" x2="605.1" y2="683.5" stroke="#ff9614" stroke-width="0.7" />
<polygon points="617.4,673.2 619.8,676.2 617.4,679.2 615.0,676.2" fill="none" stroke="#ff9614" stroke-width="0.9"/>
<line x1="617.4" y1="673.2" x2="617.4" y2="679.2" stroke="#ff9614" stroke-width="0.7" />
<polygon points="629.7,665.0 632.1,668.0 629.7,671.0 627.3,668.0" fill="none" stroke="#ff9614" stroke-width="0.9"/>
<line x1="629.7" y1="665.0" x2="629.7" y2="671.0" stroke="#ff9614" stroke-width="0.7" />
<polygon points="642.0,666.5 644.4,669.5 642.0,672.5 639.6,669.5" fill="none" stroke="#ff9614" stroke-width="0.9"/>
<line x1="642.0" y1="666.5" x2="642.0" y2="672.5" stroke="#ff9614" stroke-width="0.7" />
<polygon points="654.2,670.8 656.6,673.8 654.2,676.8 651.8,673.8" fill="none" stroke="#ff9614" stroke-width="0.9"/>
<line x1="654.2" y1="670.8" x2="654.2" y2="676.8" stroke="#ff9614" stroke-width="0.7" />
<polygon points="666.5,672.0 668.9,675.0 666.5,678.0 664.1,675.0" fill="none" stroke="#ff9614" stroke-width="0.9"/>
<line x1="666.5" y1="672.0" x2="666.5" y2="678.0" stroke="#ff9614" stroke-width="0.7" />
<polygon points="678.8,677.5 681.2,680.5 678.8,683.5 676.4,680.5" fill="none" stroke="#ff9614" stroke-width="0.9"/>
<line x1="678.8" y1="677.5" x2="678.8" y2="683.5" stroke="#ff9614" stroke-width="0.7" />
<polygon points="691.0,677.5 693.4,680.5 691.0,683.5 688.6,680.5" fill="none" stroke="#ff9614" stroke-width="0.9"/>
<line x1="691.0" y1="677.5" x2="691.0" y2="683.5" stroke="#ff9614" stroke-width="0.7" />
<polygon points="703.3,671.2 705.7,674.2 703.3,677.2 700.9,674.2" fill="none" stroke="#ff9614" stroke-width="0.9"/>
<line x1="703.3" y1="671.2" x2="703.3" y2="677.2" stroke="#ff9614" stroke-width="0.7" />
<polygon points="715.6,659.0 718.0,662.0 715.6,665.0 713.2,662.0" fill="none" stroke="#ff9614" stroke-width="0.9"/>
<line x1="715.6" y1="659.0" x2="715.6" y2="665.0" stroke="#ff9614" stroke-width="0.7" />
<polygon points="727.9,659.5 730.3,662.5 727.9,665.5 725.5,662.5" fill="none" stroke="#ff9614" stroke-width="0.9"/>
<line x1="727.9" y1="659.5" x2="727.9" y2="665.5" stroke="#ff9614" stroke-width="0.7" />
<polygon points="740.1,667.8 742.5,670.8 740.1,673.8 737.8,670.8" fill="none" stroke="#ff9614" stroke-width="0.9"/>
<line x1="740.1" y1="667.8" x2="740.1" y2="673.8" stroke="#ff9614" stroke-width="0.7" />
<polygon points="752.4,677.5 754.8,680.5 752.4,683.5 750.0,680.5" fill="none" stroke="#ff9614" stroke-width="0.9"/>
<line x1="752.4" y1="677.5" x2="752.4" y2="683.5" stroke="#ff9614" stroke-width="0.7" />
<polygon points="764.7,683.8 767.1,686.8 764.7,689.8 762.3,686.8" fill="none" stroke="#ff9614" stroke-width="0.9"/>
<line x1="764.7" y1="683.8" x2="764.7" y2="689.8" stroke="#ff9614" stroke-width="0.7" />
<polygon points="777.0,677.5 779.4,680.5 777.0,683.5 774.6,680.5" fill="none" stroke="#ff9614" stroke-width="0.9"/>
<line x1="777.0" y1="677.5" x2="777.0" y2="683.5" stroke="#ff9614" stroke-width="0.7" />
<polygon points="789.2,684.5 791.6,687.5 789.2,690.5 786.9,687.5" fill="none" stroke="#ff9614" stroke-width="0.9"/>
<line x1="789.2" y1="684.5" x2="789.2" y2="690.5" stroke="#ff9614" stroke-width="0.7" />
<polygon points="801.5,680.2 803.9,683.2 801.5,686.2 799.1,683.2" fill="none" stroke="#ff9614" stroke-width="0.9"/>
<line x1="801.5" y1="680.2" x2="801.5" y2="686.2" stroke="#ff9614" stroke-width="0.7" />
<polygon points="813.8,666.5 816.2,669.5 813.8,672.5 811.4,669.5" fill="none" stroke="#ff9614" stroke-width="0.9"/>
<line x1="813.8" y1="666.5" x2="813.8" y2="672.5" stroke="#ff9614" stroke-width="0.7" />
<polygon points="826.1,668.2 828.5,671.2 826.1,674.2 823.7,671.2" fill="none" stroke="#ff9614" stroke-width="0.9"/>
<line x1="826.1" y1="668.2" x2="826.1" y2="674.2" stroke="#ff9614" stroke-width="0.7" />
<polygon points="838.4,674.0 840.8,677.0 838.4,680.0 836.0,677.0" fill="none" stroke="#ff9614" stroke-width="0.9"/>
<line x1="838.4" y1="674.0" x2="838.4" y2="680.0" stroke="#ff9614" stroke-width="0.7" />
<polygon points="850.6,677.0 853.0,680.0 850.6,683.0 848.2,680.0" fill="none" stroke="#ff9614" stroke-width="0.9"/>
<line x1="850.6" y1="677.0" x2="850.6" y2="683.0" stroke="#ff9614" stroke-width="0.7" />
<polygon points="862.9,682.8 865.3,685.8 862.9,688.8 860.5,685.8" fill="none" stroke="#ff9614" stroke-width="0.9"/>
<line x1="862.9" y1="682.8" x2="862.9" y2="688.8" stroke="#ff9614" stroke-width="0.7" />
<polygon points="875.2,683.2 877.6,686.2 875.2,689.2 872.8,686.2" fill="none" stroke="#ff9614" stroke-width="0.9"/>
<line x1="875.2" y1="683.2" x2="875.2" y2="689.2" stroke="#ff9614" stroke-width="0.7" />
<polygon points="887.5,684.0 889.9,687.0 887.5,690.0 885.1,687.0" fill="none" stroke="#ff9614" stroke-width="0.9"/>
<line x1="887.5" y1="684.0" x2="887.5" y2="690.0" stroke="#ff9614" stroke-width="0.7" />
<polygon points="899.7,684.5 902.1,687.5 899.7,690.5 897.3,687.5" fill="none" stroke="#ff9614" stroke-width="0.9"/>
<line x1="899.7" y1="684.5" x2="899.7" y2="690.5" stroke="#ff9614" stroke-width="0.7" />
<polygon points="912.0,684.5 914.4,687.5 912.0,690.5 909.6,687.5" fill="none" stroke="#ff9614" stroke-width="0.9"/>
<line x1="912.0" y1="684.5" x2="912.0" y2="690.5" stroke="#ff9614" stroke-width="0.7" />
<polygon points="924.3,685.2 926.7,688.2 924.3,691.2 921.9,688.2" fill="none" stroke="#ff9614" stroke-width="0.9"/>
<line x1="924.3" y1="685.2" x2="924.3" y2="691.2" stroke="#ff9614" stroke-width="0.7" />
<polygon points="936.5,681.2 938.9,684.2 936.5,687.2 934.1,684.2" fill="none" stroke="#ff9614" stroke-width="0.9"/>
<line x1="936.5" y1="681.2" x2="936.5" y2="687.2" stroke="#ff9614" stroke-width="0.7" />
<polygon points="948.8,682.5 951.2,685.5 948.8,688.5 946.4,685.5" fill="none" stroke="#ff9614" stroke-width="0.9"/>
<line x1="948.8" y1="682.5" x2="948.8" y2="688.5" stroke="#ff9614" stroke-width="0.7" />
<polygon points="961.1,681.2 963.5,684.2 961.1,687.2 958.7,684.2" fill="none" stroke="#ff9614" stroke-width="0.9"/>
<line x1="961.1" y1="681.2" x2="961.1" y2="687.2" stroke="#ff9614" stroke-width="0.7" />
<polygon points="973.4,681.5 975.8,684.5 973.4,687.5 971.0,684.5" fill="none" stroke="#ff9614" stroke-width="0.9"/>
<line x1="973.4" y1="681.5" x2="973.4" y2="687.5" stroke="#ff9614" stroke-width="0.7" />
<polygon points="985.6,684.0 988.0,687.0 985.6,690.0 983.2,687.0" fill="none" stroke="#ff9614" stroke-width="0.9"/>
<line x1="985.6" y1="684.0" x2="985.6" y2="690.0" stroke="#ff9614" stroke-width="0.7" />
<polygon points="997.9,687.0 1000.3,690.0 997.9,693.0 995.5,690.0" fill="none" stroke="#ff9614" stroke-width="0.9"/>
<line x1="997.9" y1="687.0" x2="997.9" y2="693.0" stroke="#ff9614" stroke-width="0.7" />
<polygon points="1010.2,684.5 1012.6,687.5 1010.2,690.5 1007.8,687.5" fill="none" stroke="#ff9614" stroke-width="0.9"/>
<line x1="1010.2" y1="684.5" x2="1010.2" y2="690.5" stroke="#ff9614" stroke-width="0.7" />
<polygon points="1022.5,684.5 1024.9,687.5 1022.5,690.5 1020.1,687.5" fill="none" stroke="#ff9614" stroke-width="0.9"/>
<line x1="1022.5" y1="684.5" x2="1022.5" y2="690.5" stroke="#ff9614" stroke-width="0.7" />
<polygon points="1034.8,676.2 1037.2,679.2 1034.8,682.2 1032.3,679.2" fill="none" stroke="#ff9614" stroke-width="0.9"/>
<line x1="1034.8" y1="676.2" x2="1034.8" y2="682.2" stroke="#ff9614" stroke-width="0.7" />
<polygon points="1047.0,673.8 1049.4,676.8 1047.0,679.8 1044.6,676.8" fill="none" stroke="#ff9614" stroke-width="0.9"/>
<line x1="1047.0" y1="673.8" x2="1047.0" y2="679.8" stroke="#ff9614" stroke-width="0.7" />
<polygon points="1059.3,674.0 1061.7,677.0 1059.3,680.0 1056.9,677.0" fill="none" stroke="#ff9614" stroke-width="0.9"/>
<line x1="1059.3" y1="674.0" x2="1059.3" y2="680.0" stroke="#ff9614" stroke-width="0.7" />
<polygon points="1071.6,678.2 1074.0,681.2 1071.6,684.2 1069.2,681.2" fill="none" stroke="#ff9614" stroke-width="0.9"/>
<line x1="1071.6" y1="678.2" x2="1071.6" y2="684.2" stroke="#ff9614" stroke-width="0.7" />
<polygon points="1083.9,677.5 1086.3,680.5 1083.9,683.5 1081.5,680.5" fill="none" stroke="#ff9614" stroke-width="0.9"/>
<line x1="1083.9" y1="677.5" x2="1083.9" y2="683.5" stroke="#ff9614" stroke-width="0.7" />
</g>
<clipPath id="ctemp"><polygon points="126.4,781.0 126.4,723.0 138.7,720.0 151.0,728.8 163.2,733.8 175.5,730.5 187.8,728.8 200.1,730.0 212.3,723.0 224.6,713.8 236.9,717.5 249.2,728.0 261.4,732.0 273.7,736.2 286.0,740.0 298.2,742.0 310.5,730.0 322.8,718.0 335.1,713.0 347.4,722.0 359.6,725.5 371.9,730.5 384.2,733.8 396.5,735.8 408.7,725.0 421.0,709.5 433.3,705.0 445.6,717.0 457.8,722.5 470.1,726.2 482.4,729.2 494.6,731.8 506.9,715.5 519.2,705.0 531.5,701.8 543.8,713.8 556.0,717.5 568.3,719.2 580.6,721.8 592.9,724.2 605.1,713.8 617.4,702.5 629.7,702.5 642.0,713.8 654.2,716.2 666.5,719.2 678.8,720.5 691.0,723.0 703.3,715.5 715.6,708.2 727.9,710.0 740.1,718.0 752.4,721.8 764.7,723.2 777.0,723.8 789.2,725.0 801.5,715.0 813.8,705.0 826.1,712.5 838.4,720.0 850.6,719.5 862.9,719.5 875.2,721.8 887.5,724.2 899.7,713.8 912.0,706.2 924.3,703.2 936.5,713.0 948.8,717.5 961.1,721.8 973.4,727.0 985.6,730.0 997.9,716.2 1010.2,708.0 1022.5,705.0 1034.8,713.8 1047.0,718.8 1059.3,722.5 1071.6,725.8 1083.9,728.8 1083.9,781.0"/></clipPath>
<g clip-path="url(#ctemp)">
<rect x="126.4" y="690.0" width="957.5" height="20.0" fill="#50f050" />
<rect x="126.4" y="710.0" width="957.5" height="15.2" fill="#28b428" />
<rect x="126.4" y="725.2" width="957.5" height="15.4" fill="#2882f0" />
<rect x="126.4" y="740.6" width="957.5" height="15.4" fill="#50a0f5" />
<rect x="126.4" y="756.0" width="957.5" height="15.5" fill="#96d2fa" />
<rect x="126.4" y="771.5" width="957.5" height="9.5" fill="#d2a0fa" />
</g>
<line x1="120.5" y1="710.0" x2="1090.5" y2="710.0" stroke="#a8a8a8" stroke-width="1" stroke-dasharray="4 2.2"/>
<line x1="120.5" y1="725.2" x2="1090.5" y2="725.2" stroke="#a8a8a8" stroke-width="1" stroke-dasharray="4 2.2"/>
<line x1="120.5" y1="740.6" x2="1090.5" y2="740.6" stroke="#a8a8a8" stroke-width="1" stroke-dasharray="4 2.2"/>
<line x1="120.5" y1="756.0" x2="1090.5" y2="756.0" stroke="#a8a8a8" stroke-width="1" stroke-dasharray="4 2.2"/>
<line x1="175.5" y1="695.5" x2="175.5" y2="780.5" stroke="#a8a8a8" stroke-width="1" stroke-dasharray="4 2.2"/>
<line x1="273.7" y1="695.5" x2="273.7" y2="780.5" stroke="#a8a8a8" stroke-width="1" stroke-dasharray="4 2.2"/>
<line x1="371.9" y1="695.5" x2="371.9" y2="780.5" stroke="#a8a8a8" stroke-width="1" stroke-dasharray="4 2.2"/>
<line x1="470.1" y1="695.5" x2="470.1" y2="780.5" stroke="#a8a8a8" stroke-width="1" stroke-dasharray="4 2.2"/>
<line x1="568.3" y1="695.5" x2="568.3" y2="780.5" stroke="#a8a8a8" stroke-width="1" stroke-dasharray="4 2.2"/>
<line x1="666.5" y1="695.5" x2="666.5" y2="780.5" stroke="#a8a8a8" stroke-width="1" stroke-dasharray="4 2.2"/>
<line x1="764.7" y1="695.5" x2="764.7" y2="780.5" stroke="#a8a8a8" stroke-width="1" stroke-dasharray="4 2.2"/>
<line x1="862.9" y1="695.5" x2="862.9" y2="780.5" stroke="#a8a8a8" stroke-width="1" stroke-dasharray="4 2.2"/>
<line x1="961.1" y1="695.5" x2="961.1" y2="780.5" stroke="#a8a8a8" stroke-width="1" stroke-dasharray="4 2.2"/>
<line x1="1059.3" y1="695.5" x2="1059.3" y2="780.5" stroke="#a8a8a8" stroke-width="1" stroke-dasharray="4 2.2"/>
<line x1="120.5" y1="771.5" x2="1090.5" y2="771.5" stroke="#000" stroke-width="1.1" stroke-dasharray="14 3 3 3"/>
<line x1="151.0" y1="719.5" x2="151.0" y2="728.8" stroke="#8c4b3c" stroke-width="1" />
<line x1="148.5" y1="719.5" x2="153.5" y2="719.5" stroke="#8c4b3c" stroke-width="1" />
<line x1="175.5" y1="728.8" x2="175.5" y2="736.2" stroke="#8c4b3c" stroke-width="1" />
<line x1="173.0" y1="728.8" x2="178.0" y2="728.8" stroke="#8c4b3c" stroke-width="1" />
<line x1="200.1" y1="729.5" x2="200.1" y2="731.2" stroke="#8c4b3c" stroke-width="1" />
<line x1="197.6" y1="729.5" x2="202.6" y2="729.5" stroke="#8c4b3c" stroke-width="1" />
<line x1="224.6" y1="713.8" x2="224.6" y2="731.2" stroke="#8c4b3c" stroke-width="1" />
<line x1="222.1" y1="713.8" x2="227.1" y2="713.8" stroke="#8c4b3c" stroke-width="1" />
<line x1="222.1" y1="731.2" x2="227.1" y2="731.2" stroke="#8c4b3c" stroke-width="1" />
<line x1="249.2" y1="713.8" x2="249.2" y2="728.0" stroke="#8c4b3c" stroke-width="1" />
<line x1="246.7" y1="713.8" x2="251.7" y2="713.8" stroke="#8c4b3c" stroke-width="1" />
<line x1="246.7" y1="728.0" x2="251.7" y2="728.0" stroke="#8c4b3c" stroke-width="1" />
<line x1="273.7" y1="728.2" x2="273.7" y2="736.2" stroke="#8c4b3c" stroke-width="1" />
<line x1="271.2" y1="728.2" x2="276.2" y2="728.2" stroke="#8c4b3c" stroke-width="1" />
<line x1="298.2" y1="736.2" x2="298.2" y2="742.0" stroke="#8c4b3c" stroke-width="1" />
<line x1="295.8" y1="736.2" x2="300.8" y2="736.2" stroke="#8c4b3c" stroke-width="1" />
<line x1="322.8" y1="718.0" x2="322.8" y2="743.2" stroke="#8c4b3c" stroke-width="1" />
<line x1="320.3" y1="718.0" x2="325.3" y2="718.0" stroke="#8c4b3c" stroke-width="1" />
<line x1="320.3" y1="743.2" x2="325.3" y2="743.2" stroke="#8c4b3c" stroke-width="1" />
<line x1="347.4" y1="713.8" x2="347.4" y2="722.0" stroke="#8c4b3c" stroke-width="1" />
<line x1="344.9" y1="713.8" x2="349.9" y2="713.8" stroke="#8c4b3c" stroke-width="1" />
<line x1="371.9" y1="722.5" x2="371.9" y2="730.5" stroke="#8c4b3c" stroke-width="1" />
<line x1="369.4" y1="722.5" x2="374.4" y2="722.5" stroke="#8c4b3c" stroke-width="1" />
<line x1="396.5" y1="731.2" x2="396.5" y2="735.8" stroke="#8c4b3c" stroke-width="1" />
<line x1="394.0" y1="731.2" x2="399.0" y2="731.2" stroke="#8c4b3c" stroke-width="1" />
<line x1="421.0" y1="709.5" x2="421.0" y2="737.0" stroke="#8c4b3c" stroke-width="1" />
<line x1="418.5" y1="709.5" x2="423.5" y2="709.5" stroke="#8c4b3c" stroke-width="1" />
<line x1="418.5" y1="737.0" x2="423.5" y2="737.0" stroke="#8c4b3c" stroke-width="1" />
<line x1="445.6" y1="705.8" x2="445.6" y2="717.0" stroke="#8c4b3c" stroke-width="1" />
<line x1="443.1" y1="705.8" x2="448.1" y2="705.8" stroke="#8c4b3c" stroke-width="1" />
<line x1="470.1" y1="717.5" x2="470.1" y2="726.2" stroke="#8c4b3c" stroke-width="1" />
<line x1="467.6" y1="717.5" x2="472.6" y2="717.5" stroke="#8c4b3c" stroke-width="1" />
<line x1="494.6" y1="727.0" x2="494.6" y2="731.8" stroke="#8c4b3c" stroke-width="1" />
<line x1="492.1" y1="727.0" x2="497.1" y2="727.0" stroke="#8c4b3c" stroke-width="1" />
<line x1="519.2" y1="705.0" x2="519.2" y2="732.0" stroke="#8c4b3c" stroke-width="1" />
<line x1="516.7" y1="705.0" x2="521.7" y2="705.0" stroke="#8c4b3c" stroke-width="1" />
<line x1="516.7" y1="732.0" x2="521.7" y2="732.0" stroke="#8c4b3c" stroke-width="1" />
<line x1="543.8" y1="702.5" x2="543.8" y2="713.8" stroke="#8c4b3c" stroke-width="1" />
<line x1="541.2" y1="702.5" x2="546.2" y2="702.5" stroke="#8c4b3c" stroke-width="1" />
<line x1="568.3" y1="715.0" x2="568.3" y2="719.2" stroke="#8c4b3c" stroke-width="1" />
<line x1="565.8" y1="715.0" x2="570.8" y2="715.0" stroke="#8c4b3c" stroke-width="1" />
<line x1="592.9" y1="720.0" x2="592.9" y2="724.2" stroke="#8c4b3c" stroke-width="1" />
<line x1="590.4" y1="720.0" x2="595.4" y2="720.0" stroke="#8c4b3c" stroke-width="1" />
<line x1="617.4" y1="702.5" x2="617.4" y2="724.2" stroke="#8c4b3c" stroke-width="1" />
<line x1="614.9" y1="702.5" x2="619.9" y2="702.5" stroke="#8c4b3c" stroke-width="1" />
<line x1="614.9" y1="724.2" x2="619.9" y2="724.2" stroke="#8c4b3c" stroke-width="1" />
<line x1="642.0" y1="701.8" x2="642.0" y2="713.8" stroke="#8c4b3c" stroke-width="1" />
<line x1="639.5" y1="701.8" x2="644.5" y2="701.8" stroke="#8c4b3c" stroke-width="1" />
<line x1="666.5" y1="714.5" x2="666.5" y2="719.2" stroke="#8c4b3c" stroke-width="1" />
<line x1="664.0" y1="714.5" x2="669.0" y2="714.5" stroke="#8c4b3c" stroke-width="1" />
<line x1="691.0" y1="720.0" x2="691.0" y2="723.0" stroke="#8c4b3c" stroke-width="1" />
<line x1="688.5" y1="720.0" x2="693.5" y2="720.0" stroke="#8c4b3c" stroke-width="1" />
<line x1="715.6" y1="708.2" x2="715.6" y2="723.8" stroke="#8c4b3c" stroke-width="1" />
<line x1="713.1" y1="708.2" x2="718.1" y2="708.2" stroke="#8c4b3c" stroke-width="1" />
<line x1="713.1" y1="723.8" x2="718.1" y2="723.8" stroke="#8c4b3c" stroke-width="1" />
<line x1="740.1" y1="707.5" x2="740.1" y2="718.0" stroke="#8c4b3c" stroke-width="1" />
<line x1="737.6" y1="707.5" x2="742.6" y2="707.5" stroke="#8c4b3c" stroke-width="1" />
<line x1="764.7" y1="718.0" x2="764.7" y2="723.2" stroke="#8c4b3c" stroke-width="1" />
<line x1="762.2" y1="718.0" x2="767.2" y2="718.0" stroke="#8c4b3c" stroke-width="1" />
<line x1="789.2" y1="722.5" x2="789.2" y2="726.2" stroke="#8c4b3c" stroke-width="1" />
<line x1="786.8" y1="722.5" x2="791.8" y2="722.5" stroke="#8c4b3c" stroke-width="1" />
<line x1="813.8" y1="705.0" x2="813.8" y2="727.0" stroke="#8c4b3c" stroke-width="1" />
<line x1="811.3" y1="705.0" x2="816.3" y2="705.0" stroke="#8c4b3c" stroke-width="1" />
<line x1="811.3" y1="727.0" x2="816.3" y2="727.0" stroke="#8c4b3c" stroke-width="1" />
<line x1="838.4" y1="705.5" x2="838.4" y2="720.0" stroke="#8c4b3c" stroke-width="1" />
<line x1="835.9" y1="705.5" x2="840.9" y2="705.5" stroke="#8c4b3c" stroke-width="1" />
<line x1="835.9" y1="720.0" x2="840.9" y2="720.0" stroke="#8c4b3c" stroke-width="1" />
<line x1="862.9" y1="718.8" x2="862.9" y2="720.0" stroke="#8c4b3c" stroke-width="1" />
<line x1="860.4" y1="718.8" x2="865.4" y2="718.8" stroke="#8c4b3c" stroke-width="1" />
<line x1="887.5" y1="720.0" x2="887.5" y2="724.2" stroke="#8c4b3c" stroke-width="1" />
<line x1="885.0" y1="720.0" x2="890.0" y2="720.0" stroke="#8c4b3c" stroke-width="1" />
<line x1="912.0" y1="706.2" x2="912.0" y2="724.2" stroke="#8c4b3c" stroke-width="1" />
<line x1="909.5" y1="706.2" x2="914.5" y2="706.2" stroke="#8c4b3c" stroke-width="1" />
<line x1="909.5" y1="724.2" x2="914.5" y2="724.2" stroke="#8c4b3c" stroke-width="1" />
<line x1="936.5" y1="704.5" x2="936.5" y2="713.0" stroke="#8c4b3c" stroke-width="1" />
<line x1="934.0" y1="704.5" x2="939.0" y2="704.5" stroke="#8c4b3c" stroke-width="1" />
<line x1="961.1" y1="713.8" x2="961.1" y2="721.8" stroke="#8c4b3c" stroke-width="1" />
<line x1="958.6" y1="713.8" x2="963.6" y2="713.8" stroke="#8c4b3c" stroke-width="1" />
<line x1="985.6" y1="722.5" x2="985.6" y2="730.0" stroke="#8c4b3c" stroke-width="1" />
<line x1="983.1" y1="722.5" x2="988.1" y2="722.5" stroke="#8c4b3c" stroke-width="1" />
<line x1="1010.2" y1="708.0" x2="1010.2" y2="731.2" stroke="#8c4b3c" stroke-width="1" />
<line x1="1007.7" y1="708.0" x2="1012.7" y2="708.0" stroke="#8c4b3c" stroke-width="1" />
<line x1="1007.7" y1="731.2" x2="1012.7" y2="731.2" stroke="#8c4b3c" stroke-width="1" />
<line x1="1034.8" y1="705.8" x2="1034.8" y2="713.8" stroke="#8c4b3c" stroke-width="1" />
<line x1="1032.2" y1="705.8" x2="1037.2" y2="705.8" stroke="#8c4b3c" stroke-width="1" />
<line x1="1059.3" y1="714.5" x2="1059.3" y2="722.5" stroke="#8c4b3c" stroke-width="1" />
<line x1="1056.8" y1="714.5" x2="1061.8" y2="714.5" stroke="#8c4b3c" stroke-width="1" />
<line x1="1083.9" y1="723.8" x2="1083.9" y2="728.8" stroke="#8c4b3c" stroke-width="1" />
<line x1="1081.4" y1="723.8" x2="1086.4" y2="723.8" stroke="#8c4b3c" stroke-width="1" />
<polyline points="126.4,723.0 138.7,720.0 151.0,728.8 163.2,733.8 175.5,730.5 187.8,728.8 200.1,730.0 212.3,723.0 224.6,713.8 236.9,717.5 249.2,728.0 261.4,732.0 273.7,736.2 286.0,740.0 298.2,742.0 310.5,730.0 322.8,718.0 335.1,713.0 347.4,722.0 359.6,725.5 371.9,730.5 384.2,733.8 396.5,735.8 408.7,725.0 421.0,709.5 433.3,705.0 445.6,717.0 457.8,722.5 470.1,726.2 482.4,729.2 494.6,731.8 506.9,715.5 519.2,705.0 531.5,701.8 543.8,713.8 556.0,717.5 568.3,719.2 580.6,721.8 592.9,724.2 605.1,713.8 617.4,702.5 629.7,702.5 642.0,713.8 654.2,716.2 666.5,719.2 678.8,720.5 691.0,723.0 703.3,715.5 715.6,708.2 727.9,710.0 740.1,718.0 752.4,721.8 764.7,723.2 777.0,723.8 789.2,725.0 801.5,715.0 813.8,705.0 826.1,712.5 838.4,720.0 850.6,719.5 862.9,719.5 875.2,721.8 887.5,724.2 899.7,713.8 912.0,706.2 924.3,703.2 936.5,713.0 948.8,717.5 961.1,721.8 973.4,727.0 985.6,730.0 997.9,716.2 1010.2,708.0 1022.5,705.0 1034.8,713.8 1047.0,718.8 1059.3,722.5 1071.6,725.8 1083.9,728.8" fill="none" stroke="#823c32" stroke-width="2.0" stroke-linejoin="round" stroke-linecap="round" />
<g clip-path="url(#cp5)">
<polyline points="126.4,765.5 138.7,774.5 151.0,769.5 163.2,760.0 175.5,751.8 187.8,753.8 200.1,755.5 212.3,756.2 224.6,757.0 236.9,754.2 249.2,753.8 261.4,750.8 273.7,752.0 286.0,752.0 298.2,753.8 310.5,754.2 322.8,755.0 335.1,754.5 347.4,751.2 359.6,748.0 371.9,745.0 384.2,743.8 396.5,743.8 408.7,742.0 421.0,743.0 433.3,744.2 445.6,744.2 457.8,744.2 470.1,744.2 482.4,744.2 494.6,745.0 506.9,745.0 519.2,747.5 531.5,749.5 543.8,748.2 556.0,749.0 568.3,748.8 580.6,748.2 592.9,748.2 605.1,747.5 617.4,749.5 629.7,750.0 642.0,749.2 654.2,750.0 666.5,750.8 678.8,750.8 691.0,753.2 703.3,755.5 715.6,761.8 727.9,765.8 740.1,763.8 752.4,751.2 764.7,752.5 777.0,750.8 789.2,752.0 801.5,753.8 813.8,758.8 826.1,752.5 838.4,742.8 850.6,746.0 862.9,749.2 875.2,750.8 887.5,751.2 899.7,753.0 912.0,755.0 924.3,755.0 936.5,750.8 948.8,748.8 961.1,748.0 973.4,747.0 985.6,745.8 997.9,744.5 1010.2,744.5 1022.5,745.8 1034.8,743.2 1047.0,741.2 1059.3,740.8 1071.6,740.8 1083.9,741.8" fill="none" stroke="#d8e4f0" stroke-width="2.6" stroke-linejoin="round" stroke-linecap="round" />
<polyline points="126.4,765.5 138.7,774.5 151.0,769.5 163.2,760.0 175.5,751.8 187.8,753.8 200.1,755.5 212.3,756.2 224.6,757.0 236.9,754.2 249.2,753.8 261.4,750.8 273.7,752.0 286.0,752.0 298.2,753.8 310.5,754.2 322.8,755.0 335.1,754.5 347.4,751.2 359.6,748.0 371.9,745.0 384.2,743.8 396.5,743.8 408.7,742.0 421.0,743.0 433.3,744.2 445.6,744.2 457.8,744.2 470.1,744.2 482.4,744.2 494.6,745.0 506.9,745.0 519.2,747.5 531.5,749.5 543.8,748.2 556.0,749.0 568.3,748.8 580.6,748.2 592.9,748.2 605.1,747.5 617.4,749.5 629.7,750.0 642.0,749.2 654.2,750.0 666.5,750.8 678.8,750.8 691.0,753.2 703.3,755.5 715.6,761.8 727.9,765.8 740.1,763.8 752.4,751.2 764.7,752.5 777.0,750.8 789.2,752.0 801.5,753.8 813.8,758.8 826.1,752.5 838.4,742.8 850.6,746.0 862.9,749.2 875.2,750.8 887.5,751.2 899.7,753.0 912.0,755.0 924.3,755.0 936.5,750.8 948.8,748.8 961.1,748.0 973.4,747.0 985.6,745.8 997.9,744.5 1010.2,744.5 1022.5,745.8 1034.8,743.2 1047.0,741.2 1059.3,740.8 1071.6,740.8 1083.9,741.8" fill="none" stroke="#82463c" stroke-width="2.0" stroke-linejoin="round" stroke-linecap="round" stroke-dasharray="4.5 2.5"/>
</g>
<line x1="126.4" y1="780.5" x2="1083.9" y2="780.5" stroke="#000" stroke-width="1.1" stroke-dasharray="2 2"/>
<clipPath id="crh"><polygon points="126.4,866.0 126.4,843.0 138.7,855.8 151.0,840.8 163.2,819.2 175.5,810.8 187.8,817.0 200.1,818.8 212.3,830.0 224.6,843.0 236.9,832.5 249.2,819.2 261.4,807.5 273.7,803.2 286.0,795.5 298.2,794.2 310.5,813.8 322.8,833.8 335.1,840.8 347.4,825.0 359.6,812.0 371.9,796.8 384.2,788.8 396.5,785.0 408.7,803.8 421.0,828.0 433.3,836.8 445.6,819.2 457.8,810.5 470.1,804.2 482.4,800.0 494.6,796.2 506.9,823.8 519.2,840.0 531.5,846.8 543.8,830.5 556.0,826.2 568.3,824.2 580.6,818.0 592.9,815.0 605.1,829.5 617.4,844.5 629.7,845.0 642.0,832.0 654.2,829.2 666.5,827.0 678.8,826.8 691.0,824.2 703.3,838.0 715.6,853.0 727.9,856.2 740.1,845.8 752.4,822.5 764.7,825.5 777.0,818.8 789.2,821.8 801.5,838.0 813.8,854.2 826.1,837.5 838.4,814.2 850.6,818.8 862.9,823.2 875.2,823.8 887.5,821.2 899.7,836.2 912.0,847.5 924.3,850.8 936.5,836.8 948.8,825.5 961.1,818.2 973.4,810.5 985.6,800.8 997.9,821.8 1010.2,833.8 1022.5,838.8 1034.8,822.5 1047.0,812.5 1059.3,805.0 1071.6,798.2 1083.9,794.2 1083.9,866.0"/></clipPath>
<g clip-path="url(#crh)">
<rect x="126.4" y="775.0" width="957.5" height="19.7" fill="#009600" />
<rect x="126.4" y="794.7" width="957.5" height="14.3" fill="#00b400" />
<rect x="126.4" y="809.0" width="957.5" height="14.2" fill="#00e600" />
<rect x="126.4" y="823.2" width="957.5" height="14.2" fill="#50eb50" />
<rect x="126.4" y="837.4" width="957.5" height="14.2" fill="#78d778" />
<rect x="126.4" y="851.6" width="957.5" height="14.4" fill="#a0cda0" />
</g>
<line x1="120.5" y1="794.7" x2="1090.5" y2="794.7" stroke="#a8a8a8" stroke-width="1" stroke-dasharray="4 2.2"/>
<line x1="120.5" y1="809.0" x2="1090.5" y2="809.0" stroke="#a8a8a8" stroke-width="1" stroke-dasharray="4 2.2"/>
<line x1="120.5" y1="823.2" x2="1090.5" y2="823.2" stroke="#a8a8a8" stroke-width="1" stroke-dasharray="4 2.2"/>
<line x1="120.5" y1="837.4" x2="1090.5" y2="837.4" stroke="#a8a8a8" stroke-width="1" stroke-dasharray="4 2.2"/>
<line x1="120.5" y1="851.6" x2="1090.5" y2="851.6" stroke="#a8a8a8" stroke-width="1" stroke-dasharray="4 2.2"/>
<line x1="175.5" y1="780.5" x2="175.5" y2="865.5" stroke="#a8a8a8" stroke-width="1" stroke-dasharray="4 2.2"/>
<line x1="273.7" y1="780.5" x2="273.7" y2="865.5" stroke="#a8a8a8" stroke-width="1" stroke-dasharray="4 2.2"/>
<line x1="371.9" y1="780.5" x2="371.9" y2="865.5" stroke="#a8a8a8" stroke-width="1" stroke-dasharray="4 2.2"/>
<line x1="470.1" y1="780.5" x2="470.1" y2="865.5" stroke="#a8a8a8" stroke-width="1" stroke-dasharray="4 2.2"/>
<line x1="568.3" y1="780.5" x2="568.3" y2="865.5" stroke="#a8a8a8" stroke-width="1" stroke-dasharray="4 2.2"/>
<line x1="666.5" y1="780.5" x2="666.5" y2="865.5" stroke="#a8a8a8" stroke-width="1" stroke-dasharray="4 2.2"/>
<line x1="764.7" y1="780.5" x2="764.7" y2="865.5" stroke="#a8a8a8" stroke-width="1" stroke-dasharray="4 2.2"/>
<line x1="862.9" y1="780.5" x2="862.9" y2="865.5" stroke="#a8a8a8" stroke-width="1" stroke-dasharray="4 2.2"/>
<line x1="961.1" y1="780.5" x2="961.1" y2="865.5" stroke="#a8a8a8" stroke-width="1" stroke-dasharray="4 2.2"/>
<line x1="1059.3" y1="780.5" x2="1059.3" y2="865.5" stroke="#a8a8a8" stroke-width="1" stroke-dasharray="4 2.2"/>
<polyline points="126.4,843.0 138.7,855.8 151.0,840.8 163.2,819.2 175.5,810.8 187.8,817.0 200.1,818.8 212.3,830.0 224.6,843.0 236.9,832.5 249.2,819.2 261.4,807.5 273.7,803.2 286.0,795.5 298.2,794.2 310.5,813.8 322.8,833.8 335.1,840.8 347.4,825.0 359.6,812.0 371.9,796.8 384.2,788.8 396.5,785.0 408.7,803.8 421.0,828.0 433.3,836.8 445.6,819.2 457.8,810.5 470.1,804.2 482.4,800.0 494.6,796.2 506.9,823.8 519.2,840.0 531.5,846.8 543.8,830.5 556.0,826.2 568.3,824.2 580.6,818.0 592.9,815.0 605.1,829.5 617.4,844.5 629.7,845.0 642.0,832.0 654.2,829.2 666.5,827.0 678.8,826.8 691.0,824.2 703.3,838.0 715.6,853.0 727.9,856.2 740.1,845.8 752.4,822.5 764.7,825.5 777.0,818.8 789.2,821.8 801.5,838.0 813.8,854.2 826.1,837.5 838.4,814.2 850.6,818.8 862.9,823.2 875.2,823.8 887.5,821.2 899.7,836.2 912.0,847.5 924.3,850.8 936.5,836.8 948.8,825.5 961.1,818.2 973.4,810.5 985.6,800.8 997.9,821.8 1010.2,833.8 1022.5,838.8 1034.8,822.5 1047.0,812.5 1059.3,805.0 1071.6,798.2 1083.9,794.2" fill="none" stroke="#008c00" stroke-width="1" stroke-linejoin="round" stroke-linecap="round" />
<circle cx="126.4" cy="843.0" r="2.5" fill="#fff" stroke="#007800" stroke-width="0.9"/>
<circle cx="138.7" cy="855.8" r="2.5" fill="#fff" stroke="#007800" stroke-width="0.9"/>
<circle cx="151.0" cy="840.8" r="2.5" fill="#fff" stroke="#007800" stroke-width="0.9"/>
<circle cx="163.2" cy="819.2" r="2.5" fill="#fff" stroke="#007800" stroke-width="0.9"/>
<circle cx="175.5" cy="810.8" r="2.5" fill="#fff" stroke="#007800" stroke-width="0.9"/>
<circle cx="187.8" cy="817.0" r="2.5" fill="#fff" stroke="#007800" stroke-width="0.9"/>
<circle cx="200.1" cy="818.8" r="2.5" fill="#fff" stroke="#007800" stroke-width="0.9"/>
<circle cx="212.3" cy="830.0" r="2.5" fill="#fff" stroke="#007800" stroke-width="0.9"/>
<circle cx="224.6" cy="843.0" r="2.5" fill="#fff" stroke="#007800" stroke-width="0.9"/>
<circle cx="236.9" cy="832.5" r="2.5" fill="#fff" stroke="#007800" stroke-width="0.9"/>
<circle cx="249.2" cy="819.2" r="2.5" fill="#fff" stroke="#007800" stroke-width="0.9"/>
<circle cx="261.4" cy="807.5" r="2.5" fill="#fff" stroke="#007800" stroke-width="0.9"/>
<circle cx="273.7" cy="803.2" r="2.5" fill="#fff" stroke="#007800" stroke-width="0.9"/>
<circle cx="286.0" cy="795.5" r="2.5" fill="#fff" stroke="#007800" stroke-width="0.9"/>
<circle cx="298.2" cy="794.2" r="2.5" fill="#fff" stroke="#007800" stroke-width="0.9"/>
<circle cx="310.5" cy="813.8" r="2.5" fill="#fff" stroke="#007800" stroke-width="0.9"/>
<circle cx="322.8" cy="833.8" r="2.5" fill="#fff" stroke="#007800" stroke-width="0.9"/>
<circle cx="335.1" cy="840.8" r="2.5" fill="#fff" stroke="#007800" stroke-width="0.9"/>
<circle cx="347.4" cy="825.0" r="2.5" fill="#fff" stroke="#007800" stroke-width="0.9"/>
<circle cx="359.6" cy="812.0" r="2.5" fill="#fff" stroke="#007800" stroke-width="0.9"/>
<circle cx="371.9" cy="796.8" r="2.5" fill="#fff" stroke="#007800" stroke-width="0.9"/>
<circle cx="384.2" cy="788.8" r="2.5" fill="#fff" stroke="#007800" stroke-width="0.9"/>
<circle cx="396.5" cy="785.0" r="2.5" fill="#fff" stroke="#007800" stroke-width="0.9"/>
<circle cx="408.7" cy="803.8" r="2.5" fill="#fff" stroke="#007800" stroke-width="0.9"/>
<circle cx="421.0" cy="828.0" r="2.5" fill="#fff" stroke="#007800" stroke-width="0.9"/>
<circle cx="433.3" cy="836.8" r="2.5" fill="#fff" stroke="#007800" stroke-width="0.9"/>
<circle cx="445.6" cy="819.2" r="2.5" fill="#fff" stroke="#007800" stroke-width="0.9"/>
<circle cx="457.8" cy="810.5" r="2.5" fill="#fff" stroke="#007800" stroke-width="0.9"/>
<circle cx="470.1" cy="804.2" r="2.5" fill="#fff" stroke="#007800" stroke-width="0.9"/>
<circle cx="482.4" cy="800.0" r="2.5" fill="#fff" stroke="#007800" stroke-width="0.9"/>
<circle cx="494.6" cy="796.2" r="2.5" fill="#fff" stroke="#007800" stroke-width="0.9"/>
<circle cx="506.9" cy="823.8" r="2.5" fill="#fff" stroke="#007800" stroke-width="0.9"/>
<circle cx="519.2" cy="840.0" r="2.5" fill="#fff" stroke="#007800" stroke-width="0.9"/>
<circle cx="531.5" cy="846.8" r="2.5" fill="#fff" stroke="#007800" stroke-width="0.9"/>
<circle cx="543.8" cy="830.5" r="2.5" fill="#fff" stroke="#007800" stroke-width="0.9"/>
<circle cx="556.0" cy="826.2" r="2.5" fill="#fff" stroke="#007800" stroke-width="0.9"/>
<circle cx="568.3" cy="824.2" r="2.5" fill="#fff" stroke="#007800" stroke-width="0.9"/>
<circle cx="580.6" cy="818.0" r="2.5" fill="#fff" stroke="#007800" stroke-width="0.9"/>
<circle cx="592.9" cy="815.0" r="2.5" fill="#fff" stroke="#007800" stroke-width="0.9"/>
<circle cx="605.1" cy="829.5" r="2.5" fill="#fff" stroke="#007800" stroke-width="0.9"/>
<circle cx="617.4" cy="844.5" r="2.5" fill="#fff" stroke="#007800" stroke-width="0.9"/>
<circle cx="629.7" cy="845.0" r="2.5" fill="#fff" stroke="#007800" stroke-width="0.9"/>
<circle cx="642.0" cy="832.0" r="2.5" fill="#fff" stroke="#007800" stroke-width="0.9"/>
<circle cx="654.2" cy="829.2" r="2.5" fill="#fff" stroke="#007800" stroke-width="0.9"/>
<circle cx="666.5" cy="827.0" r="2.5" fill="#fff" stroke="#007800" stroke-width="0.9"/>
<circle cx="678.8" cy="826.8" r="2.5" fill="#fff" stroke="#007800" stroke-width="0.9"/>
<circle cx="691.0" cy="824.2" r="2.5" fill="#fff" stroke="#007800" stroke-width="0.9"/>
<circle cx="703.3" cy="838.0" r="2.5" fill="#fff" stroke="#007800" stroke-width="0.9"/>
<circle cx="715.6" cy="853.0" r="2.5" fill="#fff" stroke="#007800" stroke-width="0.9"/>
<circle cx="727.9" cy="856.2" r="2.5" fill="#fff" stroke="#007800" stroke-width="0.9"/>
<circle cx="740.1" cy="845.8" r="2.5" fill="#fff" stroke="#007800" stroke-width="0.9"/>
<circle cx="752.4" cy="822.5" r="2.5" fill="#fff" stroke="#007800" stroke-width="0.9"/>
<circle cx="764.7" cy="825.5" r="2.5" fill="#fff" stroke="#007800" stroke-width="0.9"/>
<circle cx="777.0" cy="818.8" r="2.5" fill="#fff" stroke="#007800" stroke-width="0.9"/>
<circle cx="789.2" cy="821.8" r="2.5" fill="#fff" stroke="#007800" stroke-width="0.9"/>
<circle cx="801.5" cy="838.0" r="2.5" fill="#fff" stroke="#007800" stroke-width="0.9"/>
<circle cx="813.8" cy="854.2" r="2.5" fill="#fff" stroke="#007800" stroke-width="0.9"/>
<circle cx="826.1" cy="837.5" r="2.5" fill="#fff" stroke="#007800" stroke-width="0.9"/>
<circle cx="838.4" cy="814.2" r="2.5" fill="#fff" stroke="#007800" stroke-width="0.9"/>
<circle cx="850.6" cy="818.8" r="2.5" fill="#fff" stroke="#007800" stroke-width="0.9"/>
<circle cx="862.9" cy="823.2" r="2.5" fill="#fff" stroke="#007800" stroke-width="0.9"/>
<circle cx="875.2" cy="823.8" r="2.5" fill="#fff" stroke="#007800" stroke-width="0.9"/>
<circle cx="887.5" cy="821.2" r="2.5" fill="#fff" stroke="#007800" stroke-width="0.9"/>
<circle cx="899.7" cy="836.2" r="2.5" fill="#fff" stroke="#007800" stroke-width="0.9"/>
<circle cx="912.0" cy="847.5" r="2.5" fill="#fff" stroke="#007800" stroke-width="0.9"/>
<circle cx="924.3" cy="850.8" r="2.5" fill="#fff" stroke="#007800" stroke-width="0.9"/>
<circle cx="936.5" cy="836.8" r="2.5" fill="#fff" stroke="#007800" stroke-width="0.9"/>
<circle cx="948.8" cy="825.5" r="2.5" fill="#fff" stroke="#007800" stroke-width="0.9"/>
<circle cx="961.1" cy="818.2" r="2.5" fill="#fff" stroke="#007800" stroke-width="0.9"/>
<circle cx="973.4" cy="810.5" r="2.5" fill="#fff" stroke="#007800" stroke-width="0.9"/>
<circle cx="985.6" cy="800.8" r="2.5" fill="#fff" stroke="#007800" stroke-width="0.9"/>
<circle cx="997.9" cy="821.8" r="2.5" fill="#fff" stroke="#007800" stroke-width="0.9"/>
<circle cx="1010.2" cy="833.8" r="2.5" fill="#fff" stroke="#007800" stroke-width="0.9"/>
<circle cx="1022.5" cy="838.8" r="2.5" fill="#fff" stroke="#007800" stroke-width="0.9"/>
<circle cx="1034.8" cy="822.5" r="2.5" fill="#fff" stroke="#007800" stroke-width="0.9"/>
<circle cx="1047.0" cy="812.5" r="2.5" fill="#fff" stroke="#007800" stroke-width="0.9"/>
<circle cx="1059.3" cy="805.0" r="2.5" fill="#fff" stroke="#007800" stroke-width="0.9"/>
<circle cx="1071.6" cy="798.2" r="2.5" fill="#fff" stroke="#007800" stroke-width="0.9"/>
<circle cx="1083.9" cy="794.2" r="2.5" fill="#fff" stroke="#007800" stroke-width="0.9"/>
<rect x="132.5" y="865.5" width="958.0" height="84.5" fill="#6baed6" />
<rect x="144.8" y="867.1" width="12.6" height="25.5" fill="#f8f2fa" shape-rendering="crispEdges"/>
<rect x="157.1" y="887.1" width="12.6" height="5.5" fill="#f8f2fa" shape-rendering="crispEdges"/>
<rect x="169.4" y="867.1" width="12.6" height="25.5" fill="#f8f2fa" shape-rendering="crispEdges"/>
<rect x="181.6" y="867.1" width="12.6" height="25.5" fill="#f8f2fa" shape-rendering="crispEdges"/>
<rect x="193.9" y="869.3" width="12.6" height="23.3" fill="#f8f2fa" shape-rendering="crispEdges"/>
<rect x="279.8" y="867.9" width="12.6" height="24.7" fill="#f8f2fa" shape-rendering="crispEdges"/>
<rect x="292.1" y="872.9" width="12.6" height="19.7" fill="#f8f2fa" shape-rendering="crispEdges"/>
<rect x="304.4" y="891.2" width="12.6" height="1.4" fill="#f8f2fa" shape-rendering="crispEdges"/>
<rect x="316.7" y="891.2" width="12.6" height="1.4" fill="#f8f2fa" shape-rendering="crispEdges"/>
<rect x="328.9" y="889.9" width="12.6" height="2.7" fill="#f8f2fa" shape-rendering="crispEdges"/>
<rect x="341.2" y="884.4" width="12.6" height="8.2" fill="#f8f2fa" shape-rendering="crispEdges"/>
<rect x="353.5" y="883.0" width="12.6" height="9.6" fill="#f8f2fa" shape-rendering="crispEdges"/>
<rect x="365.8" y="867.9" width="12.6" height="24.7" fill="#f8f2fa" shape-rendering="crispEdges"/>
<rect x="378.0" y="891.0" width="12.6" height="1.6" fill="#f8f2fa" shape-rendering="crispEdges"/>
<rect x="500.8" y="891.2" width="12.6" height="1.4" fill="#f8f2fa" shape-rendering="crispEdges"/>
<rect x="513.1" y="880.8" width="12.6" height="11.8" fill="#f8f2fa" shape-rendering="crispEdges"/>
<rect x="525.3" y="867.4" width="12.6" height="25.2" fill="#f8f2fa" shape-rendering="crispEdges"/>
<rect x="537.6" y="867.1" width="12.6" height="25.5" fill="#f8f2fa" shape-rendering="crispEdges"/>
<rect x="549.9" y="867.1" width="12.6" height="25.5" fill="#f8f2fa" shape-rendering="crispEdges"/>
<rect x="562.2" y="867.1" width="12.6" height="25.5" fill="#f8f2fa" shape-rendering="crispEdges"/>
<rect x="574.4" y="867.1" width="12.6" height="25.5" fill="#f8f2fa" shape-rendering="crispEdges"/>
<rect x="586.7" y="867.9" width="12.6" height="24.7" fill="#f8f2fa" shape-rendering="crispEdges"/>
<rect x="599.0" y="878.4" width="12.6" height="14.2" fill="#f8f2fa" shape-rendering="crispEdges"/>
<rect x="623.5" y="882.2" width="12.6" height="10.4" fill="#f8f2fa" shape-rendering="crispEdges"/>
<rect x="635.8" y="867.1" width="12.6" height="25.5" fill="#f8f2fa" shape-rendering="crispEdges"/>
<rect x="648.1" y="867.1" width="12.6" height="25.5" fill="#f8f2fa" shape-rendering="crispEdges"/>
<rect x="660.4" y="867.1" width="12.6" height="25.5" fill="#f8f2fa" shape-rendering="crispEdges"/>
<rect x="672.6" y="867.1" width="12.6" height="25.5" fill="#f8f2fa" shape-rendering="crispEdges"/>
<rect x="684.9" y="867.1" width="12.6" height="25.5" fill="#f8f2fa" shape-rendering="crispEdges"/>
<rect x="697.2" y="867.1" width="12.6" height="25.5" fill="#f8f2fa" shape-rendering="crispEdges"/>
<rect x="709.5" y="872.9" width="12.6" height="19.7" fill="#f8f2fa" shape-rendering="crispEdges"/>
<rect x="721.7" y="867.1" width="12.6" height="25.5" fill="#f8f2fa" shape-rendering="crispEdges"/>
<rect x="734.0" y="867.1" width="12.6" height="25.5" fill="#f8f2fa" shape-rendering="crispEdges"/>
<rect x="746.3" y="867.1" width="12.6" height="25.5" fill="#f8f2fa" shape-rendering="crispEdges"/>
<rect x="758.6" y="877.5" width="12.6" height="15.1" fill="#f8f2fa" shape-rendering="crispEdges"/>
<rect x="1016.3" y="891.2" width="12.6" height="1.4" fill="#f8f2fa" shape-rendering="crispEdges"/>
<rect x="1028.6" y="891.2" width="12.6" height="1.4" fill="#f8f2fa" shape-rendering="crispEdges"/>
<rect x="1040.9" y="867.1" width="12.6" height="25.5" fill="#f8f2fa" shape-rendering="crispEdges"/>
<rect x="1053.2" y="867.1" width="12.6" height="25.5" fill="#f8f2fa" shape-rendering="crispEdges"/>
<rect x="1065.4" y="868.8" width="12.6" height="23.8" fill="#f8f2fa" shape-rendering="crispEdges"/>
<rect x="1077.7" y="867.1" width="12.6" height="25.5" fill="#f8f2fa" shape-rendering="crispEdges"/>
<rect x="144.8" y="915.9" width="12.6" height="4.1" fill="#e8e8e8" shape-rendering="crispEdges"/>
<rect x="169.4" y="917.8" width="12.6" height="2.2" fill="#e8e8e8" shape-rendering="crispEdges"/>
<rect x="181.6" y="914.6" width="12.6" height="5.4" fill="#e8e8e8" shape-rendering="crispEdges"/>
<rect x="193.9" y="898.8" width="12.6" height="21.2" fill="#e8e8e8" shape-rendering="crispEdges"/>
<rect x="328.9" y="918.1" width="12.6" height="1.9" fill="#e8e8e8" shape-rendering="crispEdges"/>
<rect x="537.6" y="905.9" width="12.6" height="14.1" fill="#e8e8e8" shape-rendering="crispEdges"/>
<rect x="549.9" y="901.5" width="12.6" height="18.5" fill="#e8e8e8" shape-rendering="crispEdges"/>
<rect x="562.2" y="914.6" width="12.6" height="5.4" fill="#e8e8e8" shape-rendering="crispEdges"/>
<rect x="574.4" y="908.3" width="12.6" height="11.7" fill="#e8e8e8" shape-rendering="crispEdges"/>
<rect x="586.7" y="894.2" width="12.6" height="25.8" fill="#e8e8e8" shape-rendering="crispEdges"/>
<rect x="599.0" y="894.2" width="12.6" height="25.8" fill="#e8e8e8" shape-rendering="crispEdges"/>
<rect x="611.3" y="894.2" width="12.6" height="25.8" fill="#e8e8e8" shape-rendering="crispEdges"/>
<rect x="623.5" y="909.7" width="12.6" height="10.3" fill="#e8e8e8" shape-rendering="crispEdges"/>
<rect x="635.8" y="917.3" width="12.6" height="2.7" fill="#e8e8e8" shape-rendering="crispEdges"/>
<rect x="648.1" y="894.2" width="12.6" height="25.8" fill="#e8e8e8" shape-rendering="crispEdges"/>
<rect x="660.4" y="895.0" width="12.6" height="25.0" fill="#e8e8e8" shape-rendering="crispEdges"/>
<rect x="672.6" y="895.0" width="12.6" height="25.0" fill="#e8e8e8" shape-rendering="crispEdges"/>
<rect x="684.9" y="895.0" width="12.6" height="25.0" fill="#e8e8e8" shape-rendering="crispEdges"/>
<rect x="697.2" y="895.0" width="12.6" height="25.0" fill="#e8e8e8" shape-rendering="crispEdges"/>
<rect x="709.5" y="902.9" width="12.6" height="17.1" fill="#e8e8e8" shape-rendering="crispEdges"/>
<rect x="721.7" y="895.0" width="12.6" height="25.0" fill="#e8e8e8" shape-rendering="crispEdges"/>
<rect x="734.0" y="895.0" width="12.6" height="25.0" fill="#e8e8e8" shape-rendering="crispEdges"/>
<rect x="746.3" y="895.0" width="12.6" height="25.0" fill="#e8e8e8" shape-rendering="crispEdges"/>
<rect x="758.6" y="895.0" width="12.6" height="25.0" fill="#e8e8e8" shape-rendering="crispEdges"/>
<rect x="770.8" y="902.3" width="12.6" height="17.7" fill="#e8e8e8" shape-rendering="crispEdges"/>
<rect x="783.1" y="896.1" width="12.6" height="23.9" fill="#e8e8e8" shape-rendering="crispEdges"/>
<rect x="795.4" y="906.9" width="12.6" height="13.1" fill="#e8e8e8" shape-rendering="crispEdges"/>
<rect x="955.0" y="918.1" width="12.6" height="1.9" fill="#e8e8e8" shape-rendering="crispEdges"/>
<rect x="1053.2" y="905.0" width="12.6" height="15.0" fill="#e8e8e8" shape-rendering="crispEdges"/>
<rect x="1065.4" y="898.8" width="12.6" height="21.2" fill="#e8e8e8" shape-rendering="crispEdges"/>
<rect x="1077.7" y="909.7" width="12.6" height="10.3" fill="#e8e8e8" shape-rendering="crispEdges"/>
<rect x="807.7" y="895.0" width="12.6" height="25.0" fill="#e8e8e8" shape-rendering="crispEdges"/>
<rect x="819.9" y="895.0" width="12.6" height="25.0" fill="#e8e8e8" shape-rendering="crispEdges"/>
<rect x="832.2" y="895.0" width="12.6" height="25.0" fill="#e8e8e8" shape-rendering="crispEdges"/>
<rect x="844.5" y="895.0" width="12.6" height="25.0" fill="#e8e8e8" shape-rendering="crispEdges"/>
<rect x="856.8" y="895.0" width="12.6" height="25.0" fill="#e8e8e8" shape-rendering="crispEdges"/>
<rect x="869.0" y="895.0" width="12.6" height="25.0" fill="#e8e8e8" shape-rendering="crispEdges"/>
<rect x="881.3" y="895.0" width="12.6" height="25.0" fill="#e8e8e8" shape-rendering="crispEdges"/>
<rect x="893.6" y="895.0" width="12.6" height="25.0" fill="#e8e8e8" shape-rendering="crispEdges"/>
<rect x="905.9" y="895.0" width="12.6" height="25.0" fill="#e8e8e8" shape-rendering="crispEdges"/>
<rect x="918.1" y="895.0" width="12.6" height="25.0" fill="#e8e8e8" shape-rendering="crispEdges"/>
<rect x="930.4" y="895.0" width="12.6" height="25.0" fill="#e8e8e8" shape-rendering="crispEdges"/>
<rect x="942.7" y="895.0" width="12.6" height="25.0" fill="#e8e8e8" shape-rendering="crispEdges"/>
<rect x="157.1" y="926.5" width="12.6" height="21.5" fill="#dadada" shape-rendering="crispEdges"/>
<rect x="169.4" y="925.9" width="12.6" height="22.1" fill="#dadada" shape-rendering="crispEdges"/>
<rect x="181.6" y="944.7" width="12.6" height="3.3" fill="#dadada" shape-rendering="crispEdges"/>
<rect x="193.9" y="945.8" width="12.6" height="2.2" fill="#dadada" shape-rendering="crispEdges"/>
<rect x="218.5" y="942.5" width="12.6" height="5.5" fill="#dadada" shape-rendering="crispEdges"/>
<rect x="230.7" y="942.5" width="12.6" height="5.5" fill="#dadada" shape-rendering="crispEdges"/>
<rect x="243.0" y="943.6" width="12.6" height="4.4" fill="#dadada" shape-rendering="crispEdges"/>
<rect x="255.3" y="941.1" width="12.6" height="6.9" fill="#dadada" shape-rendering="crispEdges"/>
<rect x="697.2" y="946.3" width="12.6" height="1.7" fill="#dadada" shape-rendering="crispEdges"/>
<rect x="709.5" y="941.9" width="12.6" height="6.1" fill="#dadada" shape-rendering="crispEdges"/>
<rect x="721.7" y="932.3" width="12.6" height="15.7" fill="#dadada" shape-rendering="crispEdges"/>
<rect x="734.0" y="933.1" width="12.6" height="14.9" fill="#dadada" shape-rendering="crispEdges"/>
<rect x="746.3" y="921.8" width="12.6" height="26.2" fill="#dadada" shape-rendering="crispEdges"/>
<rect x="758.6" y="924.5" width="12.6" height="23.5" fill="#dadada" shape-rendering="crispEdges"/>
<rect x="770.8" y="921.8" width="12.6" height="26.2" fill="#dadada" shape-rendering="crispEdges"/>
<rect x="783.1" y="924.0" width="12.6" height="24.0" fill="#dadada" shape-rendering="crispEdges"/>
<rect x="795.4" y="945.8" width="12.6" height="2.2" fill="#dadada" shape-rendering="crispEdges"/>
<rect x="807.7" y="922.6" width="12.6" height="25.4" fill="#dadada" shape-rendering="crispEdges"/>
<rect x="819.9" y="921.8" width="12.6" height="26.2" fill="#dadada" shape-rendering="crispEdges"/>
<rect x="832.2" y="921.8" width="12.6" height="26.2" fill="#dadada" shape-rendering="crispEdges"/>
<rect x="844.5" y="922.6" width="12.6" height="25.4" fill="#dadada" shape-rendering="crispEdges"/>
<rect x="856.8" y="921.8" width="12.6" height="26.2" fill="#dadada" shape-rendering="crispEdges"/>
<rect x="869.0" y="930.1" width="12.6" height="17.9" fill="#dadada" shape-rendering="crispEdges"/>
<rect x="881.3" y="930.1" width="12.6" height="17.9" fill="#dadada" shape-rendering="crispEdges"/>
<rect x="893.6" y="946.3" width="12.6" height="1.7" fill="#dadada" shape-rendering="crispEdges"/>
<line x1="132.5" y1="893.2" x2="1090.5" y2="893.2" stroke="#a8a8a8" stroke-width="1" stroke-dasharray="4 2.2"/>
<line x1="132.5" y1="920.6" x2="1090.5" y2="920.6" stroke="#a8a8a8" stroke-width="1" stroke-dasharray="4 2.2"/>
<line x1="132.5" y1="948.8" x2="1090.5" y2="948.8" stroke="#a8a8a8" stroke-width="1" stroke-dasharray="4 2.2"/>
<line x1="175.5" y1="865.5" x2="175.5" y2="950.0" stroke="#a8a8a8" stroke-width="1" stroke-dasharray="4 2.2"/>
<line x1="273.7" y1="865.5" x2="273.7" y2="950.0" stroke="#a8a8a8" stroke-width="1" stroke-dasharray="4 2.2"/>
<line x1="371.9" y1="865.5" x2="371.9" y2="950.0" stroke="#a8a8a8" stroke-width="1" stroke-dasharray="4 2.2"/>
<line x1="470.1" y1="865.5" x2="470.1" y2="950.0" stroke="#a8a8a8" stroke-width="1" stroke-dasharray="4 2.2"/>
<line x1="568.3" y1="865.5" x2="568.3" y2="950.0" stroke="#a8a8a8" stroke-width="1" stroke-dasharray="4 2.2"/>
<line x1="666.5" y1="865.5" x2="666.5" y2="950.0" stroke="#a8a8a8" stroke-width="1" stroke-dasharray="4 2.2"/>
<line x1="764.7" y1="865.5" x2="764.7" y2="950.0" stroke="#a8a8a8" stroke-width="1" stroke-dasharray="4 2.2"/>
<line x1="862.9" y1="865.5" x2="862.9" y2="950.0" stroke="#a8a8a8" stroke-width="1" stroke-dasharray="4 2.2"/>
<line x1="961.1" y1="865.5" x2="961.1" y2="950.0" stroke="#a8a8a8" stroke-width="1" stroke-dasharray="4 2.2"/>
<line x1="1059.3" y1="865.5" x2="1059.3" y2="950.0" stroke="#a8a8a8" stroke-width="1" stroke-dasharray="4 2.2"/>
<line x1="132.5" y1="972.5" x2="1090.5" y2="972.5" stroke="#a8a8a8" stroke-width="1" stroke-dasharray="4 2.2"/>
<line x1="132.5" y1="994.5" x2="1090.5" y2="994.5" stroke="#a8a8a8" stroke-width="1" stroke-dasharray="4 2.2"/>
<line x1="132.5" y1="1016.3" x2="1090.5" y2="1016.3" stroke="#a8a8a8" stroke-width="1" stroke-dasharray="4 2.2"/>
<line x1="132.5" y1="1038.3" x2="1090.5" y2="1038.3" stroke="#a8a8a8" stroke-width="1" stroke-dasharray="4 2.2"/>
<line x1="175.5" y1="950.0" x2="175.5" y2="1060.0" stroke="#a8a8a8" stroke-width="1" stroke-dasharray="4 2.2"/>
<line x1="273.7" y1="950.0" x2="273.7" y2="1060.0" stroke="#a8a8a8" stroke-width="1" stroke-dasharray="4 2.2"/>
<line x1="371.9" y1="950.0" x2="371.9" y2="1060.0" stroke="#a8a8a8" stroke-width="1" stroke-dasharray="4 2.2"/>
<line x1="470.1" y1="950.0" x2="470.1" y2="1060.0" stroke="#a8a8a8" stroke-width="1" stroke-dasharray="4 2.2"/>
<line x1="568.3" y1="950.0" x2="568.3" y2="1060.0" stroke="#a8a8a8" stroke-width="1" stroke-dasharray="4 2.2"/>
<line x1="666.5" y1="950.0" x2="666.5" y2="1060.0" stroke="#a8a8a8" stroke-width="1" stroke-dasharray="4 2.2"/>
<line x1="764.7" y1="950.0" x2="764.7" y2="1060.0" stroke="#a8a8a8" stroke-width="1" stroke-dasharray="4 2.2"/>
<line x1="862.9" y1="950.0" x2="862.9" y2="1060.0" stroke="#a8a8a8" stroke-width="1" stroke-dasharray="4 2.2"/>
<line x1="961.1" y1="950.0" x2="961.1" y2="1060.0" stroke="#a8a8a8" stroke-width="1" stroke-dasharray="4 2.2"/>
<line x1="1059.3" y1="950.0" x2="1059.3" y2="1060.0" stroke="#a8a8a8" stroke-width="1" stroke-dasharray="4 2.2"/>
<rect x="182.3" y="1053.0" width="11.0" height="7.5" fill="#1ec81e" />
<rect x="185.3" y="1053.0" width="4.4" height="7.5" fill="#ff4040" />
<rect x="821.3" y="1053.5" width="10.0" height="7.0" fill="#1ec81e" />
<rect x="833.2" y="1046.0" width="11.0" height="14.5" fill="#1ec81e" />
<path d="M120.5 424.5 L120.5 70.5 L1090.5 70.5 L1090.5 424.5" fill="none" stroke="#000" stroke-width="1.3"/>
<line x1="120.5" y1="424.5" x2="120.5" y2="440.5" stroke="#000" stroke-width="1.3" />
<line x1="1090.5" y1="424.5" x2="1090.5" y2="440.5" stroke="#000" stroke-width="1.3" />
<line x1="120.5" y1="440.5" x2="1090.5" y2="440.5" stroke="#000" stroke-width="1.3" />
<line x1="120.5" y1="525.5" x2="1090.5" y2="525.5" stroke="#000" stroke-width="1.3" />
<line x1="120.5" y1="610.5" x2="1090.5" y2="610.5" stroke="#000" stroke-width="1.3" />
<line x1="120.5" y1="695.5" x2="1090.5" y2="695.5" stroke="#000" stroke-width="1.3" />
<line x1="120.5" y1="865.5" x2="1090.5" y2="865.5" stroke="#000" stroke-width="1.3" />
<line x1="120.5" y1="440.5" x2="120.5" y2="865.5" stroke="#000" stroke-width="1.3" />
<line x1="1090.5" y1="440.5" x2="1090.5" y2="1060.5" stroke="#000" stroke-width="1.3" />
<line x1="120.5" y1="780.5" x2="126.4" y2="780.5" stroke="#000" stroke-width="1.3" />
<line x1="1083.9" y1="780.5" x2="1090.5" y2="780.5" stroke="#000" stroke-width="1.3" />
<line x1="132.5" y1="865.5" x2="132.5" y2="1060.5" stroke="#000" stroke-width="1.3" />
<line x1="132.5" y1="950.3" x2="1090.5" y2="950.3" stroke="#000" stroke-width="1.3" />
<line x1="132.5" y1="1060.5" x2="1090.5" y2="1060.5" stroke="#000" stroke-width="1.3" />
<line x1="116.0" y1="103.4" x2="120.5" y2="103.4" stroke="#000" stroke-width="1" />
<text x="113.0" y="107.8" font-size="12.5" fill="#000" text-anchor="end" font-family="Liberation Sans"  stroke="#fff" stroke-width="0.2">500</text>
<line x1="116.0" y1="167.6" x2="120.5" y2="167.6" stroke="#000" stroke-width="1" />
<text x="113.0" y="172.0" font-size="12.5" fill="#000" text-anchor="end" font-family="Liberation Sans"  stroke="#fff" stroke-width="0.2">600</text>
<line x1="116.0" y1="231.8" x2="120.5" y2="231.8" stroke="#000" stroke-width="1" />
<text x="113.0" y="236.2" font-size="12.5" fill="#000" text-anchor="end" font-family="Liberation Sans"  stroke="#fff" stroke-width="0.2">700</text>
<line x1="116.0" y1="296.1" x2="120.5" y2="296.1" stroke="#000" stroke-width="1" />
<text x="113.0" y="300.5" font-size="12.5" fill="#000" text-anchor="end" font-family="Liberation Sans"  stroke="#fff" stroke-width="0.2">800</text>
<line x1="116.0" y1="360.3" x2="120.5" y2="360.3" stroke="#000" stroke-width="1" />
<text x="113.0" y="364.7" font-size="12.5" fill="#000" text-anchor="end" font-family="Liberation Sans"  stroke="#fff" stroke-width="0.2">900</text>
<line x1="116.0" y1="424.5" x2="120.5" y2="424.5" stroke="#000" stroke-width="1" />
<text x="113.0" y="428.9" font-size="12.5" fill="#000" text-anchor="end" font-family="Liberation Sans"  stroke="#fff" stroke-width="0.2">1000</text>
<line x1="175.5" y1="64.5" x2="175.5" y2="70.5" stroke="#000" stroke-width="1" />
<text x="175.5" y="62.3" font-size="13.5" fill="#000" text-anchor="middle" font-family="Liberation Sans"  stroke="#fff" stroke-width="0.2">5DEC</text>
<line x1="175.5" y1="1060.5" x2="175.5" y2="1066.0" stroke="#000" stroke-width="1" />
<text x="175.5" y="1080.5" font-size="13.5" fill="#000" text-anchor="middle" font-family="Liberation Sans"  stroke="#fff" stroke-width="0.2">5DEC</text>
<line x1="273.7" y1="64.5" x2="273.7" y2="70.5" stroke="#000" stroke-width="1" />
<text x="273.7" y="62.3" font-size="13.5" fill="#000" text-anchor="middle" font-family="Liberation Sans"  stroke="#fff" stroke-width="0.2">6DEC</text>
<line x1="273.7" y1="1060.5" x2="273.7" y2="1066.0" stroke="#000" stroke-width="1" />
<text x="273.7" y="1080.5" font-size="13.5" fill="#000" text-anchor="middle" font-family="Liberation Sans"  stroke="#fff" stroke-width="0.2">6DEC</text>
<line x1="371.9" y1="64.5" x2="371.9" y2="70.5" stroke="#000" stroke-width="1" />
<text x="371.9" y="62.3" font-size="13.5" fill="#000" text-anchor="middle" font-family="Liberation Sans"  stroke="#fff" stroke-width="0.2">7DEC</text>
<line x1="371.9" y1="1060.5" x2="371.9" y2="1066.0" stroke="#000" stroke-width="1" />
<text x="371.9" y="1080.5" font-size="13.5" fill="#000" text-anchor="middle" font-family="Liberation Sans"  stroke="#fff" stroke-width="0.2">7DEC</text>
<line x1="470.1" y1="64.5" x2="470.1" y2="70.5" stroke="#000" stroke-width="1" />
<text x="470.1" y="62.3" font-size="13.5" fill="#000" text-anchor="middle" font-family="Liberation Sans"  stroke="#fff" stroke-width="0.2">8DEC</text>
<line x1="470.1" y1="1060.5" x2="470.1" y2="1066.0" stroke="#000" stroke-width="1" />
<text x="470.1" y="1080.5" font-size="13.5" fill="#000" text-anchor="middle" font-family="Liberation Sans"  stroke="#fff" stroke-width="0.2">8DEC</text>
<line x1="568.3" y1="64.5" x2="568.3" y2="70.5" stroke="#000" stroke-width="1" />
<text x="568.3" y="62.3" font-size="13.5" fill="#000" text-anchor="middle" font-family="Liberation Sans"  stroke="#fff" stroke-width="0.2">9DEC</text>
<line x1="568.3" y1="1060.5" x2="568.3" y2="1066.0" stroke="#000" stroke-width="1" />
<text x="568.3" y="1080.5" font-size="13.5" fill="#000" text-anchor="middle" font-family="Liberation Sans"  stroke="#fff" stroke-width="0.2">9DEC</text>
<line x1="666.5" y1="64.5" x2="666.5" y2="70.5" stroke="#000" stroke-width="1" />
<text x="666.5" y="62.3" font-size="13.5" fill="#000" text-anchor="middle" font-family="Liberation Sans"  stroke="#fff" stroke-width="0.2">10DEC</text>
<line x1="666.5" y1="1060.5" x2="666.5" y2="1066.0" stroke="#000" stroke-width="1" />
<text x="666.5" y="1080.5" font-size="13.5" fill="#000" text-anchor="middle" font-family="Liberation Sans"  stroke="#fff" stroke-width="0.2">10DEC</text>
<line x1="764.7" y1="64.5" x2="764.7" y2="70.5" stroke="#000" stroke-width="1" />
<text x="764.7" y="62.3" font-size="13.5" fill="#000" text-anchor="middle" font-family="Liberation Sans"  stroke="#fff" stroke-width="0.2">11DEC</text>
<line x1="764.7" y1="1060.5" x2="764.7" y2="1066.0" stroke="#000" stroke-width="1" />
<text x="764.7" y="1080.5" font-size="13.5" fill="#000" text-anchor="middle" font-family="Liberation Sans"  stroke="#fff" stroke-width="0.2">11DEC</text>
<line x1="862.9" y1="64.5" x2="862.9" y2="70.5" stroke="#000" stroke-width="1" />
<text x="862.9" y="62.3" font-size="13.5" fill="#000" text-anchor="middle" font-family="Liberation Sans"  stroke="#fff" stroke-width="0.2">12DEC</text>
<line x1="862.9" y1="1060.5" x2="862.9" y2="1066.0" stroke="#000" stroke-width="1" />
<text x="862.9" y="1080.5" font-size="13.5" fill="#000" text-anchor="middle" font-family="Liberation Sans"  stroke="#fff" stroke-width="0.2">12DEC</text>
<line x1="961.1" y1="64.5" x2="961.1" y2="70.5" stroke="#000" stroke-width="1" />
<text x="961.1" y="62.3" font-size="13.5" fill="#000" text-anchor="middle" font-family="Liberation Sans"  stroke="#fff" stroke-width="0.2">13DEC</text>
<line x1="961.1" y1="1060.5" x2="961.1" y2="1066.0" stroke="#000" stroke-width="1" />
<text x="961.1" y="1080.5" font-size="13.5" fill="#000" text-anchor="middle" font-family="Liberation Sans"  stroke="#fff" stroke-width="0.2">13DEC</text>
<line x1="1059.3" y1="64.5" x2="1059.3" y2="70.5" stroke="#000" stroke-width="1" />
<text x="1059.3" y="62.3" font-size="13.5" fill="#000" text-anchor="middle" font-family="Liberation Sans"  stroke="#fff" stroke-width="0.2">14DEC</text>
<line x1="1059.3" y1="1060.5" x2="1059.3" y2="1066.0" stroke="#000" stroke-width="1" />
<text x="1059.3" y="1080.5" font-size="13.5" fill="#000" text-anchor="middle" font-family="Liberation Sans"  stroke="#fff" stroke-width="0.2">14DEC</text>
<line x1="116.0" y1="454.4" x2="120.5" y2="454.4" stroke="#000" stroke-width="1" />
<text x="113.0" y="458.8" font-size="12.5" fill="#000" text-anchor="end" font-family="Liberation Sans"  stroke="#fff" stroke-width="0.2">1024</text>
<line x1="116.0" y1="477.5" x2="120.5" y2="477.5" stroke="#000" stroke-width="1" />
<text x="113.0" y="481.9" font-size="12.5" fill="#000" text-anchor="end" font-family="Liberation Sans"  stroke="#fff" stroke-width="0.2">1020</text>
<line x1="116.0" y1="500.5" x2="120.5" y2="500.5" stroke="#000" stroke-width="1" />
<text x="113.0" y="504.9" font-size="12.5" fill="#000" text-anchor="end" font-family="Liberation Sans"  stroke="#fff" stroke-width="0.2">1016</text>
<line x1="116.0" y1="523.0" x2="120.5" y2="523.0" stroke="#000" stroke-width="1" />
<text x="113.0" y="527.4" font-size="12.5" fill="#000" text-anchor="end" font-family="Liberation Sans" clip-path="url(#c1012)" stroke="#fff" stroke-width="0.2">1012</text>
<line x1="70.0" y1="440.5" x2="70.0" y2="525.5" stroke="#000" stroke-width="1.2" />
<line x1="65.5" y1="452.5" x2="70.0" y2="452.5" stroke="#000" stroke-width="1" />
<text x="62.5" y="456.9" font-size="12.5" fill="#000" text-anchor="end" font-family="Liberation Sans"  stroke="#fff" stroke-width="0.2">560</text>
<line x1="65.5" y1="473.8" x2="70.0" y2="473.8" stroke="#000" stroke-width="1" />
<text x="62.5" y="478.1" font-size="12.5" fill="#000" text-anchor="end" font-family="Liberation Sans"  stroke="#fff" stroke-width="0.2">555</text>
<line x1="65.5" y1="494.8" x2="70.0" y2="494.8" stroke="#000" stroke-width="1" />
<text x="62.5" y="499.1" font-size="12.5" fill="#000" text-anchor="end" font-family="Liberation Sans"  stroke="#fff" stroke-width="0.2">550</text>
<line x1="65.5" y1="515.5" x2="70.0" y2="515.5" stroke="#000" stroke-width="1" />
<text x="62.5" y="519.9" font-size="12.5" fill="#000" text-anchor="end" font-family="Liberation Sans"  stroke="#fff" stroke-width="0.2">545</text>
<line x1="50.0" y1="525.5" x2="50.0" y2="610.5" stroke="#000" stroke-width="1.2" />
<line x1="45.5" y1="525.8" x2="50.0" y2="525.8" stroke="#000" stroke-width="1" />
<text x="42.5" y="530.2" font-size="12.5" fill="#000" text-anchor="end" font-family="Liberation Sans"  stroke="#fff" stroke-width="0.2">−6</text>
<line x1="45.5" y1="546.8" x2="50.0" y2="546.8" stroke="#000" stroke-width="1" />
<text x="42.5" y="551.1" font-size="12.5" fill="#000" text-anchor="end" font-family="Liberation Sans"  stroke="#fff" stroke-width="0.2">−3</text>
<line x1="45.5" y1="568.0" x2="50.0" y2="568.0" stroke="#000" stroke-width="1" />
<text x="42.5" y="572.4" font-size="12.5" fill="#000" text-anchor="end" font-family="Liberation Sans"  stroke="#fff" stroke-width="0.2">0</text>
<line x1="45.5" y1="589.2" x2="50.0" y2="589.2" stroke="#000" stroke-width="1" />
<text x="42.5" y="593.6" font-size="12.5" fill="#000" text-anchor="end" font-family="Liberation Sans"  stroke="#fff" stroke-width="0.2">3</text>
<line x1="45.5" y1="610.2" x2="50.0" y2="610.2" stroke="#000" stroke-width="1" />
<text x="42.5" y="614.6" font-size="12.5" fill="#000" text-anchor="end" font-family="Liberation Sans"  stroke="#fff" stroke-width="0.2">6</text>
<line x1="116.0" y1="543.0" x2="120.5" y2="543.0" stroke="#000" stroke-width="1" />
<text x="113.0" y="547.4" font-size="12.5" fill="#000" text-anchor="end" font-family="Liberation Sans"  stroke="#fff" stroke-width="0.2">8</text>
<line x1="116.0" y1="562.5" x2="120.5" y2="562.5" stroke="#000" stroke-width="1" />
<text x="113.0" y="566.9" font-size="12.5" fill="#000" text-anchor="end" font-family="Liberation Sans"  stroke="#fff" stroke-width="0.2">6</text>
<line x1="116.0" y1="581.7" x2="120.5" y2="581.7" stroke="#000" stroke-width="1" />
<text x="113.0" y="586.1" font-size="12.5" fill="#000" text-anchor="end" font-family="Liberation Sans"  stroke="#fff" stroke-width="0.2">4</text>
<line x1="116.0" y1="601.5" x2="120.5" y2="601.5" stroke="#000" stroke-width="1" />
<text x="113.0" y="605.9" font-size="12.5" fill="#000" text-anchor="end" font-family="Liberation Sans"  stroke="#fff" stroke-width="0.2">2</text>
<line x1="116.0" y1="626.2" x2="120.5" y2="626.2" stroke="#000" stroke-width="1" />
<text x="113.0" y="630.6" font-size="12.5" fill="#000" text-anchor="end" font-family="Liberation Sans"  stroke="#fff" stroke-width="0.2">12</text>
<line x1="116.0" y1="647.8" x2="120.5" y2="647.8" stroke="#000" stroke-width="1" />
<text x="113.0" y="652.1" font-size="12.5" fill="#000" text-anchor="end" font-family="Liberation Sans"  stroke="#fff" stroke-width="0.2">8</text>
<line x1="116.0" y1="669.5" x2="120.5" y2="669.5" stroke="#000" stroke-width="1" />
<text x="113.0" y="673.9" font-size="12.5" fill="#000" text-anchor="end" font-family="Liberation Sans"  stroke="#fff" stroke-width="0.2">4</text>
<line x1="116.0" y1="691.2" x2="120.5" y2="691.2" stroke="#000" stroke-width="1" />
<text x="113.0" y="695.6" font-size="12.5" fill="#000" text-anchor="end" font-family="Liberation Sans"  stroke="#fff" stroke-width="0.2">0</text>
<line x1="116.0" y1="710.0" x2="120.5" y2="710.0" stroke="#000" stroke-width="1" />
<text x="113.0" y="714.4" font-size="12.5" fill="#000" text-anchor="end" font-family="Liberation Sans"  stroke="#fff" stroke-width="0.2">16</text>
<line x1="116.0" y1="725.2" x2="120.5" y2="725.2" stroke="#000" stroke-width="1" />
<text x="113.0" y="729.6" font-size="12.5" fill="#000" text-anchor="end" font-family="Liberation Sans"  stroke="#fff" stroke-width="0.2">12</text>
<line x1="116.0" y1="740.6" x2="120.5" y2="740.6" stroke="#000" stroke-width="1" />
<text x="113.0" y="745.0" font-size="12.5" fill="#000" text-anchor="end" font-family="Liberation Sans"  stroke="#fff" stroke-width="0.2">8</text>
<line x1="116.0" y1="756.0" x2="120.5" y2="756.0" stroke="#000" stroke-width="1" />
<text x="113.0" y="760.4" font-size="12.5" fill="#000" text-anchor="end" font-family="Liberation Sans"  stroke="#fff" stroke-width="0.2">4</text>
<line x1="116.0" y1="771.5" x2="120.5" y2="771.5" stroke="#000" stroke-width="1" />
<text x="113.0" y="775.9" font-size="12.5" fill="#000" text-anchor="end" font-family="Liberation Sans"  stroke="#fff" stroke-width="0.2">0</text>
<line x1="1086.5" y1="710.0" x2="1090.5" y2="710.0" stroke="#000" stroke-width="1" />
<line x1="1086.5" y1="725.2" x2="1090.5" y2="725.2" stroke="#000" stroke-width="1" />
<line x1="1086.5" y1="740.6" x2="1090.5" y2="740.6" stroke="#000" stroke-width="1" />
<line x1="1086.5" y1="756.0" x2="1090.5" y2="756.0" stroke="#000" stroke-width="1" />
<line x1="1086.5" y1="771.5" x2="1090.5" y2="771.5" stroke="#000" stroke-width="1" />
<line x1="116.0" y1="781.0" x2="120.5" y2="781.0" stroke="#000" stroke-width="1" />
<text x="113.0" y="785.4" font-size="12.5" fill="#000" text-anchor="end" font-family="Liberation Sans"  stroke="#fff" stroke-width="0.2">90</text>
<line x1="116.0" y1="794.7" x2="120.5" y2="794.7" stroke="#000" stroke-width="1" />
<text x="113.0" y="799.1" font-size="12.5" fill="#000" text-anchor="end" font-family="Liberation Sans"  stroke="#fff" stroke-width="0.2">80</text>
<line x1="116.0" y1="809.0" x2="120.5" y2="809.0" stroke="#000" stroke-width="1" />
<text x="113.0" y="813.4" font-size="12.5" fill="#000" text-anchor="end" font-family="Liberation Sans"  stroke="#fff" stroke-width="0.2">70</text>
<line x1="116.0" y1="823.2" x2="120.5" y2="823.2" stroke="#000" stroke-width="1" />
<text x="113.0" y="827.6" font-size="12.5" fill="#000" text-anchor="end" font-family="Liberation Sans"  stroke="#fff" stroke-width="0.2">60</text>
<line x1="116.0" y1="837.4" x2="120.5" y2="837.4" stroke="#000" stroke-width="1" />
<text x="113.0" y="841.8" font-size="12.5" fill="#000" text-anchor="end" font-family="Liberation Sans"  stroke="#fff" stroke-width="0.2">50</text>
<line x1="116.0" y1="851.6" x2="120.5" y2="851.6" stroke="#000" stroke-width="1" />
<text x="113.0" y="856.0" font-size="12.5" fill="#000" text-anchor="end" font-family="Liberation Sans"  stroke="#fff" stroke-width="0.2">40</text>
<line x1="128.0" y1="893.2" x2="132.5" y2="893.2" stroke="#000" stroke-width="1" />
<line x1="128.0" y1="920.6" x2="132.5" y2="920.6" stroke="#000" stroke-width="1" />
<line x1="128.0" y1="948.8" x2="132.5" y2="948.8" stroke="#000" stroke-width="1" />
<text x="122.0" y="886.5" font-size="15" fill="#000" text-anchor="end" font-family="Liberation Sans"  stroke="#fff" stroke-width="0.2">high</text>
<text x="122.0" y="914.2" font-size="15" fill="#000" text-anchor="end" font-family="Liberation Sans"  stroke="#fff" stroke-width="0.2">middle</text>
<text x="122.0" y="942.5" font-size="15" fill="#000" text-anchor="end" font-family="Liberation Sans"  stroke="#fff" stroke-width="0.2">low</text>
<line x1="128.0" y1="972.5" x2="132.5" y2="972.5" stroke="#000" stroke-width="1" />
<text x="125.0" y="976.9" font-size="12.5" fill="#000" text-anchor="end" font-family="Liberation Sans"  stroke="#fff" stroke-width="0.2">0.8</text>
<line x1="128.0" y1="994.5" x2="132.5" y2="994.5" stroke="#000" stroke-width="1" />
<text x="125.0" y="998.9" font-size="12.5" fill="#000" text-anchor="end" font-family="Liberation Sans"  stroke="#fff" stroke-width="0.2">0.6</text>
<line x1="128.0" y1="1016.3" x2="132.5" y2="1016.3" stroke="#000" stroke-width="1" />
<text x="125.0" y="1020.7" font-size="12.5" fill="#000" text-anchor="end" font-family="Liberation Sans"  stroke="#fff" stroke-width="0.2">0.4</text>
<line x1="128.0" y1="1038.3" x2="132.5" y2="1038.3" stroke="#000" stroke-width="1" />
<text x="125.0" y="1042.7" font-size="12.5" fill="#000" text-anchor="end" font-family="Liberation Sans"  stroke="#fff" stroke-width="0.2">0.2</text>
<line x1="128.0" y1="1060.3" x2="132.5" y2="1060.3" stroke="#000" stroke-width="1" />
<text x="125.0" y="1064.7" font-size="12.5" fill="#000" text-anchor="end" font-family="Liberation Sans"  stroke="#fff" stroke-width="0.2">0</text>
<text x="1086.0" y="964.5" font-size="14" fill="#000" text-anchor="end" font-family="Liberation Sans" textLength="126" lengthAdjust="spacingAndGlyphs" word-spacing="3" stroke="#fff" stroke-width="0.2">Run Total = 0.25</text>
<text x="5.0" y="1095.0" font-size="12" fill="#000" text-anchor="start" font-family="Liberation Sans" textLength="115" lengthAdjust="spacing" stroke="#fff" stroke-width="0.2">GrADS: COLA/IGES</text>
<rect x="40.0" y="282.0" width="4.9" height="54.0" fill="#00c300" />
<rect x="44.7" y="282.0" width="5.6" height="54.0" fill="#00ff00" />
<rect x="50.1" y="282.0" width="4.3" height="54.0" fill="#78d778" />
<rect x="54.2" y="282.0" width="5.0" height="54.0" fill="#a0cda0" />
<rect x="59.0" y="282.0" width="4.2" height="54.0" fill="#c8d7c8" />
<text transform="translate(56.5,308.0) rotate(-90)" font-size="16" fill="#000" text-anchor="middle" font-family="Liberation Sans" textLength="48" lengthAdjust="spacingAndGlyphs">RH (%)</text>
<text transform="translate(57.0,263.5) rotate(-90)" font-size="16" fill="#f04040" text-anchor="start" font-family="Liberation Sans"  stroke="#fff" stroke-width="0.2">T</text>
<text transform="translate(57.0,255.1) rotate(-90)" font-size="16" fill="#f07828" text-anchor="start" font-family="Liberation Sans"  stroke="#fff" stroke-width="0.2">e</text>
<text transform="translate(57.0,247.6) rotate(-90)" font-size="16" fill="#f0a028" text-anchor="start" font-family="Liberation Sans"  stroke="#fff" stroke-width="0.2">m</text>
<text transform="translate(57.0,236.6) rotate(-90)" font-size="16" fill="#e6c828" text-anchor="start" font-family="Liberation Sans"  stroke="#fff" stroke-width="0.2">p</text>
<text transform="translate(57.0,229.2) rotate(-90)" font-size="16" fill="#a0dc28" text-anchor="start" font-family="Liberation Sans"  stroke="#fff" stroke-width="0.2">e</text>
<text transform="translate(57.0,221.8) rotate(-90)" font-size="16" fill="#28c850" text-anchor="start" font-family="Liberation Sans"  stroke="#fff" stroke-width="0.2">r</text>
<text transform="translate(57.0,217.0) rotate(-90)" font-size="16" fill="#00c8a0" text-anchor="start" font-family="Liberation Sans"  stroke="#fff" stroke-width="0.2">a</text>
<text transform="translate(57.0,209.6) rotate(-90)" font-size="16" fill="#00b4e6" text-anchor="start" font-family="Liberation Sans"  stroke="#fff" stroke-width="0.2">t</text>
<text transform="translate(57.0,205.5) rotate(-90)" font-size="16" fill="#2864ff" text-anchor="start" font-family="Liberation Sans"  stroke="#fff" stroke-width="0.2">u</text>
<text transform="translate(57.0,198.0) rotate(-90)" font-size="16" fill="#5a32f0" text-anchor="start" font-family="Liberation Sans"  stroke="#fff" stroke-width="0.2">r</text>
<text transform="translate(57.0,193.3) rotate(-90)" font-size="16" fill="#9600d2" text-anchor="start" font-family="Liberation Sans"  stroke="#fff" stroke-width="0.2">e</text>
<text transform="translate(57.0,178.0) rotate(-90)" font-size="16" fill="#ff4060" text-anchor="start" font-family="Liberation Sans" textLength="27" stroke="#fff" stroke-width="0.2">(°C)</text>
<text transform="translate(57.0,148.0) rotate(-90)" font-size="16" fill="#000" text-anchor="start" font-family="Liberation Sans" textLength="81" lengthAdjust="spacing" stroke="#fff" stroke-width="0.2">Wind (m/s)</text>
<text transform="translate(85.0,256.0) rotate(-90)" font-size="16" fill="#000" text-anchor="middle" font-family="Liberation Sans" textLength="138" lengthAdjust="spacing" stroke="#fff" stroke-width="0.2">(millibars)</text>
<text transform="translate(21.0,482.0) rotate(-90)" font-size="16" fill="#00c8c8" text-anchor="middle" font-family="Liberation Sans" textLength="94" lengthAdjust="spacing" stroke="#fff" stroke-width="0.2">1000−500mb</text>
<text transform="translate(38.0,483.0) rotate(-90)" font-size="16" fill="#00c8c8" text-anchor="middle" font-family="Liberation Sans" textLength="94" lengthAdjust="spacing" stroke="#fff" stroke-width="0.2">Thcknss (dm)</text>
<text transform="translate(85.2,483.5) rotate(-90)" font-size="16" fill="#1e32f0" text-anchor="middle" font-family="Liberation Sans" textLength="69" lengthAdjust="spacing" stroke="#fff" stroke-width="0.2">SLP (mb)</text>
<text transform="translate(24.0,568.0) rotate(-90)" font-size="16" fill="#ff3c3c" text-anchor="middle" font-family="Liberation Sans" textLength="83" lengthAdjust="spacing" stroke="#fff" stroke-width="0.2">Lifted Index</text>
<text transform="translate(86.0,568.0) rotate(-90)" font-size="16" fill="#c878fa" text-anchor="middle" font-family="Liberation Sans" textLength="88" lengthAdjust="spacing" stroke="#fff" stroke-width="0.2">CAPE (J/kg)</text>
<text transform="translate(21.0,653.0) rotate(-90)" font-size="16" fill="#ff9614" text-anchor="middle" font-family="Liberation Sans" textLength="68" lengthAdjust="spacing" stroke="#fff" stroke-width="0.2">10m Wind</text>
<text transform="translate(41.0,654.0) rotate(-90)" font-size="16" fill="#ff9614" text-anchor="middle" font-family="Liberation Sans" textLength="41" lengthAdjust="spacing" stroke="#fff" stroke-width="0.2">Speed</text>
<text transform="translate(61.0,654.5) rotate(-90)" font-size="16" fill="#966e50" text-anchor="middle" font-family="Liberation Sans" textLength="62" lengthAdjust="spacing" stroke="#fff" stroke-width="0.2">&amp; Barbs</text>
<text transform="translate(82.0,652.5) rotate(-90)" font-size="16" fill="#000" text-anchor="middle" font-family="Liberation Sans" textLength="43" lengthAdjust="spacing" stroke="#fff" stroke-width="0.2">(m/s)</text>
<text transform="translate(21.0,738.0) rotate(-90)" font-size="16" fill="#96503c" text-anchor="middle" font-family="Liberation Sans" textLength="67" lengthAdjust="spacing" stroke="#fff" stroke-width="0.2">2m Temp</text>
<text transform="translate(41.0,738.0) rotate(-90)" font-size="16" fill="#96503c" text-anchor="middle" font-family="Liberation Sans" textLength="72" lengthAdjust="spacing" stroke="#fff" stroke-width="0.2">2m DewPt</text>
<text transform="translate(61.0,737.0) rotate(-90)" font-size="16" fill="#96503c" text-anchor="middle" font-family="Liberation Sans" textLength="104" lengthAdjust="spacing" stroke="#fff" stroke-width="0.2">(6hr Min/Max)</text>
<text transform="translate(82.0,738.5) rotate(-90)" font-size="16" fill="#000" text-anchor="middle" font-family="Liberation Sans" textLength="28" stroke="#fff" stroke-width="0.2">(°C)</text>
<text transform="translate(41.0,823.0) rotate(-90)" font-size="16" fill="#1ec81e" text-anchor="middle" font-family="Liberation Sans" textLength="48" lengthAdjust="spacing" stroke="#fff" stroke-width="0.2">2m RH</text>
<text transform="translate(82.0,823.5) rotate(-90)" font-size="16" fill="#000" text-anchor="middle" font-family="Liberation Sans" textLength="22" stroke="#fff" stroke-width="0.2">(%)</text>
<text transform="translate(31.0,907.5) rotate(-90)" font-size="16" fill="#5aa0d7" text-anchor="middle" font-family="Liberation Sans" textLength="84" lengthAdjust="spacing" stroke="#fff" stroke-width="0.2">Cloud Cover</text>
<text transform="translate(52.0,908.0) rotate(-90)" font-size="16" fill="#000" text-anchor="middle" font-family="Liberation Sans" textLength="22" stroke="#fff" stroke-width="0.2">(%)</text>
<text transform="translate(88.0,988.0) rotate(-90)" font-size="16" fill="#000" text-anchor="middle" font-family="Liberation Sans" textLength="122" lengthAdjust="spacing" stroke="#fff" stroke-width="0.2">3hr Precip (mm)</text>
<text x="69.0" y="977.0" font-size="16" fill="#1ec81e" text-anchor="end" font-family="Liberation Sans" textLength="92" lengthAdjust="spacing" stroke="#fff" stroke-width="0.2">Total / Rain</text>
<text x="69.0" y="998.0" font-size="16" fill="#ff4040" text-anchor="end" font-family="Liberation Sans" textLength="80" lengthAdjust="spacing" stroke="#fff" stroke-width="0.2">Convective</text>
<text x="420.0" y="33.0" font-size="22.5" fill="#000" text-anchor="start" font-family="Liberation Serif" font-weight="bold" textLength="45.4" lengthAdjust="spacingAndGlyphs" stroke="#fff" stroke-width="0.55">GFS</text>
<text x="481.0" y="33.0" font-size="22.5" fill="#000" text-anchor="start" font-family="Liberation Serif" font-weight="bold" textLength="105.5" lengthAdjust="spacingAndGlyphs" stroke="#fff" stroke-width="0.55">0~10day</text>
<text x="603.0" y="33.0" font-size="22.5" fill="#000" text-anchor="start" font-family="Liberation Serif" font-weight="bold" textLength="114.4" lengthAdjust="spacingAndGlyphs" stroke="#fff" stroke-width="0.55">3−hourly</text>
<text x="732.0" y="33.0" font-size="22.5" fill="#000" text-anchor="start" font-family="Liberation Serif" font-weight="bold" textLength="40.5" lengthAdjust="spacingAndGlyphs" stroke="#fff" stroke-width="0.55">for</text>
<text x="784.0" y="33.0" font-size="22.5" fill="#000" text-anchor="start" font-family="Liberation Serif" font-weight="bold" textLength="85.0" lengthAdjust="spacingAndGlyphs" stroke="#fff" stroke-width="0.55">BARIKA</text>
<text x="885.6" y="33.0" font-size="22.5" fill="#000" text-anchor="start" font-family="Liberation Serif" font-weight="bold" textLength="80.4" lengthAdjust="spacingAndGlyphs" stroke="#fff" stroke-width="0.55">(5.25E,</text>
<text x="985.4" y="33.0" font-size="22.5" fill="#000" text-anchor="start" font-family="Liberation Serif" font-weight="bold" textLength="91.6" lengthAdjust="spacingAndGlyphs" stroke="#fff" stroke-width="0.55">35.25N)</text></svg></body></html>
